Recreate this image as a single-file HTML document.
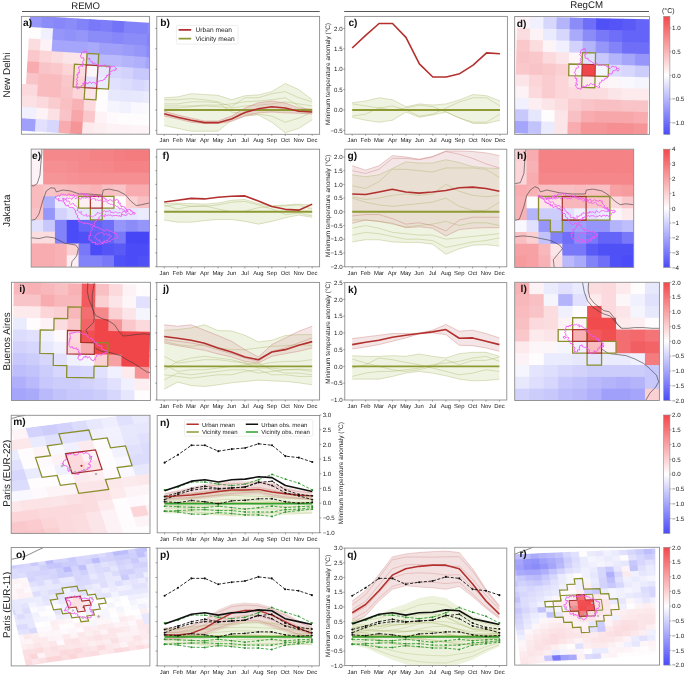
<!DOCTYPE html><html><head><meta charset="utf-8"><style>html,body{margin:0;padding:0;background:#fff;overflow:hidden}svg{display:block;font-family:"Liberation Sans",sans-serif;text-rendering:geometricPrecision;will-change:transform}</style></head><body>
<svg width="685" height="676" viewBox="0 0 685 676">
<rect width="685" height="676" fill="#fff"/>
<text x="85.7" y="9.3" font-size="9.6" text-anchor="middle" fill="#222">REMO</text>
<text x="586.6" y="8.2" font-size="9.7" text-anchor="middle" fill="#222">RegCM</text>
<line x1="22" y1="11.5" x2="319.7" y2="11.5" stroke="#444" stroke-width="0.9"/>
<line x1="344.2" y1="11.5" x2="649" y2="11.5" stroke="#444" stroke-width="0.9"/>
<text transform="translate(9.6,75) rotate(-90)" font-size="9.9" text-anchor="middle" fill="#222">New Delhi</text>
<text transform="translate(9.6,210.7) rotate(-90)" font-size="9.9" text-anchor="middle" fill="#222">Jakarta</text>
<text transform="translate(9.6,341.4) rotate(-90)" font-size="9.9" text-anchor="middle" fill="#222">Buenos Aires</text>
<text transform="translate(9.6,473.2) rotate(-90)" font-size="9.9" text-anchor="middle" fill="#222">Paris (EUR-22)</text>
<text transform="translate(9.6,604.8) rotate(-90)" font-size="9.9" text-anchor="middle" fill="#222">Paris (EUR-11)</text>
<clipPath id="c1"><rect x="21.4" y="16.4" width="128.2" height="117.8"/></clipPath>
<g clip-path="url(#c1)">
<rect x="21.4" y="16.4" width="128.2" height="117.8" fill="#fff"/>
<g transform="translate(18.4,14.8) rotate(3.5)">
<rect x="0" y="0" width="12.7" height="12.35" fill="#ffffff"/>
<rect x="11.8" y="0" width="12.7" height="12.35" fill="#9696fa"/>
<rect x="23.6" y="0" width="12.7" height="12.35" fill="#8c8cf9"/>
<rect x="35.4" y="0" width="12.7" height="12.35" fill="#8787f9"/>
<rect x="47.2" y="0" width="12.7" height="12.35" fill="#8c8cf9"/>
<rect x="59" y="0" width="12.7" height="12.35" fill="#8282f9"/>
<rect x="70.8" y="0" width="12.7" height="12.35" fill="#7878f9"/>
<rect x="82.6" y="0" width="12.7" height="12.35" fill="#7d7df9"/>
<rect x="94.4" y="0" width="12.7" height="12.35" fill="#7373f8"/>
<rect x="106.2" y="0" width="12.7" height="12.35" fill="#8282f9"/>
<rect x="118" y="0" width="12.7" height="12.35" fill="#8282f9"/>
<rect x="129.8" y="0" width="12.7" height="12.35" fill="#8c8cf9"/>
<rect x="0" y="11.45" width="12.7" height="12.35" fill="#ffffff"/>
<rect x="11.8" y="11.45" width="12.7" height="12.35" fill="#fefcfc"/>
<rect x="23.6" y="11.45" width="12.7" height="12.35" fill="#f0f0fe"/>
<rect x="35.4" y="11.45" width="12.7" height="12.35" fill="#9696fa"/>
<rect x="47.2" y="11.45" width="12.7" height="12.35" fill="#9191fa"/>
<rect x="59" y="11.45" width="12.7" height="12.35" fill="#9696fa"/>
<rect x="70.8" y="11.45" width="12.7" height="12.35" fill="#8c8cf9"/>
<rect x="82.6" y="11.45" width="12.7" height="12.35" fill="#8c8cf9"/>
<rect x="94.4" y="11.45" width="12.7" height="12.35" fill="#8787f9"/>
<rect x="106.2" y="11.45" width="12.7" height="12.35" fill="#8c8cf9"/>
<rect x="118" y="11.45" width="12.7" height="12.35" fill="#8c8cf9"/>
<rect x="129.8" y="11.45" width="12.7" height="12.35" fill="#8282f9"/>
<rect x="0" y="22.9" width="12.7" height="12.35" fill="#ffffff"/>
<rect x="11.8" y="22.9" width="12.7" height="12.35" fill="#fbdde0"/>
<rect x="23.6" y="22.9" width="12.7" height="12.35" fill="#fdf2f5"/>
<rect x="35.4" y="22.9" width="12.7" height="12.35" fill="#a5a5fb"/>
<rect x="47.2" y="22.9" width="12.7" height="12.35" fill="#a5a5fb"/>
<rect x="59" y="22.9" width="12.7" height="12.35" fill="#a5a5fb"/>
<rect x="70.8" y="22.9" width="12.7" height="12.35" fill="#aaaafb"/>
<rect x="82.6" y="22.9" width="12.7" height="12.35" fill="#a0a0fa"/>
<rect x="94.4" y="22.9" width="12.7" height="12.35" fill="#a0a0fa"/>
<rect x="106.2" y="22.9" width="12.7" height="12.35" fill="#9b9bfa"/>
<rect x="118" y="22.9" width="12.7" height="12.35" fill="#9696fa"/>
<rect x="129.8" y="22.9" width="12.7" height="12.35" fill="#8c8cf9"/>
<rect x="0" y="34.35" width="12.7" height="12.35" fill="#ffffff"/>
<rect x="11.8" y="34.35" width="12.7" height="12.35" fill="#fac8cb"/>
<rect x="23.6" y="34.35" width="12.7" height="12.35" fill="#fbd5d8"/>
<rect x="35.4" y="34.35" width="12.7" height="12.35" fill="#fbdde0"/>
<rect x="47.2" y="34.35" width="12.7" height="12.35" fill="#fce5e8"/>
<rect x="59" y="34.35" width="12.7" height="12.35" fill="#fce5e8"/>
<rect x="70.8" y="34.35" width="12.7" height="12.35" fill="#c8c8fc"/>
<rect x="82.6" y="34.35" width="12.7" height="12.35" fill="#b9b9fb"/>
<rect x="94.4" y="34.35" width="12.7" height="12.35" fill="#b9b9fb"/>
<rect x="106.2" y="34.35" width="12.7" height="12.35" fill="#b4b4fb"/>
<rect x="118" y="34.35" width="12.7" height="12.35" fill="#afaffb"/>
<rect x="129.8" y="34.35" width="12.7" height="12.35" fill="#a5a5fb"/>
<rect x="0" y="45.8" width="12.7" height="12.35" fill="#ffffff"/>
<rect x="11.8" y="45.8" width="12.7" height="12.35" fill="#f8acaf"/>
<rect x="23.6" y="45.8" width="12.7" height="12.35" fill="#f9c4c7"/>
<rect x="35.4" y="45.8" width="12.7" height="12.35" fill="#fac8cb"/>
<rect x="47.2" y="45.8" width="12.7" height="12.35" fill="#fbd5d8"/>
<rect x="59" y="45.8" width="12.7" height="12.35" fill="#fbdde0"/>
<rect x="70.8" y="45.8" width="12.7" height="12.35" fill="#fdf6f9"/>
<rect x="82.6" y="45.8" width="12.7" height="12.35" fill="#e6e6fd"/>
<rect x="94.4" y="45.8" width="12.7" height="12.35" fill="#d7d7fd"/>
<rect x="106.2" y="45.8" width="12.7" height="12.35" fill="#d2d2fd"/>
<rect x="118" y="45.8" width="12.7" height="12.35" fill="#c8c8fc"/>
<rect x="129.8" y="45.8" width="12.7" height="12.35" fill="#c8c8fc"/>
<rect x="0" y="57.25" width="12.7" height="12.35" fill="#ffffff"/>
<rect x="11.8" y="57.25" width="12.7" height="12.35" fill="#f9c4c7"/>
<rect x="23.6" y="57.25" width="12.7" height="12.35" fill="#f9bbbe"/>
<rect x="35.4" y="57.25" width="12.7" height="12.35" fill="#f9bbbe"/>
<rect x="47.2" y="57.25" width="12.7" height="12.35" fill="#fac8cb"/>
<rect x="59" y="57.25" width="12.7" height="12.35" fill="#fbd5d8"/>
<rect x="70.8" y="57.25" width="12.7" height="12.35" fill="#e1e1fd"/>
<rect x="82.6" y="57.25" width="12.7" height="12.35" fill="#ebebfe"/>
<rect x="94.4" y="57.25" width="12.7" height="12.35" fill="#e1e1fd"/>
<rect x="106.2" y="57.25" width="12.7" height="12.35" fill="#dcdcfd"/>
<rect x="118" y="57.25" width="12.7" height="12.35" fill="#d7d7fd"/>
<rect x="129.8" y="57.25" width="12.7" height="12.35" fill="#dcdcfd"/>
<rect x="0" y="68.7" width="12.7" height="12.35" fill="#fbd9dc"/>
<rect x="11.8" y="68.7" width="12.7" height="12.35" fill="#fbd9dc"/>
<rect x="23.6" y="68.7" width="12.7" height="12.35" fill="#f9bbbe"/>
<rect x="35.4" y="68.7" width="12.7" height="12.35" fill="#f9bbbe"/>
<rect x="47.2" y="68.7" width="12.7" height="12.35" fill="#f9c4c7"/>
<rect x="59" y="68.7" width="12.7" height="12.35" fill="#fbd5d8"/>
<rect x="70.8" y="68.7" width="12.7" height="12.35" fill="#fce5e8"/>
<rect x="82.6" y="68.7" width="12.7" height="12.35" fill="#fefcfc"/>
<rect x="94.4" y="68.7" width="12.7" height="12.35" fill="#e8e8fd"/>
<rect x="106.2" y="68.7" width="12.7" height="12.35" fill="#e6e6fd"/>
<rect x="118" y="68.7" width="12.7" height="12.35" fill="#e8e8fd"/>
<rect x="129.8" y="68.7" width="12.7" height="12.35" fill="#ebebfe"/>
<rect x="0" y="80.15" width="12.7" height="12.35" fill="#fbe1e4"/>
<rect x="11.8" y="80.15" width="12.7" height="12.35" fill="#fbe1e4"/>
<rect x="23.6" y="80.15" width="12.7" height="12.35" fill="#fbd9dc"/>
<rect x="35.4" y="80.15" width="12.7" height="12.35" fill="#facccf"/>
<rect x="47.2" y="80.15" width="12.7" height="12.35" fill="#f9c0c3"/>
<rect x="59" y="80.15" width="12.7" height="12.35" fill="#f8b2b5"/>
<rect x="70.8" y="80.15" width="12.7" height="12.35" fill="#fbd9dc"/>
<rect x="82.6" y="80.15" width="12.7" height="12.35" fill="#fefcfc"/>
<rect x="94.4" y="80.15" width="12.7" height="12.35" fill="#f5f5fe"/>
<rect x="106.2" y="80.15" width="12.7" height="12.35" fill="#f2f2fe"/>
<rect x="118" y="80.15" width="12.7" height="12.35" fill="#f8f8fe"/>
<rect x="129.8" y="80.15" width="12.7" height="12.35" fill="#fafafe"/>
<rect x="0" y="91.6" width="12.7" height="12.35" fill="#f0f0fe"/>
<rect x="11.8" y="91.6" width="12.7" height="12.35" fill="#f0f0fe"/>
<rect x="23.6" y="91.6" width="12.7" height="12.35" fill="#fdf2f5"/>
<rect x="35.4" y="91.6" width="12.7" height="12.35" fill="#fbe1e4"/>
<rect x="47.2" y="91.6" width="12.7" height="12.35" fill="#f9c4c7"/>
<rect x="59" y="91.6" width="12.7" height="12.35" fill="#f7a7aa"/>
<rect x="70.8" y="91.6" width="12.7" height="12.35" fill="#fac8cb"/>
<rect x="82.6" y="91.6" width="12.7" height="12.35" fill="#fdf2f5"/>
<rect x="94.4" y="91.6" width="12.7" height="12.35" fill="#fdf9fc"/>
<rect x="106.2" y="91.6" width="12.7" height="12.35" fill="#fefcfc"/>
<rect x="118" y="91.6" width="12.7" height="12.35" fill="#fefcfc"/>
<rect x="129.8" y="91.6" width="12.7" height="12.35" fill="#fefcfc"/>
<rect x="0" y="103.05" width="12.7" height="12.35" fill="#a0a0fa"/>
<rect x="11.8" y="103.05" width="12.7" height="12.35" fill="#a0a0fa"/>
<rect x="23.6" y="103.05" width="12.7" height="12.35" fill="#e1e1fd"/>
<rect x="35.4" y="103.05" width="12.7" height="12.35" fill="#d7d7fd"/>
<rect x="47.2" y="103.05" width="12.7" height="12.35" fill="#f8acaf"/>
<rect x="59" y="103.05" width="12.7" height="12.35" fill="#f69598"/>
<rect x="70.8" y="103.05" width="12.7" height="12.35" fill="#fceaed"/>
<rect x="82.6" y="103.05" width="12.7" height="12.35" fill="#fceef1"/>
<rect x="94.4" y="103.05" width="12.7" height="12.35" fill="#fdf2f5"/>
<rect x="106.2" y="103.05" width="12.7" height="12.35" fill="#fdf2f5"/>
<rect x="118" y="103.05" width="12.7" height="12.35" fill="#fdf4f7"/>
<rect x="129.8" y="103.05" width="12.7" height="12.35" fill="#fdf4f7"/>
</g>
<path d="M86.97,53.41 L98.75,54.13 L98.05,65.56 L109.83,66.28 L108.43,89.13 L96.65,88.41 L95.95,99.84 L84.17,99.12 L84.87,87.69 L73.1,86.97 L74.49,64.12 L86.27,64.84 Z" fill="none" stroke="#8a8f2c" stroke-width="1.3" stroke-linejoin="miter"/><path d="M86.27,64.84 L98.05,65.56 L96.65,88.41 L84.87,87.69 Z" fill="none" stroke="#a8302e" stroke-width="1.2" stroke-linejoin="miter"/><path d="M82.6,52.1 L83.87,52.6 L84.67,50.73 L86.01,51.62 L87.1,51.2 L86.43,52.49 L87.7,53.62 L87.77,54.84 L87.5,56.1 L87.12,57.65 L87.46,58.77 L90.05,58.56 L89.54,60.18 L90.4,61 L91.25,61.73 L92.47,61.7 L92.79,63.53 L94.3,62.9 L95.26,63.71 L96.43,64.26 L97.2,65.3 L98.64,64.51 L99.03,66.5 L100.67,65.18 L101.2,66.8 L101.87,65.71 L103.2,65.96 L104.01,65.13 L105.1,64.9 L105.43,66.49 L106.48,67.12 L108.73,66.13 L109,67.8 L110.36,68.65 L111.13,66.05 L112.46,66.72 L113.55,66.01 L114.9,66.8 L115.56,67.58 L116.11,68.44 L116.8,69.2 L115.56,68.99 L115.11,70.61 L113.73,70.06 L112.85,70.68 L111.9,71.12 L111,71.7 L109.17,71.84 L110.37,74.32 L108.23,74.23 L108,75.6 L106.45,75.42 L106.48,77.53 L105.1,77.6 L104.89,79.35 L103.44,79.44 L102.82,80.64 L101.2,80.5 L100.15,80.67 L99.21,81.19 L98.2,81.5 L96.78,81.95 L96.62,83.23 L96.3,84.4 L95.7,83.15 L94.65,82.83 L93.59,82.54 L92.4,82.5 L91.58,83.51 L90.2,82.06 L89.12,81.94 L88.4,83.4 L86.81,83.72 L86.21,82.53 L85.5,81.5 L84.28,81.77 L84.73,83.48 L82.73,83.07 L83.67,85.21 L82.4,85.43 L81.23,85.74 L80.88,86.76 L80.2,87.49 L79.6,88.3 L78.66,87.94 L77.37,89.06 L76.81,87.05 L75.7,87.4 L76.81,86.65 L76.39,85.46 L76.07,84.3 L78.05,83.81 L76.51,82.29 L76.76,81.3 L77.7,80.5 L76.2,79.54 L77.28,78.14 L77.9,76.82 L77.32,75.71 L76.7,74.6 L78.11,74.64 L78.09,72.51 L79.6,72.7 L79.33,71.73 L79.17,70.75 L79.57,69.63 L78.7,68.8 L78.57,67.03 L79.94,66.77 L80.41,65.61 L82.86,66.42 L82.02,63.96 L83.6,63.9 L82.61,62.67 L82.75,61.45 L84.31,60.23 L83.6,59 L83.53,57.58 L81.63,58.03 L81.02,57.16 L80.6,56.1 L80.83,54.97 L81.57,54.09 L81.53,52.82 Z" fill="none" stroke="#f055f0" stroke-width="0.9" stroke-linejoin="round"/>
</g>
<rect x="21.4" y="16.4" width="128.2" height="117.8" fill="none" stroke="#8c8c8c" stroke-width="0.9"/>
<text x="23.1" y="26.4" font-size="10.2" font-weight="bold" fill="#111">a)</text>
<clipPath id="c2"><rect x="156.8" y="16.4" width="162.8" height="117.9"/></clipPath>
<g clip-path="url(#c2)">
<polygon points="164.2,97.76 177.65,96.94 191.11,93.68 204.56,94.5 218.02,95.31 231.47,99.8 244.93,95.72 258.38,94.9 271.84,91.64 285.29,83.48 298.75,89.6 312.2,99.8 312.2,119.79 298.75,128.36 285.29,132.85 271.84,122.24 258.38,114.9 244.93,116.12 231.47,120.2 218.02,131.22 204.56,131.22 191.11,131.22 177.65,128.36 164.2,125.5" fill="#eaf1da" fill-opacity="0.8"/>
<polyline points="164.2,97.76 177.65,96.94 191.11,93.68 204.56,94.5 218.02,95.31 231.47,99.8 244.93,95.72 258.38,94.9 271.84,91.64 285.29,83.48 298.75,89.6 312.2,99.8" fill="none" stroke="#a6ad5c" stroke-width="0.5" stroke-opacity="0.7" stroke-linejoin="round"/>
<polyline points="164.2,125.5 177.65,128.36 191.11,131.22 204.56,131.22 218.02,131.22 231.47,120.2 244.93,116.12 258.38,114.9 271.84,122.24 285.29,132.85 298.75,128.36 312.2,119.79" fill="none" stroke="#a6ad5c" stroke-width="0.5" stroke-opacity="0.7" stroke-linejoin="round"/>
<polyline points="164.2,99.8 177.65,99.8 191.11,98.58 204.56,99.8 218.02,101.84 231.47,106.74 244.93,97.76 258.38,97.76 271.84,93.68 285.29,91.64 298.75,97.76 312.2,101.84" fill="none" stroke="#a6ad5c" stroke-width="0.5" stroke-opacity="0.7" stroke-linejoin="round"/>
<polyline points="164.2,103.88 177.65,103.88 191.11,101.84 204.56,101.84 218.02,102.66 231.47,112.04 244.93,114.08 258.38,114.08 271.84,116.12 285.29,122.24 298.75,118.16 312.2,112.04" fill="none" stroke="#a6ad5c" stroke-width="0.5" stroke-opacity="0.7" stroke-linejoin="round"/>
<polyline points="164.2,107.96 177.65,107.96 191.11,106.74 204.56,105.92 218.02,106.74 231.47,107.96 244.93,105.92 258.38,105.1 271.84,103.88 285.29,101.84 298.75,103.88 312.2,105.92" fill="none" stroke="#a6ad5c" stroke-width="0.5" stroke-opacity="0.7" stroke-linejoin="round"/>
<polyline points="164.2,105.92 177.65,105.92 191.11,105.92 204.56,105.1 218.02,105.1 231.47,103.88 244.93,101.84 258.38,101.02 271.84,99.8 285.29,97.76 298.75,105.92 312.2,112.04" fill="none" stroke="#a6ad5c" stroke-width="0.5" stroke-opacity="0.7" stroke-linejoin="round"/>
<polygon points="164.2,111.22 177.65,114.9 191.11,118.16 204.56,121.02 218.02,121.02 231.47,116.12 244.93,107.96 258.38,102.66 271.84,101.02 285.29,103.06 298.75,107.96 312.2,109.18 312.2,114.08 298.75,113.26 285.29,112.86 271.84,112.04 258.38,112.86 244.93,116.12 231.47,121.42 218.02,123.46 204.56,123.46 191.11,122.24 177.65,118.98 164.2,116.12" fill="#d9a0a0" fill-opacity="0.35"/>
<polyline points="164.2,111.22 177.65,114.9 191.11,118.16 204.56,121.02 218.02,121.02 231.47,116.12 244.93,107.96 258.38,102.66 271.84,101.02 285.29,103.06 298.75,107.96 312.2,109.18" fill="none" stroke="#c86a6a" stroke-width="0.5" stroke-opacity="0.7" stroke-linejoin="round"/>
<polyline points="164.2,116.12 177.65,118.98 191.11,122.24 204.56,123.46 218.02,123.46 231.47,121.42 244.93,116.12 258.38,112.86 271.84,112.04 285.29,112.86 298.75,113.26 312.2,114.08" fill="none" stroke="#c86a6a" stroke-width="0.5" stroke-opacity="0.7" stroke-linejoin="round"/>
<polyline points="164.2,110 177.65,110 191.11,110 204.56,110 218.02,110 231.47,110 244.93,110 258.38,110 271.84,110 285.29,110 298.75,110 312.2,110" fill="none" stroke="#8f9a35" stroke-width="1.9" stroke-linejoin="round"/>
<polyline points="164.2,113.67 177.65,117.34 191.11,120.2 204.56,122.65 218.02,122.65 231.47,118.98 244.93,112.45 258.38,108.78 271.84,106.74 285.29,107.96 298.75,111.22 312.2,112.04" fill="none" stroke="#b3302f" stroke-width="1.6" stroke-linejoin="round"/>
<rect x="176.4" y="25.4" width="61.7" height="18.7" rx="1.5" fill="#fff" fill-opacity="0.85" stroke="#e2e2e2" stroke-width="0.6"/>
<line x1="178.6" y1="29.9" x2="191.2" y2="29.9" stroke="#b3302f" stroke-width="1.6"/>
<line x1="178.6" y1="38.6" x2="191.2" y2="38.6" stroke="#8f9a35" stroke-width="1.6"/>
<text x="195.6" y="32.3" font-size="6.6" fill="#222">Urban mean</text>
<text x="195.6" y="41.0" font-size="6.6" fill="#222">Vicinity mean</text>
</g>
<rect x="156.8" y="16.4" width="162.8" height="117.9" fill="none" stroke="#8c8c8c" stroke-width="0.9"/>
<line x1="164.2" y1="134.3" x2="164.2" y2="135.9" stroke="#666" stroke-width="0.6"/>
<text x="164.2" y="142.3" font-size="5.9" text-anchor="middle" fill="#222">Jan</text>
<line x1="177.65" y1="134.3" x2="177.65" y2="135.9" stroke="#666" stroke-width="0.6"/>
<text x="177.65" y="142.3" font-size="5.9" text-anchor="middle" fill="#222">Feb</text>
<line x1="191.11" y1="134.3" x2="191.11" y2="135.9" stroke="#666" stroke-width="0.6"/>
<text x="191.11" y="142.3" font-size="5.9" text-anchor="middle" fill="#222">Mar</text>
<line x1="204.56" y1="134.3" x2="204.56" y2="135.9" stroke="#666" stroke-width="0.6"/>
<text x="204.56" y="142.3" font-size="5.9" text-anchor="middle" fill="#222">Apr</text>
<line x1="218.02" y1="134.3" x2="218.02" y2="135.9" stroke="#666" stroke-width="0.6"/>
<text x="218.02" y="142.3" font-size="5.9" text-anchor="middle" fill="#222">May</text>
<line x1="231.47" y1="134.3" x2="231.47" y2="135.9" stroke="#666" stroke-width="0.6"/>
<text x="231.47" y="142.3" font-size="5.9" text-anchor="middle" fill="#222">Jun</text>
<line x1="244.93" y1="134.3" x2="244.93" y2="135.9" stroke="#666" stroke-width="0.6"/>
<text x="244.93" y="142.3" font-size="5.9" text-anchor="middle" fill="#222">Jul</text>
<line x1="258.38" y1="134.3" x2="258.38" y2="135.9" stroke="#666" stroke-width="0.6"/>
<text x="258.38" y="142.3" font-size="5.9" text-anchor="middle" fill="#222">Aug</text>
<line x1="271.84" y1="134.3" x2="271.84" y2="135.9" stroke="#666" stroke-width="0.6"/>
<text x="271.84" y="142.3" font-size="5.9" text-anchor="middle" fill="#222">Sep</text>
<line x1="285.29" y1="134.3" x2="285.29" y2="135.9" stroke="#666" stroke-width="0.6"/>
<text x="285.29" y="142.3" font-size="5.9" text-anchor="middle" fill="#222">Oct</text>
<line x1="298.75" y1="134.3" x2="298.75" y2="135.9" stroke="#666" stroke-width="0.6"/>
<text x="298.75" y="142.3" font-size="5.9" text-anchor="middle" fill="#222">Nov</text>
<line x1="312.2" y1="134.3" x2="312.2" y2="135.9" stroke="#666" stroke-width="0.6"/>
<text x="312.2" y="142.3" font-size="5.9" text-anchor="middle" fill="#222">Dec</text>
<line x1="155.2" y1="130.4" x2="156.8" y2="130.4" stroke="#666" stroke-width="0.6"/>
<line x1="155.2" y1="110" x2="156.8" y2="110" stroke="#666" stroke-width="0.6"/>
<line x1="155.2" y1="89.6" x2="156.8" y2="89.6" stroke="#666" stroke-width="0.6"/>
<line x1="155.2" y1="69.2" x2="156.8" y2="69.2" stroke="#666" stroke-width="0.6"/>
<line x1="155.2" y1="48.8" x2="156.8" y2="48.8" stroke="#666" stroke-width="0.6"/>
<line x1="155.2" y1="28.4" x2="156.8" y2="28.4" stroke="#666" stroke-width="0.6"/>
<text x="160.3" y="26.4" font-size="10.2" font-weight="bold" fill="#111">b)</text>
<clipPath id="c3"><rect x="344.8" y="16.4" width="162.6" height="117.8"/></clipPath>
<g clip-path="url(#c3)">
<polygon points="352.2,102.66 365.64,101.02 379.07,97.76 392.51,99.8 405.95,106.74 419.38,103.88 432.82,105.1 446.25,103.88 459.69,99.8 473.13,94.5 486.56,95.72 500,101.02 500,120.2 486.56,123.46 473.13,123.46 459.69,118.16 446.25,112.04 432.82,114.9 419.38,117.34 405.95,112.04 392.51,120.2 379.07,122.24 365.64,120.2 352.2,117.34" fill="#eaf1da" fill-opacity="0.8"/>
<polyline points="352.2,102.66 365.64,101.02 379.07,97.76 392.51,99.8 405.95,106.74 419.38,103.88 432.82,105.1 446.25,103.88 459.69,99.8 473.13,94.5 486.56,95.72 500,101.02" fill="none" stroke="#a6ad5c" stroke-width="0.5" stroke-opacity="0.7" stroke-linejoin="round"/>
<polyline points="352.2,117.34 365.64,120.2 379.07,122.24 392.51,120.2 405.95,112.04 419.38,117.34 432.82,114.9 446.25,112.04 459.69,118.16 473.13,123.46 486.56,123.46 500,120.2" fill="none" stroke="#a6ad5c" stroke-width="0.5" stroke-opacity="0.7" stroke-linejoin="round"/>
<polyline points="352.2,103.88 365.64,105.92 379.07,107.96 392.51,105.92 405.95,110 419.38,116.12 432.82,114.08 446.25,107.96 459.69,101.84 473.13,97.76 486.56,97.76 500,105.92" fill="none" stroke="#a6ad5c" stroke-width="0.5" stroke-opacity="0.7" stroke-linejoin="round"/>
<polyline points="352.2,116.12 365.64,114.08 379.07,107.96 392.51,110 405.95,107.96 419.38,105.1 432.82,106.74 446.25,112.04 459.69,118.16 473.13,122.24 486.56,122.24 500,114.08" fill="none" stroke="#a6ad5c" stroke-width="0.5" stroke-opacity="0.7" stroke-linejoin="round"/>
<polyline points="352.2,110 365.64,110 379.07,110 392.51,110 405.95,110 419.38,110 432.82,110 446.25,110 459.69,110 473.13,110 486.56,110 500,110" fill="none" stroke="#8f9a35" stroke-width="1.9" stroke-linejoin="round"/>
<polyline points="352.2,47.98 365.64,35.34 379.07,23.5 392.51,23.5 405.95,37.38 419.38,63.9 432.82,76.95 446.25,76.95 459.69,73.69 473.13,65.12 486.56,52.88 500,53.7" fill="none" stroke="#b3302f" stroke-width="1.6" stroke-linejoin="round"/>
</g>
<rect x="344.8" y="16.4" width="162.6" height="117.8" fill="none" stroke="#8c8c8c" stroke-width="0.9"/>
<line x1="352.2" y1="134.2" x2="352.2" y2="135.8" stroke="#666" stroke-width="0.6"/>
<text x="352.2" y="142.2" font-size="5.9" text-anchor="middle" fill="#222">Jan</text>
<line x1="365.64" y1="134.2" x2="365.64" y2="135.8" stroke="#666" stroke-width="0.6"/>
<text x="365.64" y="142.2" font-size="5.9" text-anchor="middle" fill="#222">Feb</text>
<line x1="379.07" y1="134.2" x2="379.07" y2="135.8" stroke="#666" stroke-width="0.6"/>
<text x="379.07" y="142.2" font-size="5.9" text-anchor="middle" fill="#222">Mar</text>
<line x1="392.51" y1="134.2" x2="392.51" y2="135.8" stroke="#666" stroke-width="0.6"/>
<text x="392.51" y="142.2" font-size="5.9" text-anchor="middle" fill="#222">Apr</text>
<line x1="405.95" y1="134.2" x2="405.95" y2="135.8" stroke="#666" stroke-width="0.6"/>
<text x="405.95" y="142.2" font-size="5.9" text-anchor="middle" fill="#222">May</text>
<line x1="419.38" y1="134.2" x2="419.38" y2="135.8" stroke="#666" stroke-width="0.6"/>
<text x="419.38" y="142.2" font-size="5.9" text-anchor="middle" fill="#222">Jun</text>
<line x1="432.82" y1="134.2" x2="432.82" y2="135.8" stroke="#666" stroke-width="0.6"/>
<text x="432.82" y="142.2" font-size="5.9" text-anchor="middle" fill="#222">Jul</text>
<line x1="446.25" y1="134.2" x2="446.25" y2="135.8" stroke="#666" stroke-width="0.6"/>
<text x="446.25" y="142.2" font-size="5.9" text-anchor="middle" fill="#222">Aug</text>
<line x1="459.69" y1="134.2" x2="459.69" y2="135.8" stroke="#666" stroke-width="0.6"/>
<text x="459.69" y="142.2" font-size="5.9" text-anchor="middle" fill="#222">Sep</text>
<line x1="473.13" y1="134.2" x2="473.13" y2="135.8" stroke="#666" stroke-width="0.6"/>
<text x="473.13" y="142.2" font-size="5.9" text-anchor="middle" fill="#222">Oct</text>
<line x1="486.56" y1="134.2" x2="486.56" y2="135.8" stroke="#666" stroke-width="0.6"/>
<text x="486.56" y="142.2" font-size="5.9" text-anchor="middle" fill="#222">Nov</text>
<line x1="500" y1="134.2" x2="500" y2="135.8" stroke="#666" stroke-width="0.6"/>
<text x="500" y="142.2" font-size="5.9" text-anchor="middle" fill="#222">Dec</text>
<line x1="343.2" y1="130.4" x2="344.8" y2="130.4" stroke="#666" stroke-width="0.6"/>
<line x1="343.2" y1="110" x2="344.8" y2="110" stroke="#666" stroke-width="0.6"/>
<line x1="343.2" y1="89.6" x2="344.8" y2="89.6" stroke="#666" stroke-width="0.6"/>
<line x1="343.2" y1="69.2" x2="344.8" y2="69.2" stroke="#666" stroke-width="0.6"/>
<line x1="343.2" y1="48.8" x2="344.8" y2="48.8" stroke="#666" stroke-width="0.6"/>
<line x1="343.2" y1="28.4" x2="344.8" y2="28.4" stroke="#666" stroke-width="0.6"/>
<text x="342.6" y="132.6" font-size="6.1" text-anchor="end" fill="#222">−0.5</text>
<text x="342.6" y="112.2" font-size="6.1" text-anchor="end" fill="#222">0.0</text>
<text x="342.6" y="91.8" font-size="6.1" text-anchor="end" fill="#222">0.5</text>
<text x="342.6" y="71.4" font-size="6.1" text-anchor="end" fill="#222">1.0</text>
<text x="342.6" y="51" font-size="6.1" text-anchor="end" fill="#222">1.5</text>
<text x="342.6" y="30.6" font-size="6.1" text-anchor="end" fill="#222">2.0</text>
<text x="348.4" y="26.4" font-size="10.2" font-weight="bold" fill="#111">c)</text>
<text transform="translate(330,74) rotate(-90)" font-size="6.45" text-anchor="middle" fill="#222">Minimum temperature anomaly (°C)</text>
<clipPath id="c4"><rect x="514.7" y="16.5" width="134.7" height="117.9"/></clipPath>
<g clip-path="url(#c4)">
<rect x="514.7" y="16.5" width="134.7" height="117.9" fill="#fff"/>
<g transform="translate(517.1,16.5) rotate(1.2)">
<rect x="0" y="0" width="14.1" height="12.5" fill="#fdf2f5"/>
<rect x="13.2" y="0" width="14.1" height="12.5" fill="#f0f0fe"/>
<rect x="26.4" y="0" width="14.1" height="12.5" fill="#d7d7fd"/>
<rect x="39.6" y="0" width="14.1" height="12.5" fill="#b4b4fb"/>
<rect x="52.8" y="0" width="14.1" height="12.5" fill="#8c8cf9"/>
<rect x="66" y="0" width="14.1" height="12.5" fill="#6e6ef8"/>
<rect x="79.2" y="0" width="14.1" height="12.5" fill="#5050f7"/>
<rect x="92.4" y="0" width="14.1" height="12.5" fill="#5555f7"/>
<rect x="105.6" y="0" width="14.1" height="12.5" fill="#5a5af7"/>
<rect x="118.8" y="0" width="14.1" height="12.5" fill="#6464f8"/>
<rect x="0" y="11.6" width="14.1" height="12.5" fill="#fbdde0"/>
<rect x="13.2" y="11.6" width="14.1" height="12.5" fill="#fdf2f5"/>
<rect x="26.4" y="11.6" width="14.1" height="12.5" fill="#ebebfe"/>
<rect x="39.6" y="11.6" width="14.1" height="12.5" fill="#d7d7fd"/>
<rect x="52.8" y="11.6" width="14.1" height="12.5" fill="#aaaafb"/>
<rect x="66" y="11.6" width="14.1" height="12.5" fill="#8c8cf9"/>
<rect x="79.2" y="11.6" width="14.1" height="12.5" fill="#7878f9"/>
<rect x="92.4" y="11.6" width="14.1" height="12.5" fill="#6e6ef8"/>
<rect x="105.6" y="11.6" width="14.1" height="12.5" fill="#6464f8"/>
<rect x="118.8" y="11.6" width="14.1" height="12.5" fill="#6464f8"/>
<rect x="0" y="23.2" width="14.1" height="12.5" fill="#fac8cb"/>
<rect x="13.2" y="23.2" width="14.1" height="12.5" fill="#fbdde0"/>
<rect x="26.4" y="23.2" width="14.1" height="12.5" fill="#fdf4f7"/>
<rect x="39.6" y="23.2" width="14.1" height="12.5" fill="#f0f0fe"/>
<rect x="52.8" y="23.2" width="14.1" height="12.5" fill="#d2d2fd"/>
<rect x="66" y="23.2" width="14.1" height="12.5" fill="#b4b4fb"/>
<rect x="79.2" y="23.2" width="14.1" height="12.5" fill="#9696fa"/>
<rect x="92.4" y="23.2" width="14.1" height="12.5" fill="#8282f9"/>
<rect x="105.6" y="23.2" width="14.1" height="12.5" fill="#6e6ef8"/>
<rect x="118.8" y="23.2" width="14.1" height="12.5" fill="#6e6ef8"/>
<rect x="0" y="34.8" width="14.1" height="12.5" fill="#f9c4c7"/>
<rect x="13.2" y="34.8" width="14.1" height="12.5" fill="#fac8cb"/>
<rect x="26.4" y="34.8" width="14.1" height="12.5" fill="#fbd9dc"/>
<rect x="39.6" y="34.8" width="14.1" height="12.5" fill="#fce5e8"/>
<rect x="52.8" y="34.8" width="14.1" height="12.5" fill="#fdf6f9"/>
<rect x="66" y="34.8" width="14.1" height="12.5" fill="#e1e1fd"/>
<rect x="79.2" y="34.8" width="14.1" height="12.5" fill="#c8c8fc"/>
<rect x="92.4" y="34.8" width="14.1" height="12.5" fill="#b4b4fb"/>
<rect x="105.6" y="34.8" width="14.1" height="12.5" fill="#a5a5fb"/>
<rect x="118.8" y="34.8" width="14.1" height="12.5" fill="#9696fa"/>
<rect x="0" y="46.4" width="14.1" height="12.5" fill="#fac8cb"/>
<rect x="13.2" y="46.4" width="14.1" height="12.5" fill="#f9c4c7"/>
<rect x="26.4" y="46.4" width="14.1" height="12.5" fill="#fac8cb"/>
<rect x="39.6" y="46.4" width="14.1" height="12.5" fill="#fad0d3"/>
<rect x="52.8" y="46.4" width="14.1" height="12.5" fill="#fdf2f5"/>
<rect x="66" y="46.4" width="14.1" height="12.5" fill="#f14649"/>
<rect x="79.2" y="46.4" width="14.1" height="12.5" fill="#f5f5fe"/>
<rect x="92.4" y="46.4" width="14.1" height="12.5" fill="#dcdcfd"/>
<rect x="105.6" y="46.4" width="14.1" height="12.5" fill="#d7d7fd"/>
<rect x="118.8" y="46.4" width="14.1" height="12.5" fill="#cdcdfc"/>
<rect x="0" y="58" width="14.1" height="12.5" fill="#fce5e8"/>
<rect x="13.2" y="58" width="14.1" height="12.5" fill="#fbd5d8"/>
<rect x="26.4" y="58" width="14.1" height="12.5" fill="#facccf"/>
<rect x="39.6" y="58" width="14.1" height="12.5" fill="#fbd5d8"/>
<rect x="52.8" y="58" width="14.1" height="12.5" fill="#fce5e8"/>
<rect x="66" y="58" width="14.1" height="12.5" fill="#fceaed"/>
<rect x="79.2" y="58" width="14.1" height="12.5" fill="#fdf2f5"/>
<rect x="92.4" y="58" width="14.1" height="12.5" fill="#fdf6f9"/>
<rect x="105.6" y="58" width="14.1" height="12.5" fill="#f8f8fe"/>
<rect x="118.8" y="58" width="14.1" height="12.5" fill="#f5f5fe"/>
<rect x="0" y="69.6" width="14.1" height="12.5" fill="#fdf2f5"/>
<rect x="13.2" y="69.6" width="14.1" height="12.5" fill="#fbd9dc"/>
<rect x="26.4" y="69.6" width="14.1" height="12.5" fill="#facccf"/>
<rect x="39.6" y="69.6" width="14.1" height="12.5" fill="#fbd5d8"/>
<rect x="52.8" y="69.6" width="14.1" height="12.5" fill="#fbd9dc"/>
<rect x="66" y="69.6" width="14.1" height="12.5" fill="#fbdde0"/>
<rect x="79.2" y="69.6" width="14.1" height="12.5" fill="#fbdde0"/>
<rect x="92.4" y="69.6" width="14.1" height="12.5" fill="#fce5e8"/>
<rect x="105.6" y="69.6" width="14.1" height="12.5" fill="#fceaed"/>
<rect x="118.8" y="69.6" width="14.1" height="12.5" fill="#fceaed"/>
<rect x="0" y="81.2" width="14.1" height="12.5" fill="#f0f0fe"/>
<rect x="13.2" y="81.2" width="14.1" height="12.5" fill="#fceef1"/>
<rect x="26.4" y="81.2" width="14.1" height="12.5" fill="#fce5e8"/>
<rect x="39.6" y="81.2" width="14.1" height="12.5" fill="#fbdde0"/>
<rect x="52.8" y="81.2" width="14.1" height="12.5" fill="#facccf"/>
<rect x="66" y="81.2" width="14.1" height="12.5" fill="#f9c4c7"/>
<rect x="79.2" y="81.2" width="14.1" height="12.5" fill="#f9c0c3"/>
<rect x="92.4" y="81.2" width="14.1" height="12.5" fill="#f9c0c3"/>
<rect x="105.6" y="81.2" width="14.1" height="12.5" fill="#f9c4c7"/>
<rect x="118.8" y="81.2" width="14.1" height="12.5" fill="#f9c4c7"/>
<rect x="0" y="92.8" width="14.1" height="12.5" fill="#c8c8fc"/>
<rect x="13.2" y="92.8" width="14.1" height="12.5" fill="#e6e6fd"/>
<rect x="26.4" y="92.8" width="14.1" height="12.5" fill="#fefcfc"/>
<rect x="39.6" y="92.8" width="14.1" height="12.5" fill="#fce5e8"/>
<rect x="52.8" y="92.8" width="14.1" height="12.5" fill="#f9c0c3"/>
<rect x="66" y="92.8" width="14.1" height="12.5" fill="#f8acaf"/>
<rect x="79.2" y="92.8" width="14.1" height="12.5" fill="#f7a7aa"/>
<rect x="92.4" y="92.8" width="14.1" height="12.5" fill="#f7a7aa"/>
<rect x="105.6" y="92.8" width="14.1" height="12.5" fill="#f7a7aa"/>
<rect x="118.8" y="92.8" width="14.1" height="12.5" fill="#f8acaf"/>
<rect x="0" y="104.4" width="14.1" height="12.5" fill="#a5a5fb"/>
<rect x="13.2" y="104.4" width="14.1" height="12.5" fill="#c3c3fc"/>
<rect x="26.4" y="104.4" width="14.1" height="12.5" fill="#ebebfe"/>
<rect x="39.6" y="104.4" width="14.1" height="12.5" fill="#fce5e8"/>
<rect x="52.8" y="104.4" width="14.1" height="12.5" fill="#f8acaf"/>
<rect x="66" y="104.4" width="14.1" height="12.5" fill="#f69598"/>
<rect x="79.2" y="104.4" width="14.1" height="12.5" fill="#f69598"/>
<rect x="92.4" y="104.4" width="14.1" height="12.5" fill="#f68f92"/>
<rect x="105.6" y="104.4" width="14.1" height="12.5" fill="#f68f92"/>
<rect x="118.8" y="104.4" width="14.1" height="12.5" fill="#f69598"/>
</g>
<path d="M582.36,52.67 L595.55,52.95 L595.31,64.55 L608.51,64.82 L608.27,76.42 L595.07,76.15 L594.83,87.74 L581.63,87.47 L581.87,75.87 L568.67,75.59 L568.92,64 L582.11,64.27 Z" fill="none" stroke="#8a8f2c" stroke-width="1.3" stroke-linejoin="miter"/><path d="M582.11,64.27 L595.31,64.55 L595.07,76.15 L581.87,75.87 Z" fill="none" stroke="#a8302e" stroke-width="1" stroke-linejoin="miter"/><path d="M583.8,48.4 L585.4,48.74 L584.96,50.48 L585.29,51.69 L586.5,52.3 L586.29,53.33 L585.96,54.31 L584.52,54.89 L585.1,56.2 L585.03,57.87 L586.07,58.43 L587.91,58.19 L588.02,59.68 L589.1,60.2 L589.87,61.15 L591.21,61.26 L592.05,62.12 L593,62.8 L594.01,63.42 L594.64,64.82 L596.73,63.25 L597.67,64.01 L598.3,65.4 L599.4,65.4 L600.41,64.99 L601.6,65.35 L602.65,65.11 L603.5,64.1 L604.09,65.15 L605.38,65.28 L606.27,65.94 L606.91,66.93 L608.66,66.44 L608.8,68.1 L610.05,68.59 L610.96,67.46 L611.94,66.64 L612.96,66.05 L614.32,67.02 L615.4,66.7 L616.57,67.09 L616.63,69.09 L618.65,68.25 L619.3,69.4 L618.59,70.37 L617.85,71.25 L616,69.33 L615.25,70.18 L614.49,71.03 L613.2,70.51 L612.7,72 L612.22,73.08 L611.69,74.11 L609.7,73.68 L608.61,74.15 L608.8,75.9 L607.7,76.42 L607.38,78.11 L605.87,78.02 L604.8,78.6 L604.52,79.88 L603.44,80.36 L601.67,80.15 L601.72,81.76 L600.9,82.5 L599.16,82.96 L599.53,84.46 L598.82,85.42 L599.89,87.27 L598.3,87.8 L597.3,86.42 L595.6,86.5 L595.01,85.27 L594.41,84.05 L592.54,84.67 L591.7,83.8 L590.54,83.6 L589.63,84.34 L588.9,85.86 L587.49,84.62 L586.5,85.1 L586.29,86.66 L585.05,86.85 L583.02,86 L582.67,87.37 L581.41,87.54 L581.2,89.1 L579.93,89 L578.93,88.36 L577.52,88.56 L576.81,87.32 L575.9,86.5 L575.02,85.13 L577.79,84.73 L575.55,83.01 L576.75,82.19 L577.3,81.2 L576.08,80.49 L577.02,78.67 L575.1,78.32 L575.23,76.92 L574.6,75.9 L575.95,75.04 L575.4,73.81 L574.13,72.43 L575.22,71.52 L575.52,70.45 L575.9,69.4 L575.98,68.16 L577.65,67.88 L578.69,67.23 L577.71,65.34 L577.64,64.01 L579.66,63.94 L579.9,62.8 L581.43,61.96 L580.34,60.6 L580.91,59.57 L580.65,58.38 L581.67,57.44 L581.2,56.2 L580.54,55.34 L579.6,54.57 L581.07,52.99 L579.9,52.3 L580.82,51.66 L580.94,50.22 L581.91,49.63 L583.5,49.66 Z" fill="none" stroke="#f055f0" stroke-width="0.9" stroke-linejoin="round"/>
</g>
<rect x="514.7" y="16.5" width="134.7" height="117.9" fill="none" stroke="#8c8c8c" stroke-width="0.9"/>
<text x="516.8" y="26.5" font-size="10.2" font-weight="bold" fill="#111">d)</text>
<linearGradient id="g5" x1="0" y1="0" x2="0" y2="1">
<stop offset="0" stop-color="#f2484b"/>
<stop offset="0.05" stop-color="#f35a5d"/>
<stop offset="0.1" stop-color="#f46c6f"/>
<stop offset="0.15" stop-color="#f57e81"/>
<stop offset="0.2" stop-color="#f79193"/>
<stop offset="0.25" stop-color="#f8a3a5"/>
<stop offset="0.3" stop-color="#f9b5b7"/>
<stop offset="0.35" stop-color="#fbc8c9"/>
<stop offset="0.4" stop-color="#fcdadb"/>
<stop offset="0.45" stop-color="#fdeced"/>
<stop offset="0.5" stop-color="#ffffff"/>
<stop offset="0.55" stop-color="#ededfe"/>
<stop offset="0.6" stop-color="#dbdbfd"/>
<stop offset="0.65" stop-color="#c9c9fc"/>
<stop offset="0.7" stop-color="#b7b7fb"/>
<stop offset="0.75" stop-color="#a5a5fb"/>
<stop offset="0.8" stop-color="#9393fa"/>
<stop offset="0.85" stop-color="#8181f9"/>
<stop offset="0.9" stop-color="#6f6ff8"/>
<stop offset="0.95" stop-color="#5d5df7"/>
<stop offset="1" stop-color="#4b4bf7"/>
</linearGradient>
<rect x="663.7" y="16.3" width="6.2" height="118.1" fill="url(#g5)" stroke="#8c8c8c" stroke-width="0.6"/>
<line x1="669.9" y1="122.59" x2="671.4" y2="122.59" stroke="#666" stroke-width="0.5"/>
<text x="672.1" y="124.79" font-size="6.2" fill="#222">−1.0</text>
<line x1="669.9" y1="98.97" x2="671.4" y2="98.97" stroke="#666" stroke-width="0.5"/>
<text x="672.1" y="101.17" font-size="6.2" fill="#222">−0.5</text>
<line x1="669.9" y1="75.35" x2="671.4" y2="75.35" stroke="#666" stroke-width="0.5"/>
<text x="672.1" y="77.55" font-size="6.2" fill="#222">0.0</text>
<line x1="669.9" y1="51.73" x2="671.4" y2="51.73" stroke="#666" stroke-width="0.5"/>
<text x="672.1" y="53.93" font-size="6.2" fill="#222">0.5</text>
<line x1="669.9" y1="28.11" x2="671.4" y2="28.11" stroke="#666" stroke-width="0.5"/>
<text x="672.1" y="30.31" font-size="6.2" fill="#222">1.0</text>
<text x="668.3" y="13.1" font-size="7" text-anchor="middle" fill="#222">(°C)</text>
<clipPath id="c6"><rect x="31.2" y="149.1" width="118.2" height="118"/></clipPath>
<g clip-path="url(#c6)">
<rect x="31.2" y="149.1" width="118.2" height="118" fill="#fff"/>
<g transform="translate(31.3,149.1) rotate(0)">
<rect x="0" y="0" width="12.71" height="12.7" fill="#fdf6f9"/>
<rect x="11.81" y="0" width="12.71" height="12.7" fill="#f5888b"/>
<rect x="23.62" y="0" width="12.71" height="12.7" fill="#f5888b"/>
<rect x="35.43" y="0" width="12.71" height="12.7" fill="#f5888b"/>
<rect x="47.24" y="0" width="12.71" height="12.7" fill="#f58689"/>
<rect x="59.05" y="0" width="12.71" height="12.7" fill="#f58285"/>
<rect x="70.86" y="0" width="12.71" height="12.7" fill="#f58285"/>
<rect x="82.67" y="0" width="12.71" height="12.7" fill="#f47e81"/>
<rect x="94.48" y="0" width="12.71" height="12.7" fill="#f47b7e"/>
<rect x="106.29" y="0" width="12.71" height="12.7" fill="#f47b7e"/>
<rect x="0" y="11.8" width="12.71" height="12.7" fill="#fdf2f5"/>
<rect x="11.81" y="11.8" width="12.71" height="12.7" fill="#f68f92"/>
<rect x="23.62" y="11.8" width="12.71" height="12.7" fill="#f68f92"/>
<rect x="35.43" y="11.8" width="12.71" height="12.7" fill="#f58c8f"/>
<rect x="47.24" y="11.8" width="12.71" height="12.7" fill="#f5888b"/>
<rect x="59.05" y="11.8" width="12.71" height="12.7" fill="#f5888b"/>
<rect x="70.86" y="11.8" width="12.71" height="12.7" fill="#f58689"/>
<rect x="82.67" y="11.8" width="12.71" height="12.7" fill="#f58285"/>
<rect x="94.48" y="11.8" width="12.71" height="12.7" fill="#f58285"/>
<rect x="106.29" y="11.8" width="12.71" height="12.7" fill="#f58285"/>
<rect x="0" y="23.6" width="12.71" height="12.7" fill="#fdf2f5"/>
<rect x="11.81" y="23.6" width="12.71" height="12.7" fill="#f69598"/>
<rect x="23.62" y="23.6" width="12.71" height="12.7" fill="#f69598"/>
<rect x="35.43" y="23.6" width="12.71" height="12.7" fill="#f69295"/>
<rect x="47.24" y="23.6" width="12.71" height="12.7" fill="#f68f92"/>
<rect x="59.05" y="23.6" width="12.71" height="12.7" fill="#f68f92"/>
<rect x="70.86" y="23.6" width="12.71" height="12.7" fill="#f68f92"/>
<rect x="82.67" y="23.6" width="12.71" height="12.7" fill="#f68f92"/>
<rect x="94.48" y="23.6" width="12.71" height="12.7" fill="#f68f92"/>
<rect x="106.29" y="23.6" width="12.71" height="12.7" fill="#f68f92"/>
<rect x="0" y="35.4" width="12.71" height="12.7" fill="#f9bbbe"/>
<rect x="11.81" y="35.4" width="12.71" height="12.7" fill="#f9c4c7"/>
<rect x="23.62" y="35.4" width="12.71" height="12.7" fill="#f9c0c3"/>
<rect x="35.43" y="35.4" width="12.71" height="12.7" fill="#f9bbbe"/>
<rect x="47.24" y="35.4" width="12.71" height="12.7" fill="#f8b7ba"/>
<rect x="59.05" y="35.4" width="12.71" height="12.7" fill="#f8b2b5"/>
<rect x="70.86" y="35.4" width="12.71" height="12.7" fill="#f9c0c3"/>
<rect x="82.67" y="35.4" width="12.71" height="12.7" fill="#f9c4c7"/>
<rect x="94.48" y="35.4" width="12.71" height="12.7" fill="#f8acaf"/>
<rect x="106.29" y="35.4" width="12.71" height="12.7" fill="#f8acaf"/>
<rect x="0" y="47.2" width="12.71" height="12.7" fill="#f9bbbe"/>
<rect x="11.81" y="47.2" width="12.71" height="12.7" fill="#afaffb"/>
<rect x="23.62" y="47.2" width="12.71" height="12.7" fill="#ebebfe"/>
<rect x="35.43" y="47.2" width="12.71" height="12.7" fill="#fdf2f5"/>
<rect x="47.24" y="47.2" width="12.71" height="12.7" fill="#fceef1"/>
<rect x="59.05" y="47.2" width="12.71" height="12.7" fill="#fceef1"/>
<rect x="70.86" y="47.2" width="12.71" height="12.7" fill="#fdf2f5"/>
<rect x="82.67" y="47.2" width="12.71" height="12.7" fill="#fefcfc"/>
<rect x="94.48" y="47.2" width="12.71" height="12.7" fill="#fad0d3"/>
<rect x="106.29" y="47.2" width="12.71" height="12.7" fill="#f9c0c3"/>
<rect x="0" y="59" width="12.71" height="12.7" fill="#f9c4c7"/>
<rect x="11.81" y="59" width="12.71" height="12.7" fill="#9696fa"/>
<rect x="23.62" y="59" width="12.71" height="12.7" fill="#d2d2fd"/>
<rect x="35.43" y="59" width="12.71" height="12.7" fill="#e1e1fd"/>
<rect x="47.24" y="59" width="12.71" height="12.7" fill="#e6e6fd"/>
<rect x="59.05" y="59" width="12.71" height="12.7" fill="#e6e6fd"/>
<rect x="70.86" y="59" width="12.71" height="12.7" fill="#e1e1fd"/>
<rect x="82.67" y="59" width="12.71" height="12.7" fill="#e6e6fd"/>
<rect x="94.48" y="59" width="12.71" height="12.7" fill="#e6e6fd"/>
<rect x="106.29" y="59" width="12.71" height="12.7" fill="#ebebfe"/>
<rect x="0" y="70.8" width="12.71" height="12.7" fill="#e1e1fd"/>
<rect x="11.81" y="70.8" width="12.71" height="12.7" fill="#c8c8fc"/>
<rect x="23.62" y="70.8" width="12.71" height="12.7" fill="#8282f9"/>
<rect x="35.43" y="70.8" width="12.71" height="12.7" fill="#4b4bf7"/>
<rect x="47.24" y="70.8" width="12.71" height="12.7" fill="#6464f8"/>
<rect x="59.05" y="70.8" width="12.71" height="12.7" fill="#6464f8"/>
<rect x="70.86" y="70.8" width="12.71" height="12.7" fill="#6e6ef8"/>
<rect x="82.67" y="70.8" width="12.71" height="12.7" fill="#9696fa"/>
<rect x="94.48" y="70.8" width="12.71" height="12.7" fill="#8c8cf9"/>
<rect x="106.29" y="70.8" width="12.71" height="12.7" fill="#9696fa"/>
<rect x="0" y="82.6" width="12.71" height="12.7" fill="#fbdde0"/>
<rect x="11.81" y="82.6" width="12.71" height="12.7" fill="#fbdde0"/>
<rect x="23.62" y="82.6" width="12.71" height="12.7" fill="#8282f9"/>
<rect x="35.43" y="82.6" width="12.71" height="12.7" fill="#4b4bf7"/>
<rect x="47.24" y="82.6" width="12.71" height="12.7" fill="#5050f7"/>
<rect x="59.05" y="82.6" width="12.71" height="12.7" fill="#5f5ff7"/>
<rect x="70.86" y="82.6" width="12.71" height="12.7" fill="#6464f8"/>
<rect x="82.67" y="82.6" width="12.71" height="12.7" fill="#7878f9"/>
<rect x="94.48" y="82.6" width="12.71" height="12.7" fill="#4646f6"/>
<rect x="106.29" y="82.6" width="12.71" height="12.7" fill="#4646f6"/>
<rect x="0" y="94.4" width="12.71" height="12.7" fill="#f8acaf"/>
<rect x="11.81" y="94.4" width="12.71" height="12.7" fill="#f8acaf"/>
<rect x="23.62" y="94.4" width="12.71" height="12.7" fill="#f8b2b5"/>
<rect x="35.43" y="94.4" width="12.71" height="12.7" fill="#fad0d3"/>
<rect x="47.24" y="94.4" width="12.71" height="12.7" fill="#7878f9"/>
<rect x="59.05" y="94.4" width="12.71" height="12.7" fill="#4b4bf7"/>
<rect x="70.86" y="94.4" width="12.71" height="12.7" fill="#5555f7"/>
<rect x="82.67" y="94.4" width="12.71" height="12.7" fill="#5a5af7"/>
<rect x="94.48" y="94.4" width="12.71" height="12.7" fill="#4b4bf7"/>
<rect x="106.29" y="94.4" width="12.71" height="12.7" fill="#4b4bf7"/>
<rect x="0" y="106.2" width="12.71" height="12.7" fill="#f8acaf"/>
<rect x="11.81" y="106.2" width="12.71" height="12.7" fill="#f8acaf"/>
<rect x="23.62" y="106.2" width="12.71" height="12.7" fill="#f8b2b5"/>
<rect x="35.43" y="106.2" width="12.71" height="12.7" fill="#fceef1"/>
<rect x="47.24" y="106.2" width="12.71" height="12.7" fill="#8282f9"/>
<rect x="59.05" y="106.2" width="12.71" height="12.7" fill="#8282f9"/>
<rect x="70.86" y="106.2" width="12.71" height="12.7" fill="#7878f9"/>
<rect x="82.67" y="106.2" width="12.71" height="12.7" fill="#5050f7"/>
<rect x="94.48" y="106.2" width="12.71" height="12.7" fill="#4b4bf7"/>
<rect x="106.29" y="106.2" width="12.71" height="12.7" fill="#5050f7"/>
</g>
<path d="M41.8,149.1 L41.8,153.3 L40.8,164.3 L39.9,175.3 L37.2,183.6 L33.5,186 L31.3,185.4" fill="none" stroke="#3a3a3a" stroke-width="0.6" stroke-linejoin="round"/><path d="M31.3,220.3 L35.3,219.4 L39,213.9 L42.7,201 L46.3,190.9 L50.9,187.8 L54.6,188.2 L56.4,191.9 L62.8,190 L70.2,190.9 L79.4,194 L88.5,194 L95.9,194.6 L102.3,195.2 L103.2,190 L108.7,189.1 L117.9,190.9 L125.2,194.6 L130.7,201 L136.2,205.6 L141.7,204.7 L149.4,202.9" fill="none" stroke="#3a3a3a" stroke-width="0.6" stroke-linejoin="round"/><path d="M31.3,237.7 L39,238.6 L46.3,236.8 L53.7,237.7 L64.7,243.2 L75.7,245 L78.4,248.7 L76.6,256 L72,261.6 L71.1,267.1" fill="none" stroke="#3a3a3a" stroke-width="0.6" stroke-linejoin="round"/><path d="M78.54,196.3 L113.97,196.3 L113.97,208.1 L102.16,208.1 L102.16,219.9 L90.35,219.9 L90.35,208.1 L78.54,208.1 Z" fill="none" stroke="#8a8f2c" stroke-width="1.3" stroke-linejoin="miter"/><path d="M90.35,196.3 L102.16,196.3 L102.16,208.1 L90.35,208.1 Z" fill="none" stroke="#a8302e" stroke-width="1.2" stroke-linejoin="miter"/><path d="M55.5,196.4 L56.69,197.03 L57.47,195.64 L58.49,195.42 L59.76,196.47 L60.44,194.52 L61.41,194.05 L62.51,194.28 L63.61,194.44 L64.7,194.6 L65.72,194.47 L66.64,195.49 L67.67,195.22 L68.8,193.73 L69.77,194.16 L70.63,195.93 L71.74,194.63 L72.65,195.89 L73.79,194.19 L74.6,196.68 L75.7,195.5 L76.93,196.18 L77.71,194.72 L78.76,194.55 L79.78,194.2 L80.77,193.74 L81.75,193.2 L83,194 L84.28,193.65 L84.95,195.51 L86.58,193.88 L87.05,196.47 L88.5,195.5 L89.59,194.95 L90.43,196.85 L91.58,195.71 L92.5,196.85 L93.74,194.69 L94.71,195.28 L95.64,196.36 L96.65,196.61 L97.7,196.4 L98.48,197.5 L100.28,195.92 L101.22,196.58 L102.06,197.51 L103.11,197.89 L104.38,197.7 L105,199.2 L106.15,199.07 L106.9,200.61 L107.85,201.31 L109.29,199.97 L110.48,199.68 L111.4,200.5 L112.4,201 L113.57,201.26 L114.38,199.28 L115.7,200.44 L116.62,199.2 L117.9,200.1 L118.77,201.08 L117.76,202.81 L120.46,203.08 L119.7,204.7 L120.74,205.13 L121.02,206.7 L122.77,206.07 L123.48,207 L124.85,206.95 L125.2,208.4 L126.21,208.66 L126.52,210.35 L128.13,209.38 L129.23,209.46 L130.3,209.6 L130.7,211.1 L132.12,210.91 L132.72,212.74 L134.13,212.58 L135.3,213 L134.5,214.33 L133.36,214.05 L132.16,213.55 L131.32,214.7 L130.21,214.57 L128.79,213.01 L127.81,213.52 L127,214.8 L126.03,215.34 L125.01,215.35 L123.93,214.68 L122.95,215.1 L121.81,213.91 L121.07,216.79 L119.92,215.43 L118.98,216.29 L117.9,215.7 L116.87,215.64 L115.87,215.33 L114.81,215.66 L113.8,215.43 L112.72,215.91 L111.71,215.71 L110.73,215.1 L109.68,215.3 L108.7,214.8 L107.66,215.32 L106.58,215.68 L105.21,214.21 L104.52,216.86 L103.2,215.7 L101.65,215.38 L100.61,215.8 L99.78,216.55 L98.89,217.21 L98.94,219.26 L97.7,219.4 L96.69,219.84 L96.4,221.03 L95.05,221.11 L95.02,222.57 L94,223 L94.82,224.49 L94.43,225.58 L92.87,226.28 L91.81,227.15 L92.2,228.5 L92.22,229.72 L91.25,230.62 L90.49,231.59 L90.1,232.68 L90.4,234 L90.75,235.35 L88.76,235.49 L90,237.3 L88.5,237.7 L89.02,238.66 L89,240.16 L90.71,239.93 L91.34,240.78 L92.2,241.4 L92.65,242.72 L94,242.65 L95.66,242.11 L95.24,244.76 L97.29,243.62 L97.7,245 L98.6,243.61 L99.79,243.94 L101.02,244.6 L101.88,242.95 L103.2,244.1 L103.58,242.55 L104.65,242.41 L105.93,242.72 L106.95,242.47 L107.33,240.93 L108.7,241.4 L109.96,241.6 L110.56,240.52 L111.33,239.77 L112.23,239.26 L113.29,239.09 L114.2,238.6 L115.85,238.92 L116.68,238.11 L117.8,237.7 L117.9,235.9 L116.59,235.73 L115.97,234.87 L116.2,233.16 L114.25,233.63 L114.2,232.2 L112.87,232.55 L112.04,231.37 L110.93,231.02 L109.51,231.64 L108.7,230.4 L107.6,229.53 L106.5,229.63 L105.4,230.15 L104.3,231.06 L103.2,230.4 L102.37,229.65 L101.37,229.16 L100.22,228.89 L99.48,228.01 L98.22,227.9 L97.7,226.7 L96.3,227.33 L95.08,227.05 L94,226 L93.12,225.18 L92.24,224.37 L90.29,225.26 L90,223.5 L89.01,223.25 L87.93,224.28 L87.04,222.67 L85.96,223.8 L85.06,222.26 L83.92,224.24 L83,223 L81.93,222.19 L80.68,222.06 L79.4,222 L78.18,221.36 L79.4,219.74 L79.14,218.71 L77.88,218.09 L77.18,217.25 L77.9,215.82 L77.03,215.05 L76.22,214.24 L76.15,213.14 L75.22,212.39 L75.61,211.1 L75.11,210.17 L74.18,209.42 L73.9,208.4 L72.95,207.6 L71.79,207.38 L70.52,207.49 L69.34,207.33 L68.4,206.5 L68.28,204.95 L66.31,205.88 L65.84,204.8 L64.83,204.43 L64.61,203.01 L64.1,201.98 L63.12,201.58 L62.38,200.86 L61,201 L60.19,200.34 L58.67,201.12 L58.86,198.4 L57.28,199.3 L56.35,198.88 L55.5,198.3 Z" fill="none" stroke="#f055f0" stroke-width="0.9" stroke-linejoin="round"/><path d="M62,199 L62.99,198.58 L64,198.98 L64.99,198.58 L66.03,199.73 L66.95,197.47 L68,198.65 L68.99,198.54 L69.96,197.72 L71.01,198.8 L72.03,199.42 L72.95,197.27 L73.95,197.35 L75,198.5 L76.02,199 L76.96,197.29 L78,198.42 L79,198.29 L80.02,198.83 L81.03,199.13 L81.95,196.96 L83,198.32 L83.97,197.46 L84.95,196.82 L86.02,198.52 L86.96,196.87 L88,198 L89.1,197.58 L90.13,197.57 L90.82,199.56 L91.89,199.32 L93.09,198.29 L94.04,198.78 L95.1,198.58 L95.78,200.65 L97.01,199.42 L97.92,200.16 L98.85,200.7 L100,200 L101.02,200.27 L102.05,200.53 L102.79,201.62 L104.04,201.22 L105.22,201.02 L106.19,201.42 L106.97,202.43 L107.85,203.12 L108.83,203.51 L109.79,203.95 L110.73,204.47 L112,204 L112.78,204.71 L113.95,204.64 L114.44,205.94 L115.77,205.55 L116.43,206.5 L117.84,205.96 L118.13,207.65 L119.17,207.83 L119.64,209.18 L121.46,207.82 L122,209 L122.78,209.94 L124.04,209.91 L124.73,211.04 L125.96,211.08 L127.55,210.39 L128,212 L127,210.63 L126,213.27 L125,211.13 L124,211.37 L123,211.2 L122,213.13 L121,213.35 L120,212.26 L119,213.02 L118,212.96 L117,212.82 L116,212 L115,211.91 L113.94,212.58 L112.89,213.06 L111.98,211.96 L110.9,212.83 L110.08,210.51 L109.05,210.79 L108,211.31 L107.01,211.07 L105.92,212.1 L105.02,210.85 L104,211 L102.91,211.13 L102.43,212.9 L101.29,212.91 L100.34,213.4 L99.16,213.31 L97.58,212.14 L97.1,213.89 L96,214 L95.51,215.51 L94.34,215.68 L93.45,216.41 L92.55,217.1 L90.51,215.52 L90,217 L89.34,215.73 L88.16,215.82 L86.74,216.57 L86.48,214.21 L84.83,215.57 L83.64,215.72 L82.76,215.01 L82,214 L80.7,213.82 L81.69,211.59 L79.14,212.52 L78.74,211.53 L78.12,210.74 L76.99,210.4 L77.99,208.17 L77.26,207.47 L76.56,206.75 L76.11,205.81 L74.85,205.59 L74,205 L73.63,203.42 L72.52,203.35 L70.73,204.61 L69.93,203.92 L69.45,202.55 L69.07,201.02 L67.79,201.26 L66.66,201.22 L66.22,199.8 L65.32,199.29 L63.24,201.13 L63.52,198.27 Z" fill="none" stroke="#f055f0" stroke-width="0.72" stroke-linejoin="round"/><path d="M95,236 L96.03,235.45 L96.61,234.14 L97.92,234.07 L98.61,232.94 L100,233 L101.1,232.47 L102.17,232.13 L103.03,233.24 L103.81,234.88 L104.89,234.48 L106.1,233.18 L107,234 L107.58,235.45 L109.42,233.75 L109.63,236.13 L110.88,235.89 L112,236 L111,236.6 L109.83,237.03 L109.64,238.44 L108.35,238.75 L108,240 L107.15,240.82 L105.92,240.31 L104.87,240.41 L104.28,242.13 L103.04,241.57 L102.36,242.97 L101,242 L99.38,242.12 L100.12,239.88 L98.22,240.28 L97.08,239.92 L96.51,238.99 L96.08,237.92 L94.96,237.54 Z" fill="none" stroke="#f055f0" stroke-width="0.72" stroke-linejoin="round"/>
</g>
<rect x="31.2" y="149.1" width="118.2" height="118" fill="none" stroke="#8c8c8c" stroke-width="0.9"/>
<text x="32.1" y="159.1" font-size="10.2" font-weight="bold" fill="#111">e)</text>
<clipPath id="c7"><rect x="156.8" y="149.2" width="162.8" height="117.6"/></clipPath>
<g clip-path="url(#c7)">
<polygon points="164.2,203.58 177.65,203.03 191.11,203.58 204.56,204.13 218.02,203.03 231.47,200.29 244.93,199.47 258.38,203.58 271.84,205.77 285.29,204.95 298.75,204.13 312.2,204.95 312.2,217.28 298.75,215.09 285.29,217.83 271.84,221.39 258.38,224.13 244.93,221.39 231.47,219.47 218.02,219.47 204.56,220.57 191.11,222.21 177.65,222.21 164.2,220.02" fill="#eaf1da" fill-opacity="0.8"/>
<polyline points="164.2,203.58 177.65,203.03 191.11,203.58 204.56,204.13 218.02,203.03 231.47,200.29 244.93,199.47 258.38,203.58 271.84,205.77 285.29,204.95 298.75,204.13 312.2,204.95" fill="none" stroke="#a6ad5c" stroke-width="0.5" stroke-opacity="0.7" stroke-linejoin="round"/>
<polyline points="164.2,220.02 177.65,222.21 191.11,222.21 204.56,220.57 218.02,219.47 231.47,219.47 244.93,221.39 258.38,224.13 271.84,221.39 285.29,217.83 298.75,215.09 312.2,217.28" fill="none" stroke="#a6ad5c" stroke-width="0.5" stroke-opacity="0.7" stroke-linejoin="round"/>
<polyline points="164.2,206.32 177.65,204.13 191.11,206.32 204.56,205.77 218.02,209.06 231.47,211.8 244.93,211.25 258.38,207.69 271.84,206.32 285.29,205.77 298.75,204.95 312.2,209.06" fill="none" stroke="#a6ad5c" stroke-width="0.5" stroke-opacity="0.7" stroke-linejoin="round"/>
<polyline points="164.2,204.95 177.65,209.06 191.11,206.32 204.56,206.32 218.02,204.95 231.47,202.21 244.93,201.39 258.38,204.95 271.84,209.06 285.29,214.54 298.75,213.17 312.2,215.91" fill="none" stroke="#a6ad5c" stroke-width="0.5" stroke-opacity="0.7" stroke-linejoin="round"/>
<polyline points="164.2,211.8 177.65,211.8 191.11,211.8 204.56,211.8 218.02,211.8 231.47,211.8 244.93,211.8 258.38,211.8 271.84,211.8 285.29,211.8 298.75,211.8 312.2,211.8" fill="none" stroke="#8f9a35" stroke-width="1.9" stroke-linejoin="round"/>
<polyline points="164.2,201.94 177.65,200.29 191.11,198.37 204.56,198.92 218.02,197.28 231.47,196.18 244.93,195.91 258.38,201.11 271.84,206.59 285.29,209.33 298.75,210.16 312.2,204.13" fill="none" stroke="#b3302f" stroke-width="1.6" stroke-linejoin="round"/>
</g>
<rect x="156.8" y="149.2" width="162.8" height="117.6" fill="none" stroke="#8c8c8c" stroke-width="0.9"/>
<line x1="164.2" y1="266.8" x2="164.2" y2="268.4" stroke="#666" stroke-width="0.6"/>
<text x="164.2" y="274.8" font-size="5.9" text-anchor="middle" fill="#222">Jan</text>
<line x1="177.65" y1="266.8" x2="177.65" y2="268.4" stroke="#666" stroke-width="0.6"/>
<text x="177.65" y="274.8" font-size="5.9" text-anchor="middle" fill="#222">Feb</text>
<line x1="191.11" y1="266.8" x2="191.11" y2="268.4" stroke="#666" stroke-width="0.6"/>
<text x="191.11" y="274.8" font-size="5.9" text-anchor="middle" fill="#222">Mar</text>
<line x1="204.56" y1="266.8" x2="204.56" y2="268.4" stroke="#666" stroke-width="0.6"/>
<text x="204.56" y="274.8" font-size="5.9" text-anchor="middle" fill="#222">Apr</text>
<line x1="218.02" y1="266.8" x2="218.02" y2="268.4" stroke="#666" stroke-width="0.6"/>
<text x="218.02" y="274.8" font-size="5.9" text-anchor="middle" fill="#222">May</text>
<line x1="231.47" y1="266.8" x2="231.47" y2="268.4" stroke="#666" stroke-width="0.6"/>
<text x="231.47" y="274.8" font-size="5.9" text-anchor="middle" fill="#222">Jun</text>
<line x1="244.93" y1="266.8" x2="244.93" y2="268.4" stroke="#666" stroke-width="0.6"/>
<text x="244.93" y="274.8" font-size="5.9" text-anchor="middle" fill="#222">Jul</text>
<line x1="258.38" y1="266.8" x2="258.38" y2="268.4" stroke="#666" stroke-width="0.6"/>
<text x="258.38" y="274.8" font-size="5.9" text-anchor="middle" fill="#222">Aug</text>
<line x1="271.84" y1="266.8" x2="271.84" y2="268.4" stroke="#666" stroke-width="0.6"/>
<text x="271.84" y="274.8" font-size="5.9" text-anchor="middle" fill="#222">Sep</text>
<line x1="285.29" y1="266.8" x2="285.29" y2="268.4" stroke="#666" stroke-width="0.6"/>
<text x="285.29" y="274.8" font-size="5.9" text-anchor="middle" fill="#222">Oct</text>
<line x1="298.75" y1="266.8" x2="298.75" y2="268.4" stroke="#666" stroke-width="0.6"/>
<text x="298.75" y="274.8" font-size="5.9" text-anchor="middle" fill="#222">Nov</text>
<line x1="312.2" y1="266.8" x2="312.2" y2="268.4" stroke="#666" stroke-width="0.6"/>
<text x="312.2" y="274.8" font-size="5.9" text-anchor="middle" fill="#222">Dec</text>
<line x1="155.2" y1="266.6" x2="156.8" y2="266.6" stroke="#666" stroke-width="0.6"/>
<line x1="155.2" y1="252.9" x2="156.8" y2="252.9" stroke="#666" stroke-width="0.6"/>
<line x1="155.2" y1="239.2" x2="156.8" y2="239.2" stroke="#666" stroke-width="0.6"/>
<line x1="155.2" y1="225.5" x2="156.8" y2="225.5" stroke="#666" stroke-width="0.6"/>
<line x1="155.2" y1="211.8" x2="156.8" y2="211.8" stroke="#666" stroke-width="0.6"/>
<line x1="155.2" y1="198.1" x2="156.8" y2="198.1" stroke="#666" stroke-width="0.6"/>
<line x1="155.2" y1="184.4" x2="156.8" y2="184.4" stroke="#666" stroke-width="0.6"/>
<line x1="155.2" y1="170.7" x2="156.8" y2="170.7" stroke="#666" stroke-width="0.6"/>
<line x1="155.2" y1="157" x2="156.8" y2="157" stroke="#666" stroke-width="0.6"/>
<text x="162.6" y="159.2" font-size="10.2" font-weight="bold" fill="#111">f)</text>
<clipPath id="c8"><rect x="344.8" y="149.2" width="162" height="117.6"/></clipPath>
<g clip-path="url(#c8)">
<polygon points="352.2,174.81 365.58,176.73 378.96,174.81 392.35,168.51 405.73,161.93 419.11,163.03 432.49,163.03 445.87,159.74 459.25,162.48 472.64,166.59 486.02,167.96 499.4,168.51 499.4,246.05 486.02,244.68 472.64,245.23 459.25,248.79 445.87,254.27 432.49,244.13 419.11,242.49 405.73,242.49 392.35,241.94 378.96,239.75 365.58,239.75 352.2,241.94" fill="#eaf1da" fill-opacity="0.8"/>
<polygon points="352.2,165.77 365.58,170.15 378.96,165.77 392.35,155.63 405.73,157 419.11,159.19 432.49,156.45 445.87,150.97 459.25,150.97 472.64,151.52 486.02,152.89 499.4,155.63 499.4,227.69 486.02,227.69 472.64,228.24 459.25,229.61 445.87,235.91 432.49,228.24 419.11,226.87 405.73,227.69 392.35,223.31 378.96,221.39 365.58,220.02 352.2,223.31" fill="#e0b8b8" fill-opacity="0.35"/>
<polyline points="352.2,174.81 365.58,176.73 378.96,174.81 392.35,168.51 405.73,161.93 419.11,163.03 432.49,163.03 445.87,159.74 459.25,162.48 472.64,166.59 486.02,167.96 499.4,168.51" fill="none" stroke="#a6ad5c" stroke-width="0.5" stroke-opacity="0.7" stroke-linejoin="round"/>
<polyline points="352.2,241.94 365.58,239.75 378.96,239.75 392.35,241.94 405.73,242.49 419.11,242.49 432.49,244.13 445.87,254.27 459.25,248.79 472.64,245.23 486.02,244.68 499.4,246.05" fill="none" stroke="#a6ad5c" stroke-width="0.5" stroke-opacity="0.7" stroke-linejoin="round"/>
<polyline points="352.2,185.77 365.58,188.51 378.96,181.66 392.35,169.33 405.73,169.33 419.11,170.7 432.49,172.07 445.87,167.96 459.25,167.96 472.64,167.96 486.02,169.33 499.4,177.55" fill="none" stroke="#a6ad5c" stroke-width="0.5" stroke-opacity="0.7" stroke-linejoin="round"/>
<polyline points="352.2,196.73 365.58,199.47 378.96,198.1 392.35,195.36 405.73,193.99 419.11,195.36 432.49,193.99 445.87,184.4 459.25,191.25 472.64,195.36 486.02,196.73 499.4,195.36" fill="none" stroke="#a6ad5c" stroke-width="0.5" stroke-opacity="0.7" stroke-linejoin="round"/>
<polyline points="352.2,198.1 365.58,202.21 378.96,204.95 392.35,206.32 405.73,204.95 419.11,203.58 432.49,202.21 445.87,198.1 459.25,206.32 472.64,210.43 486.02,210.43 499.4,202.21" fill="none" stroke="#a6ad5c" stroke-width="0.5" stroke-opacity="0.7" stroke-linejoin="round"/>
<polyline points="352.2,220.02 365.58,220.02 378.96,221.39 392.35,224.13 405.73,226.87 419.11,225.5 432.49,224.13 445.87,221.39 459.25,225.5 472.64,222.76 486.02,222.76 499.4,225.5" fill="none" stroke="#a6ad5c" stroke-width="0.5" stroke-opacity="0.7" stroke-linejoin="round"/>
<polyline points="352.2,228.24 365.58,225.5 378.96,228.24 392.35,232.35 405.73,233.72 419.11,235.09 432.49,235.09 445.87,239.2 459.25,237.83 472.64,236.46 486.02,235.09 499.4,233.72" fill="none" stroke="#a6ad5c" stroke-width="0.5" stroke-opacity="0.7" stroke-linejoin="round"/>
<polyline points="352.2,235.09 365.58,232.35 378.96,233.72 392.35,236.46 405.73,239.2 419.11,239.2 432.49,240.57 445.87,247.42 459.25,244.68 472.64,241.94 486.02,240.57 499.4,237.83" fill="none" stroke="#a6ad5c" stroke-width="0.5" stroke-opacity="0.7" stroke-linejoin="round"/>
<polyline points="352.2,165.77 365.58,170.15 378.96,165.77 392.35,155.63 405.73,157 419.11,159.19 432.49,156.45 445.87,150.97 459.25,150.97 472.64,151.52 486.02,152.89 499.4,155.63" fill="none" stroke="#c86a6a" stroke-width="0.5" stroke-opacity="0.7" stroke-linejoin="round"/>
<polyline points="352.2,223.31 365.58,220.02 378.96,221.39 392.35,223.31 405.73,227.69 419.11,226.87 432.49,228.24 445.87,235.91 459.25,229.61 472.64,228.24 486.02,227.69 499.4,227.69" fill="none" stroke="#c86a6a" stroke-width="0.5" stroke-opacity="0.7" stroke-linejoin="round"/>
<polyline points="352.2,170.7 365.58,173.44 378.96,169.33 392.35,158.37 405.73,158.37 419.11,159.74 432.49,157 445.87,151.52 459.25,154.26 472.64,158.37 486.02,163.85 499.4,167.96" fill="none" stroke="#c86a6a" stroke-width="0.5" stroke-opacity="0.7" stroke-linejoin="round"/>
<polyline points="352.2,215.91 365.58,214.54 378.96,214.54 392.35,218.65 405.73,224.13 419.11,222.76 432.49,225.5 445.87,230.98 459.25,220.02 472.64,217.28 486.02,217.28 499.4,217.28" fill="none" stroke="#c86a6a" stroke-width="0.5" stroke-opacity="0.7" stroke-linejoin="round"/>
<polyline points="352.2,211.8 365.58,211.8 378.96,211.8 392.35,211.8 405.73,211.8 419.11,211.8 432.49,211.8 445.87,211.8 459.25,211.8 472.64,211.8 486.02,211.8 499.4,211.8" fill="none" stroke="#8f9a35" stroke-width="1.9" stroke-linejoin="round"/>
<polyline points="352.2,193.99 365.58,194.54 378.96,192.07 392.35,189.33 405.73,192.07 419.11,193.17 432.49,192.07 445.87,190.43 459.25,187.69 472.64,187.14 486.02,188.51 499.4,191.25" fill="none" stroke="#b3302f" stroke-width="1.6" stroke-linejoin="round"/>
</g>
<rect x="344.8" y="149.2" width="162" height="117.6" fill="none" stroke="#8c8c8c" stroke-width="0.9"/>
<line x1="352.2" y1="266.8" x2="352.2" y2="268.4" stroke="#666" stroke-width="0.6"/>
<text x="352.2" y="274.8" font-size="5.9" text-anchor="middle" fill="#222">Jan</text>
<line x1="365.58" y1="266.8" x2="365.58" y2="268.4" stroke="#666" stroke-width="0.6"/>
<text x="365.58" y="274.8" font-size="5.9" text-anchor="middle" fill="#222">Feb</text>
<line x1="378.96" y1="266.8" x2="378.96" y2="268.4" stroke="#666" stroke-width="0.6"/>
<text x="378.96" y="274.8" font-size="5.9" text-anchor="middle" fill="#222">Mar</text>
<line x1="392.35" y1="266.8" x2="392.35" y2="268.4" stroke="#666" stroke-width="0.6"/>
<text x="392.35" y="274.8" font-size="5.9" text-anchor="middle" fill="#222">Apr</text>
<line x1="405.73" y1="266.8" x2="405.73" y2="268.4" stroke="#666" stroke-width="0.6"/>
<text x="405.73" y="274.8" font-size="5.9" text-anchor="middle" fill="#222">May</text>
<line x1="419.11" y1="266.8" x2="419.11" y2="268.4" stroke="#666" stroke-width="0.6"/>
<text x="419.11" y="274.8" font-size="5.9" text-anchor="middle" fill="#222">Jun</text>
<line x1="432.49" y1="266.8" x2="432.49" y2="268.4" stroke="#666" stroke-width="0.6"/>
<text x="432.49" y="274.8" font-size="5.9" text-anchor="middle" fill="#222">Jul</text>
<line x1="445.87" y1="266.8" x2="445.87" y2="268.4" stroke="#666" stroke-width="0.6"/>
<text x="445.87" y="274.8" font-size="5.9" text-anchor="middle" fill="#222">Aug</text>
<line x1="459.25" y1="266.8" x2="459.25" y2="268.4" stroke="#666" stroke-width="0.6"/>
<text x="459.25" y="274.8" font-size="5.9" text-anchor="middle" fill="#222">Sep</text>
<line x1="472.64" y1="266.8" x2="472.64" y2="268.4" stroke="#666" stroke-width="0.6"/>
<text x="472.64" y="274.8" font-size="5.9" text-anchor="middle" fill="#222">Oct</text>
<line x1="486.02" y1="266.8" x2="486.02" y2="268.4" stroke="#666" stroke-width="0.6"/>
<text x="486.02" y="274.8" font-size="5.9" text-anchor="middle" fill="#222">Nov</text>
<line x1="499.4" y1="266.8" x2="499.4" y2="268.4" stroke="#666" stroke-width="0.6"/>
<text x="499.4" y="274.8" font-size="5.9" text-anchor="middle" fill="#222">Dec</text>
<line x1="343.2" y1="266.6" x2="344.8" y2="266.6" stroke="#666" stroke-width="0.6"/>
<line x1="343.2" y1="252.9" x2="344.8" y2="252.9" stroke="#666" stroke-width="0.6"/>
<line x1="343.2" y1="239.2" x2="344.8" y2="239.2" stroke="#666" stroke-width="0.6"/>
<line x1="343.2" y1="225.5" x2="344.8" y2="225.5" stroke="#666" stroke-width="0.6"/>
<line x1="343.2" y1="211.8" x2="344.8" y2="211.8" stroke="#666" stroke-width="0.6"/>
<line x1="343.2" y1="198.1" x2="344.8" y2="198.1" stroke="#666" stroke-width="0.6"/>
<line x1="343.2" y1="184.4" x2="344.8" y2="184.4" stroke="#666" stroke-width="0.6"/>
<line x1="343.2" y1="170.7" x2="344.8" y2="170.7" stroke="#666" stroke-width="0.6"/>
<line x1="343.2" y1="157" x2="344.8" y2="157" stroke="#666" stroke-width="0.6"/>
<text x="342.6" y="268.8" font-size="6.1" text-anchor="end" fill="#222">−2.0</text>
<text x="342.6" y="255.1" font-size="6.1" text-anchor="end" fill="#222">−1.5</text>
<text x="342.6" y="241.4" font-size="6.1" text-anchor="end" fill="#222">−1.0</text>
<text x="342.6" y="227.7" font-size="6.1" text-anchor="end" fill="#222">−0.5</text>
<text x="342.6" y="214" font-size="6.1" text-anchor="end" fill="#222">0.0</text>
<text x="342.6" y="200.3" font-size="6.1" text-anchor="end" fill="#222">0.5</text>
<text x="342.6" y="186.6" font-size="6.1" text-anchor="end" fill="#222">1.0</text>
<text x="342.6" y="172.9" font-size="6.1" text-anchor="end" fill="#222">1.5</text>
<text x="342.6" y="159.2" font-size="6.1" text-anchor="end" fill="#222">2.0</text>
<text x="347.5" y="159.2" font-size="10.2" font-weight="bold" fill="#111">g)</text>
<text transform="translate(330,205.9) rotate(-90)" font-size="6.45" text-anchor="middle" fill="#222">Minimum temperature anomaly (°C)</text>
<clipPath id="c9"><rect x="514.7" y="149.2" width="119" height="118.2"/></clipPath>
<g clip-path="url(#c9)">
<rect x="514.7" y="149.2" width="119" height="118.2" fill="#fff"/>
<g transform="translate(514.7,149.2) rotate(0)">
<rect x="0" y="0" width="12.8" height="12.72" fill="#fad0d3"/>
<rect x="11.9" y="0" width="12.8" height="12.72" fill="#f8acaf"/>
<rect x="23.8" y="0" width="12.8" height="12.72" fill="#f58285"/>
<rect x="35.7" y="0" width="12.8" height="12.72" fill="#f58285"/>
<rect x="47.6" y="0" width="12.8" height="12.72" fill="#f58285"/>
<rect x="59.5" y="0" width="12.8" height="12.72" fill="#f58285"/>
<rect x="71.4" y="0" width="12.8" height="12.72" fill="#f58285"/>
<rect x="83.3" y="0" width="12.8" height="12.72" fill="#f58285"/>
<rect x="95.2" y="0" width="12.8" height="12.72" fill="#f58285"/>
<rect x="107.1" y="0" width="12.8" height="12.72" fill="#f58285"/>
<rect x="0" y="11.82" width="12.8" height="12.72" fill="#fbd5d8"/>
<rect x="11.9" y="11.82" width="12.8" height="12.72" fill="#f8b2b5"/>
<rect x="23.8" y="11.82" width="12.8" height="12.72" fill="#f58285"/>
<rect x="35.7" y="11.82" width="12.8" height="12.72" fill="#f58285"/>
<rect x="47.6" y="11.82" width="12.8" height="12.72" fill="#f58285"/>
<rect x="59.5" y="11.82" width="12.8" height="12.72" fill="#f58285"/>
<rect x="71.4" y="11.82" width="12.8" height="12.72" fill="#f58285"/>
<rect x="83.3" y="11.82" width="12.8" height="12.72" fill="#f58285"/>
<rect x="95.2" y="11.82" width="12.8" height="12.72" fill="#f58285"/>
<rect x="107.1" y="11.82" width="12.8" height="12.72" fill="#f58285"/>
<rect x="0" y="23.64" width="12.8" height="12.72" fill="#fbd5d8"/>
<rect x="11.9" y="23.64" width="12.8" height="12.72" fill="#f8acaf"/>
<rect x="23.8" y="23.64" width="12.8" height="12.72" fill="#f58689"/>
<rect x="35.7" y="23.64" width="12.8" height="12.72" fill="#f58689"/>
<rect x="47.6" y="23.64" width="12.8" height="12.72" fill="#f58689"/>
<rect x="59.5" y="23.64" width="12.8" height="12.72" fill="#f58689"/>
<rect x="71.4" y="23.64" width="12.8" height="12.72" fill="#f58689"/>
<rect x="83.3" y="23.64" width="12.8" height="12.72" fill="#f58689"/>
<rect x="95.2" y="23.64" width="12.8" height="12.72" fill="#f58689"/>
<rect x="107.1" y="23.64" width="12.8" height="12.72" fill="#f58689"/>
<rect x="0" y="35.46" width="12.8" height="12.72" fill="#f8acaf"/>
<rect x="11.9" y="35.46" width="12.8" height="12.72" fill="#f8b2b5"/>
<rect x="23.8" y="35.46" width="12.8" height="12.72" fill="#f9c0c3"/>
<rect x="35.7" y="35.46" width="12.8" height="12.72" fill="#f9c0c3"/>
<rect x="47.6" y="35.46" width="12.8" height="12.72" fill="#f9c0c3"/>
<rect x="59.5" y="35.46" width="12.8" height="12.72" fill="#f9bbbe"/>
<rect x="71.4" y="35.46" width="12.8" height="12.72" fill="#f9c0c3"/>
<rect x="83.3" y="35.46" width="12.8" height="12.72" fill="#f9c0c3"/>
<rect x="95.2" y="35.46" width="12.8" height="12.72" fill="#f7a1a4"/>
<rect x="107.1" y="35.46" width="12.8" height="12.72" fill="#f69b9e"/>
<rect x="0" y="47.28" width="12.8" height="12.72" fill="#f8b2b5"/>
<rect x="11.9" y="47.28" width="12.8" height="12.72" fill="#fefcfc"/>
<rect x="23.8" y="47.28" width="12.8" height="12.72" fill="#fce5e8"/>
<rect x="35.7" y="47.28" width="12.8" height="12.72" fill="#fbe1e4"/>
<rect x="47.6" y="47.28" width="12.8" height="12.72" fill="#f8b7ba"/>
<rect x="59.5" y="47.28" width="12.8" height="12.72" fill="#f8b7ba"/>
<rect x="71.4" y="47.28" width="12.8" height="12.72" fill="#f9c4c7"/>
<rect x="83.3" y="47.28" width="12.8" height="12.72" fill="#f9c4c7"/>
<rect x="95.2" y="47.28" width="12.8" height="12.72" fill="#fbd9dc"/>
<rect x="107.1" y="47.28" width="12.8" height="12.72" fill="#fac8cb"/>
<rect x="0" y="59.1" width="12.8" height="12.72" fill="#f8b2b5"/>
<rect x="11.9" y="59.1" width="12.8" height="12.72" fill="#b4b4fb"/>
<rect x="23.8" y="59.1" width="12.8" height="12.72" fill="#cdcdfc"/>
<rect x="35.7" y="59.1" width="12.8" height="12.72" fill="#cdcdfc"/>
<rect x="47.6" y="59.1" width="12.8" height="12.72" fill="#e1e1fd"/>
<rect x="59.5" y="59.1" width="12.8" height="12.72" fill="#f0f0fe"/>
<rect x="71.4" y="59.1" width="12.8" height="12.72" fill="#e1e1fd"/>
<rect x="83.3" y="59.1" width="12.8" height="12.72" fill="#ebebfe"/>
<rect x="95.2" y="59.1" width="12.8" height="12.72" fill="#fdf6f9"/>
<rect x="107.1" y="59.1" width="12.8" height="12.72" fill="#fceaed"/>
<rect x="0" y="70.92" width="12.8" height="12.72" fill="#f8f8fe"/>
<rect x="11.9" y="70.92" width="12.8" height="12.72" fill="#e1e1fd"/>
<rect x="23.8" y="70.92" width="12.8" height="12.72" fill="#9696fa"/>
<rect x="35.7" y="70.92" width="12.8" height="12.72" fill="#c3c3fc"/>
<rect x="47.6" y="70.92" width="12.8" height="12.72" fill="#a0a0fa"/>
<rect x="59.5" y="70.92" width="12.8" height="12.72" fill="#a0a0fa"/>
<rect x="71.4" y="70.92" width="12.8" height="12.72" fill="#9696fa"/>
<rect x="83.3" y="70.92" width="12.8" height="12.72" fill="#9696fa"/>
<rect x="95.2" y="70.92" width="12.8" height="12.72" fill="#b4b4fb"/>
<rect x="107.1" y="70.92" width="12.8" height="12.72" fill="#bebefc"/>
<rect x="0" y="82.74" width="12.8" height="12.72" fill="#f9c0c3"/>
<rect x="11.9" y="82.74" width="12.8" height="12.72" fill="#fad0d3"/>
<rect x="23.8" y="82.74" width="12.8" height="12.72" fill="#c3c3fc"/>
<rect x="35.7" y="82.74" width="12.8" height="12.72" fill="#8282f9"/>
<rect x="47.6" y="82.74" width="12.8" height="12.72" fill="#6e6ef8"/>
<rect x="59.5" y="82.74" width="12.8" height="12.72" fill="#8c8cf9"/>
<rect x="71.4" y="82.74" width="12.8" height="12.72" fill="#7878f9"/>
<rect x="83.3" y="82.74" width="12.8" height="12.72" fill="#6464f8"/>
<rect x="95.2" y="82.74" width="12.8" height="12.72" fill="#6464f8"/>
<rect x="107.1" y="82.74" width="12.8" height="12.72" fill="#7878f9"/>
<rect x="0" y="94.56" width="12.8" height="12.72" fill="#f7a1a4"/>
<rect x="11.9" y="94.56" width="12.8" height="12.72" fill="#f7a1a4"/>
<rect x="23.8" y="94.56" width="12.8" height="12.72" fill="#f8b7ba"/>
<rect x="35.7" y="94.56" width="12.8" height="12.72" fill="#fce5e8"/>
<rect x="47.6" y="94.56" width="12.8" height="12.72" fill="#7878f9"/>
<rect x="59.5" y="94.56" width="12.8" height="12.72" fill="#7878f9"/>
<rect x="71.4" y="94.56" width="12.8" height="12.72" fill="#5a5af7"/>
<rect x="83.3" y="94.56" width="12.8" height="12.72" fill="#5050f7"/>
<rect x="95.2" y="94.56" width="12.8" height="12.72" fill="#5050f7"/>
<rect x="107.1" y="94.56" width="12.8" height="12.72" fill="#5050f7"/>
<rect x="0" y="106.38" width="12.8" height="12.72" fill="#f69b9e"/>
<rect x="11.9" y="106.38" width="12.8" height="12.72" fill="#f7a1a4"/>
<rect x="23.8" y="106.38" width="12.8" height="12.72" fill="#f8b2b5"/>
<rect x="35.7" y="106.38" width="12.8" height="12.72" fill="#fbdde0"/>
<rect x="47.6" y="106.38" width="12.8" height="12.72" fill="#b9b9fb"/>
<rect x="59.5" y="106.38" width="12.8" height="12.72" fill="#aaaafb"/>
<rect x="71.4" y="106.38" width="12.8" height="12.72" fill="#8282f9"/>
<rect x="83.3" y="106.38" width="12.8" height="12.72" fill="#6e6ef8"/>
<rect x="95.2" y="106.38" width="12.8" height="12.72" fill="#5050f7"/>
<rect x="107.1" y="106.38" width="12.8" height="12.72" fill="#4b4bf7"/>
</g>
<path d="M525.8,149.2 L525.8,149.7 L524.8,160.7 L523.9,173.5 L520.3,182.7 L514.8,183.6" fill="none" stroke="#3a3a3a" stroke-width="0.6" stroke-linejoin="round"/><path d="M514.8,220.3 L519.3,219.4 L523.9,206.5 L526.7,195.5 L530.3,190 L534.9,186.7 L538.6,188.2 L540.4,191.9 L546.8,190 L559.7,192.8 L572.5,194 L585.4,194 L586.3,190 L592.7,189.1 L601.9,190.9 L609.2,195.5 L614.7,201 L620.2,204.7 L625.7,203.8 L633.7,204.7" fill="none" stroke="#3a3a3a" stroke-width="0.6" stroke-linejoin="round"/><path d="M514.8,236.8 L523,235.9 L532.2,236.8 L541.3,238.6 L550.5,240.5 L559.7,245 L562.4,248.7 L557.9,254.2 L553.3,259.7 L554.2,267.4" fill="none" stroke="#3a3a3a" stroke-width="0.6" stroke-linejoin="round"/><path d="M538.5,196.48 L609.9,196.48 L609.9,220.12 L562.3,220.12 L562.3,231.94 L550.4,231.94 L550.4,220.12 L538.5,220.12 Z" fill="none" stroke="#8a8f2c" stroke-width="1.3" stroke-linejoin="miter"/><path d="M562.3,196.48 L586.1,196.48 L586.1,220.12 L562.3,220.12 Z" fill="none" stroke="#a8302e" stroke-width="1.2" stroke-linejoin="miter"/><path d="M538.6,195.5 L539.9,195.07 L540.42,196.8 L541.88,195.94 L542.17,198.26 L543.3,198.31 L544.18,199.03 L545.98,197.25 L546.23,199.69 L547.87,198.34 L548.7,199.2 L549.11,197.75 L550.42,198.07 L551.65,198.23 L551.74,196.15 L553.12,196.6 L554.62,197.29 L554.6,195 L556,195.5 L557.44,196.45 L557.93,193.9 L559.16,194.09 L560.58,194.95 L561.5,194 L562.6,193.52 L563.57,194.74 L564.77,193.02 L565.65,195.37 L566.74,194.98 L567.74,195.79 L568.9,194.6 L569.75,195.45 L570.66,196.08 L572.09,195.04 L572.68,196.7 L573.58,197.37 L575.31,195.36 L576.03,196.59 L576.88,197.44 L578,197.4 L579.04,197.49 L579.85,198.77 L581.21,197.29 L582.03,198.49 L583.2,197.93 L584.08,198.87 L584.9,200.08 L586.28,198.46 L587.2,199.2 L587.88,200.84 L589.62,199.25 L590.78,199.41 L591.32,201.49 L592.7,201 L593.69,200.47 L594.63,199.46 L595.85,200.75 L596.88,200.56 L598.04,201.35 L599.03,200.86 L600,200.1 L600.8,200.97 L602.32,201.27 L601.82,203.18 L602.87,203.85 L603.7,204.7 L604.43,205.43 L604.41,207.04 L605.19,207.71 L606.21,208.08 L607.92,207.64 L607.59,209.63 L609.2,209.3 L609.93,210.81 L611.29,210.05 L612.18,211 L613.63,209.91 L614.45,211.09 L615.6,211.1 L614.54,211.67 L614.05,212.94 L612.18,212.5 L611.46,213.49 L611,214.8 L610.12,215.68 L609.09,215.75 L608.16,216.38 L606.83,214.96 L606.04,216.29 L604.84,215.53 L603.75,215.33 L602.68,215.23 L601.9,216.6 L600.9,216.26 L599.96,215.38 L598.91,215.52 L597.75,216.79 L596.79,216.04 L595.65,217.14 L594.7,216.32 L593.71,215.92 L592.7,215.7 L591.66,215.7 L590.61,215.86 L589.57,216.72 L588.53,215.39 L587.49,216.16 L586.44,216.36 L585.4,215.7 L585.03,216.9 L584.15,217.59 L582.41,217.42 L582.88,219.47 L580.9,219.06 L580.01,219.74 L579.9,221.2 L579.81,222.47 L578.28,222.77 L577.79,223.77 L577.1,224.64 L577.23,226.06 L576.2,226.7 L576.03,227.91 L575.48,228.88 L574.72,229.7 L572.63,229.62 L573.48,231.52 L572.5,232.2 L572.67,233.43 L570.46,233.49 L572.36,235.57 L570.7,235.9 L571.38,236.68 L571.66,237.87 L572.83,238.16 L573.08,239.37 L574.4,239.5 L575.42,239.75 L576.28,240.32 L576.8,241.56 L578.54,240.38 L579.17,241.4 L579.58,242.86 L581.23,241.86 L581.7,243.2 L582.43,241.69 L583.83,242.85 L584.54,241.28 L586.09,243.07 L586.97,242.12 L587.84,241.17 L589,241.4 L589.76,240.54 L591.46,241.09 L591.12,238.61 L592.21,238.26 L593.91,238.8 L594.5,237.7 L594.6,236.32 L596.51,236.75 L596.75,235.51 L596.91,234.19 L598.2,234 L596.76,234.61 L595.99,233.87 L594.88,233.82 L594.48,232.31 L593.2,232.6 L592.7,231.3 L591.5,232.42 L590.55,231.6 L589.44,232.02 L588.53,230.74 L587.56,230.02 L586.5,230.06 L585.4,230.4 L583.86,230.37 L584.21,228.44 L582.55,228.53 L581.64,227.88 L581.22,226.72 L581.3,225.07 L579.9,224.9 L578.82,224.97 L577.68,225.33 L576.96,223.67 L576.05,222.88 L574.92,223.22 L573.63,224.29 L572.55,224.38 L571.5,224.29 L570.7,223 L569.89,222.34 L569.57,221.31 L568.82,220.6 L568.34,219.69 L567.62,218.96 L567.46,217.81 L566.38,217.35 L565.5,216.74 L565.2,215.7 L565.52,214.19 L564.77,213.48 L562.87,213.64 L561.64,213.29 L562.44,211.42 L561.39,210.94 L561.2,209.81 L559.84,209.57 L559.7,208.4 L558.52,208.65 L557.47,208.41 L556.81,206.67 L555.76,206.41 L554.54,206.85 L553.22,207.65 L552.4,206.5 L552.37,204.83 L550.27,205.94 L550.47,203.94 L548.95,204.27 L548.66,202.95 L546.93,203.56 L546.67,202.19 L545.11,202.57 L545,201 L544.49,199.76 L543.36,199.64 L542.88,198.36 L541.5,198.67 L540.87,197.65 L539.62,197.73 L538.6,197.4 Z" fill="none" stroke="#f055f0" stroke-width="0.9" stroke-linejoin="round"/><path d="M546,199 L546.91,197.87 L547.91,197.8 L548.91,197.69 L550.05,199.29 L550.93,197.78 L552.05,199.09 L553.05,198.97 L553.94,197.57 L555.08,199.24 L555.89,196.8 L557.07,198.92 L558,198 L559,197.14 L560,198.51 L561,198.83 L562,198.22 L563,197.52 L564,198.55 L565,197.26 L566,198.03 L567,198.8 L568,198.66 L569,198.33 L570,198 L570.81,199.29 L572.2,197.15 L573.16,197.52 L574.21,197.38 L575.13,198.05 L576.13,198.24 L577.21,197.9 L578.02,199.19 L579.04,199.29 L580.14,198.83 L581.17,198.81 L582,200 L582.91,200.62 L583.71,201.64 L585.24,199.81 L586.31,199.76 L586.92,201.57 L588.07,201.21 L588.79,202.6 L589.76,202.94 L591.06,202 L591.73,203.57 L592.83,203.44 L594,203 L595.5,202.14 L596.37,202.89 L596.99,204.21 L597.62,205.56 L599.08,204.8 L599.95,205.51 L601.15,205.43 L601.86,206.55 L602.67,207.43 L604,207 L604.58,207.99 L605.04,209.15 L607.17,207.82 L606.85,210.16 L608.49,209.55 L608.54,211.33 L610,211 L608.93,210.2 L608.05,211.72 L607.01,211.33 L606.02,211.57 L604.98,211.23 L603.95,210.91 L602.9,210.34 L601.94,210.9 L600.91,210.69 L600.03,212.14 L599.05,212.49 L598,212 L597,211.19 L596,210.61 L595,213.39 L594,212.23 L593,212.17 L592,211.57 L591,212.89 L590,211.1 L589,213.33 L588,212 L587.46,213.6 L586.32,213.6 L585.23,213.74 L583.53,212.25 L583.05,214.01 L581.73,213.53 L581.32,215.48 L580,215 L579.22,215.69 L578.9,217.07 L576.77,215.72 L577.23,218.27 L576.48,219.01 L574.25,217.52 L574,219 L573.84,217.45 L572.48,217.34 L570.67,217.77 L570.22,216.56 L570.29,214.74 L569.53,213.9 L568,214 L568.11,212.44 L566.64,212.45 L566.39,211.25 L565.17,211.01 L565.04,209.69 L564.57,208.7 L563.72,208.1 L562.21,208.16 L561.55,207.36 L560.37,207.08 L560,206 L559.16,205.34 L557.61,206.12 L556.98,205.04 L555.92,204.84 L554.71,204.91 L553.88,204.24 L553.65,202.36 L552.77,201.79 L551.4,202.2 L550.24,202.19 L549.68,200.98 L548.59,200.82 L548.03,199.61 L547.52,198.3 Z" fill="none" stroke="#f055f0" stroke-width="0.72" stroke-linejoin="round"/><path d="M577,236 L577.57,234.68 L578.87,234.58 L579.69,233.68 L580.49,232.74 L582,233 L583.11,232.35 L583.89,234.02 L585.16,232.29 L586.04,233.32 L586.91,234.37 L588.01,233.78 L589,234 L589.76,235.01 L591.4,233.8 L591.87,235.53 L592.64,236.5 L594,236 L593.18,236.78 L593.22,238.42 L591.05,237.85 L590.11,238.51 L590,240 L588.91,239.48 L588.05,240.64 L586.85,239.35 L585.9,239.84 L585.03,240.94 L583.94,240.44 L583,241 L582.84,239.44 L580.94,239.99 L580,239.37 L579.73,237.95 L578.03,238.25 L578.16,236.35 Z" fill="none" stroke="#f055f0" stroke-width="0.72" stroke-linejoin="round"/>
</g>
<rect x="514.7" y="149.2" width="119" height="118.2" fill="none" stroke="#8c8c8c" stroke-width="0.9"/>
<text x="517" y="159.2" font-size="10.2" font-weight="bold" fill="#111">h)</text>
<linearGradient id="g10" x1="0" y1="0" x2="0" y2="1">
<stop offset="0" stop-color="#f2484b"/>
<stop offset="0.05" stop-color="#f35a5d"/>
<stop offset="0.1" stop-color="#f46c6f"/>
<stop offset="0.15" stop-color="#f57e81"/>
<stop offset="0.2" stop-color="#f79193"/>
<stop offset="0.25" stop-color="#f8a3a5"/>
<stop offset="0.3" stop-color="#f9b5b7"/>
<stop offset="0.35" stop-color="#fbc8c9"/>
<stop offset="0.4" stop-color="#fcdadb"/>
<stop offset="0.45" stop-color="#fdeced"/>
<stop offset="0.5" stop-color="#ffffff"/>
<stop offset="0.55" stop-color="#ededfe"/>
<stop offset="0.6" stop-color="#dbdbfd"/>
<stop offset="0.65" stop-color="#c9c9fc"/>
<stop offset="0.7" stop-color="#b7b7fb"/>
<stop offset="0.75" stop-color="#a5a5fb"/>
<stop offset="0.8" stop-color="#9393fa"/>
<stop offset="0.85" stop-color="#8181f9"/>
<stop offset="0.9" stop-color="#6f6ff8"/>
<stop offset="0.95" stop-color="#5d5df7"/>
<stop offset="1" stop-color="#4b4bf7"/>
</linearGradient>
<rect x="663.6" y="149.2" width="6.2" height="118.2" fill="url(#g10)" stroke="#8c8c8c" stroke-width="0.6"/>
<line x1="669.8" y1="267.4" x2="671.3" y2="267.4" stroke="#666" stroke-width="0.5"/>
<text x="672" y="269.6" font-size="6.2" fill="#222">−4</text>
<line x1="669.8" y1="252.62" x2="671.3" y2="252.62" stroke="#666" stroke-width="0.5"/>
<text x="672" y="254.82" font-size="6.2" fill="#222">−3</text>
<line x1="669.8" y1="237.85" x2="671.3" y2="237.85" stroke="#666" stroke-width="0.5"/>
<text x="672" y="240.05" font-size="6.2" fill="#222">−2</text>
<line x1="669.8" y1="223.07" x2="671.3" y2="223.07" stroke="#666" stroke-width="0.5"/>
<text x="672" y="225.27" font-size="6.2" fill="#222">−1</text>
<line x1="669.8" y1="208.3" x2="671.3" y2="208.3" stroke="#666" stroke-width="0.5"/>
<text x="672" y="210.5" font-size="6.2" fill="#222">0</text>
<line x1="669.8" y1="193.52" x2="671.3" y2="193.52" stroke="#666" stroke-width="0.5"/>
<text x="672" y="195.72" font-size="6.2" fill="#222">1</text>
<line x1="669.8" y1="178.75" x2="671.3" y2="178.75" stroke="#666" stroke-width="0.5"/>
<text x="672" y="180.95" font-size="6.2" fill="#222">2</text>
<line x1="669.8" y1="163.97" x2="671.3" y2="163.97" stroke="#666" stroke-width="0.5"/>
<text x="672" y="166.17" font-size="6.2" fill="#222">3</text>
<line x1="669.8" y1="149.2" x2="671.3" y2="149.2" stroke="#666" stroke-width="0.5"/>
<text x="672" y="151.4" font-size="6.2" fill="#222">4</text>
<clipPath id="c11"><rect x="11.5" y="282.3" width="138.9" height="118.2"/></clipPath>
<g clip-path="url(#c11)">
<rect x="11.5" y="282.3" width="138.9" height="118.2" fill="#fff"/>
<g transform="translate(13.8,282.4) rotate(1)">
<rect x="0" y="0" width="14.52" height="12.65" fill="#f8b7ba"/>
<rect x="13.62" y="0" width="14.52" height="12.65" fill="#f8b2b5"/>
<rect x="27.24" y="0" width="14.52" height="12.65" fill="#f8b7ba"/>
<rect x="40.86" y="0" width="14.52" height="12.65" fill="#f9c0c3"/>
<rect x="54.48" y="0" width="14.52" height="12.65" fill="#f8b2b5"/>
<rect x="68.1" y="0" width="14.52" height="12.65" fill="#f25a5d"/>
<rect x="81.72" y="0" width="14.52" height="12.65" fill="#f9c0c3"/>
<rect x="95.34" y="0" width="14.52" height="12.65" fill="#fbd9dc"/>
<rect x="108.96" y="0" width="14.52" height="12.65" fill="#fdf2f5"/>
<rect x="122.58" y="0" width="14.52" height="12.65" fill="#fefcfc"/>
<rect x="0" y="11.75" width="14.52" height="12.65" fill="#f9c4c7"/>
<rect x="13.62" y="11.75" width="14.52" height="12.65" fill="#f9c4c7"/>
<rect x="27.24" y="11.75" width="14.52" height="12.65" fill="#f8acaf"/>
<rect x="40.86" y="11.75" width="14.52" height="12.65" fill="#f8b7ba"/>
<rect x="54.48" y="11.75" width="14.52" height="12.65" fill="#f8b7ba"/>
<rect x="68.1" y="11.75" width="14.52" height="12.65" fill="#f25a5d"/>
<rect x="81.72" y="11.75" width="14.52" height="12.65" fill="#fad0d3"/>
<rect x="95.34" y="11.75" width="14.52" height="12.65" fill="#fce5e8"/>
<rect x="108.96" y="11.75" width="14.52" height="12.65" fill="#fdf6f9"/>
<rect x="122.58" y="11.75" width="14.52" height="12.65" fill="#e1e1fd"/>
<rect x="0" y="23.5" width="14.52" height="12.65" fill="#fceaed"/>
<rect x="13.62" y="23.5" width="14.52" height="12.65" fill="#fceaed"/>
<rect x="27.24" y="23.5" width="14.52" height="12.65" fill="#fbd5d8"/>
<rect x="40.86" y="23.5" width="14.52" height="12.65" fill="#fad0d3"/>
<rect x="54.48" y="23.5" width="14.52" height="12.65" fill="#f8b7ba"/>
<rect x="68.1" y="23.5" width="14.52" height="12.65" fill="#f36e71"/>
<rect x="81.72" y="23.5" width="14.52" height="12.65" fill="#f5888b"/>
<rect x="95.34" y="23.5" width="14.52" height="12.65" fill="#fad0d3"/>
<rect x="108.96" y="23.5" width="14.52" height="12.65" fill="#fce5e8"/>
<rect x="122.58" y="23.5" width="14.52" height="12.65" fill="#f5f5fe"/>
<rect x="0" y="35.25" width="14.52" height="12.65" fill="#ebebfe"/>
<rect x="13.62" y="35.25" width="14.52" height="12.65" fill="#fefcfc"/>
<rect x="27.24" y="35.25" width="14.52" height="12.65" fill="#fdf2f5"/>
<rect x="40.86" y="35.25" width="14.52" height="12.65" fill="#fbdde0"/>
<rect x="54.48" y="35.25" width="14.52" height="12.65" fill="#fac8cb"/>
<rect x="68.1" y="35.25" width="14.52" height="12.65" fill="#f36467"/>
<rect x="81.72" y="35.25" width="14.52" height="12.65" fill="#f14649"/>
<rect x="95.34" y="35.25" width="14.52" height="12.65" fill="#f69598"/>
<rect x="108.96" y="35.25" width="14.52" height="12.65" fill="#fac8cb"/>
<rect x="122.58" y="35.25" width="14.52" height="12.65" fill="#fbd9dc"/>
<rect x="0" y="47" width="14.52" height="12.65" fill="#dcdcfd"/>
<rect x="13.62" y="47" width="14.52" height="12.65" fill="#e1e1fd"/>
<rect x="27.24" y="47" width="14.52" height="12.65" fill="#f0f0fe"/>
<rect x="40.86" y="47" width="14.52" height="12.65" fill="#fdf9fc"/>
<rect x="54.48" y="47" width="14.52" height="12.65" fill="#fbd9dc"/>
<rect x="68.1" y="47" width="14.52" height="12.65" fill="#f15053"/>
<rect x="81.72" y="47" width="14.52" height="12.65" fill="#f14649"/>
<rect x="95.34" y="47" width="14.52" height="12.65" fill="#f14649"/>
<rect x="108.96" y="47" width="14.52" height="12.65" fill="#f14649"/>
<rect x="122.58" y="47" width="14.52" height="12.65" fill="#f14649"/>
<rect x="0" y="58.75" width="14.52" height="12.65" fill="#d2d2fd"/>
<rect x="13.62" y="58.75" width="14.52" height="12.65" fill="#d7d7fd"/>
<rect x="27.24" y="58.75" width="14.52" height="12.65" fill="#e8e8fd"/>
<rect x="40.86" y="58.75" width="14.52" height="12.65" fill="#f0f0fe"/>
<rect x="54.48" y="58.75" width="14.52" height="12.65" fill="#fbd5d8"/>
<rect x="68.1" y="58.75" width="14.52" height="12.65" fill="#f8acaf"/>
<rect x="81.72" y="58.75" width="14.52" height="12.65" fill="#f14649"/>
<rect x="95.34" y="58.75" width="14.52" height="12.65" fill="#f14649"/>
<rect x="108.96" y="58.75" width="14.52" height="12.65" fill="#f14649"/>
<rect x="122.58" y="58.75" width="14.52" height="12.65" fill="#f14649"/>
<rect x="0" y="70.5" width="14.52" height="12.65" fill="#c8c8fc"/>
<rect x="13.62" y="70.5" width="14.52" height="12.65" fill="#cdcdfc"/>
<rect x="27.24" y="70.5" width="14.52" height="12.65" fill="#d7d7fd"/>
<rect x="40.86" y="70.5" width="14.52" height="12.65" fill="#e1e1fd"/>
<rect x="54.48" y="70.5" width="14.52" height="12.65" fill="#f0f0fe"/>
<rect x="68.1" y="70.5" width="14.52" height="12.65" fill="#f5f5fe"/>
<rect x="81.72" y="70.5" width="14.52" height="12.65" fill="#fad0d3"/>
<rect x="95.34" y="70.5" width="14.52" height="12.65" fill="#f7a1a4"/>
<rect x="108.96" y="70.5" width="14.52" height="12.65" fill="#f14649"/>
<rect x="122.58" y="70.5" width="14.52" height="12.65" fill="#f14649"/>
<rect x="0" y="82.25" width="14.52" height="12.65" fill="#bebefc"/>
<rect x="13.62" y="82.25" width="14.52" height="12.65" fill="#c3c3fc"/>
<rect x="27.24" y="82.25" width="14.52" height="12.65" fill="#cdcdfc"/>
<rect x="40.86" y="82.25" width="14.52" height="12.65" fill="#d7d7fd"/>
<rect x="54.48" y="82.25" width="14.52" height="12.65" fill="#d2d2fd"/>
<rect x="68.1" y="82.25" width="14.52" height="12.65" fill="#d7d7fd"/>
<rect x="81.72" y="82.25" width="14.52" height="12.65" fill="#e1e1fd"/>
<rect x="95.34" y="82.25" width="14.52" height="12.65" fill="#f0f0fe"/>
<rect x="108.96" y="82.25" width="14.52" height="12.65" fill="#fceaed"/>
<rect x="122.58" y="82.25" width="14.52" height="12.65" fill="#f69598"/>
<rect x="0" y="94" width="14.52" height="12.65" fill="#afaffb"/>
<rect x="13.62" y="94" width="14.52" height="12.65" fill="#b9b9fb"/>
<rect x="27.24" y="94" width="14.52" height="12.65" fill="#c8c8fc"/>
<rect x="40.86" y="94" width="14.52" height="12.65" fill="#cdcdfc"/>
<rect x="54.48" y="94" width="14.52" height="12.65" fill="#cdcdfc"/>
<rect x="68.1" y="94" width="14.52" height="12.65" fill="#d2d2fd"/>
<rect x="81.72" y="94" width="14.52" height="12.65" fill="#d7d7fd"/>
<rect x="95.34" y="94" width="14.52" height="12.65" fill="#e1e1fd"/>
<rect x="108.96" y="94" width="14.52" height="12.65" fill="#f0f0fe"/>
<rect x="122.58" y="94" width="14.52" height="12.65" fill="#fceef1"/>
<rect x="0" y="105.75" width="14.52" height="12.65" fill="#a5a5fb"/>
<rect x="13.62" y="105.75" width="14.52" height="12.65" fill="#aaaafb"/>
<rect x="27.24" y="105.75" width="14.52" height="12.65" fill="#b9b9fb"/>
<rect x="40.86" y="105.75" width="14.52" height="12.65" fill="#c3c3fc"/>
<rect x="54.48" y="105.75" width="14.52" height="12.65" fill="#c8c8fc"/>
<rect x="68.1" y="105.75" width="14.52" height="12.65" fill="#c8c8fc"/>
<rect x="81.72" y="105.75" width="14.52" height="12.65" fill="#cdcdfc"/>
<rect x="95.34" y="105.75" width="14.52" height="12.65" fill="#d7d7fd"/>
<rect x="108.96" y="105.75" width="14.52" height="12.65" fill="#e6e6fd"/>
<rect x="122.58" y="105.75" width="14.52" height="12.65" fill="#fefcfc"/>
</g>
<path d="M87.9,282.3 L87.3,290.8 L88.6,298.2 L92.2,307.8 L95.4,315.3 L101.8,318.5 L108.2,320.6 L114.6,324.9 L118.8,331.3 L123.1,336 L129.5,335.5 L135.9,334.5 L144.4,333.8 L150.4,334.5" fill="none" stroke="#3a3a3a" stroke-width="0.6" stroke-linejoin="round"/><path d="M94.3,282.3 L93.3,288.7 L92.2,295 L92.2,303.6 L94.3,318.5 L93.3,322.8 L89,327 L85.8,330.2 L87.9,333.8" fill="none" stroke="#3a3a3a" stroke-width="0.6" stroke-linejoin="round"/><path d="M95.4,348.3 L101.8,351.5 L110.3,352.6 L121,355.8 L127.4,360.1 L133.8,363.3 L140.1,367.5 L146.5,371.8 L150.4,372.8" fill="none" stroke="#3a3a3a" stroke-width="0.6" stroke-linejoin="round"/><path d="M67.86,306.85 L81.48,307.08 L80.86,342.33 L108.1,342.8 L107.69,366.3 L94.07,366.06 L93.87,377.81 L66.63,377.34 L66.84,365.59 L53.22,365.35 L53.42,353.6 L39.81,353.36 L40.22,329.87 L53.83,330.11 L54.04,318.36 L67.66,318.6 Z" fill="none" stroke="#8a8f2c" stroke-width="1.3" stroke-linejoin="miter"/><path d="M67.45,330.34 L81.07,330.58 L80.86,342.33 L94.48,342.57 L94.28,354.32 L67.04,353.84 Z" fill="none" stroke="#a8302e" stroke-width="1.2" stroke-linejoin="miter"/><path d="M69.8,334.5 L69.71,333.02 L71.66,333.47 L71.9,332.3 L72.98,333.36 L74.05,332.37 L75.12,332.4 L76.2,332.3 L77.34,331.84 L78.37,332.23 L79.43,332.33 L80.45,332.81 L81.5,333 L82.29,334.19 L83.5,334.18 L84.76,334.03 L85.8,334.5 L86.99,334.91 L86.99,336.51 L88.18,336.92 L89,337.7 L89.88,338.62 L91.6,337.82 L92.01,339.72 L93.3,339.8 L94.32,340.66 L94.06,342.36 L95.4,343 L96.87,342.81 L97.09,344.27 L97.35,345.67 L99.16,345.04 L99.6,346.2 L101.14,345.92 L102.04,346.51 L101.44,349.11 L102.62,349.32 L103.9,349.4 L104.63,350.61 L106.22,350.51 L107.1,351.5 L107.01,352.82 L105.06,352.35 L105,353.7 L103.93,353.95 L102.72,353.45 L101.88,354.94 L100.81,355.2 L99.6,354.7 L97.93,354.56 L96.71,355.07 L96.4,356.9 L95.25,357.71 L94.96,358.79 L95.4,360.1 L94.33,359.45 L93.27,361.02 L92.2,360.1 L91.08,359.77 L90.71,358.72 L90.1,357.9 L89.39,356.63 L87.34,358.1 L86.79,356.5 L85.8,355.8 L85.62,357.22 L83.6,356.8 L83.11,357.91 L82.6,359 L81.72,359.9 L80.5,359.84 L79.4,360.1 L78.6,359.18 L77.79,358.27 L78.3,356.9 L78.54,355.49 L80.44,355.23 L80.5,353.7 L79.77,352.71 L78.16,352.18 L79.07,350.36 L78.3,349.4 L77.07,349.82 L76.47,347.82 L75.17,348.49 L74.1,348.3 L72.8,348.24 L72.27,346.59 L70.48,347.54 L69.8,346.2 L68.83,345.3 L68.86,344.15 L69.16,342.93 L68.7,341.9 L69.97,341.2 L69.06,339.01 L70.9,338.7 L70.04,337.8 L70.37,336.59 L70.01,335.57 Z" fill="none" stroke="#f055f0" stroke-width="0.9" stroke-linejoin="round"/>
</g>
<rect x="11.5" y="282.3" width="138.9" height="118.2" fill="none" stroke="#8c8c8c" stroke-width="0.9"/>
<text x="19.2" y="292.3" font-size="10.2" font-weight="bold" fill="#111">i)</text>
<clipPath id="c12"><rect x="156.8" y="282.4" width="162.8" height="117.6"/></clipPath>
<g clip-path="url(#c12)">
<polygon points="164.2,330.22 177.65,329.55 191.11,327.88 204.56,324.86 218.02,330.55 231.47,330.89 244.93,335.25 258.38,341.94 271.84,340.27 285.29,335.58 298.75,334.57 312.2,334.57 312.2,384.82 298.75,382.81 285.29,381.47 271.84,380.8 258.38,380.13 244.93,381.47 231.47,382.81 218.02,384.82 204.56,386.5 191.11,385.5 177.65,382.14 164.2,389.18" fill="#eaf1da" fill-opacity="0.8"/>
<polygon points="164.2,324.86 177.65,326.2 191.11,324.86 204.56,330.22 218.02,335.58 231.47,341.27 244.93,349.65 258.38,357.02 271.84,344.62 285.29,337.92 298.75,331.22 312.2,326.2 312.2,347.97 298.75,351.32 285.29,353.67 271.84,356.35 258.38,363.05 244.93,361.38 231.47,357.02 218.02,354 204.56,350.32 191.11,347.97 177.65,345.63 164.2,342.95" fill="#e0b8b8" fill-opacity="0.35"/>
<polyline points="164.2,330.22 177.65,329.55 191.11,327.88 204.56,324.86 218.02,330.55 231.47,330.89 244.93,335.25 258.38,341.94 271.84,340.27 285.29,335.58 298.75,334.57 312.2,334.57" fill="none" stroke="#a6ad5c" stroke-width="0.5" stroke-opacity="0.7" stroke-linejoin="round"/>
<polyline points="164.2,389.18 177.65,382.14 191.11,385.5 204.56,386.5 218.02,384.82 231.47,382.81 244.93,381.47 258.38,380.13 271.84,380.8 285.29,381.47 298.75,382.81 312.2,384.82" fill="none" stroke="#a6ad5c" stroke-width="0.5" stroke-opacity="0.7" stroke-linejoin="round"/>
<polyline points="164.2,341.27 177.65,344.62 191.11,346.3 204.56,344.62 218.02,347.97 231.47,349.65 244.93,349.65 258.38,347.97 271.84,346.3 285.29,345.63 298.75,344.62 312.2,345.63" fill="none" stroke="#a6ad5c" stroke-width="0.5" stroke-opacity="0.7" stroke-linejoin="round"/>
<polyline points="164.2,356.35 177.65,363.05 191.11,361.38 204.56,359.7 218.02,359.7 231.47,361.38 244.93,363.05 258.38,364.72 271.84,362.38 285.29,361.38 298.75,361.38 312.2,359.7" fill="none" stroke="#a6ad5c" stroke-width="0.5" stroke-opacity="0.7" stroke-linejoin="round"/>
<polyline points="164.2,369.75 177.65,361.38 191.11,358.02 204.56,356.35 218.02,358.02 231.47,359.7 244.93,363.05 258.38,368.07 271.84,368.07 285.29,369.75 298.75,369.08 312.2,369.75" fill="none" stroke="#a6ad5c" stroke-width="0.5" stroke-opacity="0.7" stroke-linejoin="round"/>
<polyline points="164.2,374.77 177.65,376.45 191.11,378.12 204.56,376.45 218.02,374.77 231.47,374.77 244.93,371.42 258.38,369.75 271.84,374.77 285.29,374.77 298.75,376.45 312.2,376.45" fill="none" stroke="#a6ad5c" stroke-width="0.5" stroke-opacity="0.7" stroke-linejoin="round"/>
<polyline points="164.2,379.8 177.65,373.1 191.11,374.77 204.56,373.1 218.02,371.42 231.47,369.75 244.93,369.75 258.38,373.1 271.84,371.42 285.29,369.75 298.75,369.75 312.2,371.42" fill="none" stroke="#a6ad5c" stroke-width="0.5" stroke-opacity="0.7" stroke-linejoin="round"/>
<polyline points="164.2,364.72 177.65,371.42 191.11,369.75 204.56,369.75 218.02,368.07 231.47,366.4 244.93,364.72 258.38,363.05 271.84,369.75 285.29,373.1 298.75,373.1 312.2,374.77" fill="none" stroke="#a6ad5c" stroke-width="0.5" stroke-opacity="0.7" stroke-linejoin="round"/>
<polyline points="164.2,324.86 177.65,326.2 191.11,324.86 204.56,330.22 218.02,335.58 231.47,341.27 244.93,349.65 258.38,357.02 271.84,344.62 285.29,337.92 298.75,331.22 312.2,326.2" fill="none" stroke="#c86a6a" stroke-width="0.5" stroke-opacity="0.7" stroke-linejoin="round"/>
<polyline points="164.2,342.95 177.65,345.63 191.11,347.97 204.56,350.32 218.02,354 231.47,357.02 244.93,361.38 258.38,363.05 271.84,356.35 285.29,353.67 298.75,351.32 312.2,347.97" fill="none" stroke="#c86a6a" stroke-width="0.5" stroke-opacity="0.7" stroke-linejoin="round"/>
<polyline points="164.2,339.6 177.65,341.27 191.11,342.95 204.56,345.63 218.02,349.65 231.47,353.67 244.93,358.02 258.38,361.38 271.84,351.32 285.29,347.97 298.75,342.95 312.2,337.92" fill="none" stroke="#c86a6a" stroke-width="0.5" stroke-opacity="0.7" stroke-linejoin="round"/>
<polyline points="164.2,366.4 177.65,366.4 191.11,366.4 204.56,366.4 218.02,366.4 231.47,366.4 244.93,366.4 258.38,366.4 271.84,366.4 285.29,366.4 298.75,366.4 312.2,366.4" fill="none" stroke="#8f9a35" stroke-width="1.9" stroke-linejoin="round"/>
<polyline points="164.2,336.58 177.65,338.26 191.11,340.27 204.56,343.28 218.02,347.97 231.47,352 244.93,357.02 258.38,359.7 271.84,352 285.29,349.65 298.75,345.29 312.2,341.61" fill="none" stroke="#b3302f" stroke-width="1.6" stroke-linejoin="round"/>
</g>
<rect x="156.8" y="282.4" width="162.8" height="117.6" fill="none" stroke="#8c8c8c" stroke-width="0.9"/>
<line x1="164.2" y1="400" x2="164.2" y2="401.6" stroke="#666" stroke-width="0.6"/>
<text x="164.2" y="408" font-size="5.9" text-anchor="middle" fill="#222">Jan</text>
<line x1="177.65" y1="400" x2="177.65" y2="401.6" stroke="#666" stroke-width="0.6"/>
<text x="177.65" y="408" font-size="5.9" text-anchor="middle" fill="#222">Feb</text>
<line x1="191.11" y1="400" x2="191.11" y2="401.6" stroke="#666" stroke-width="0.6"/>
<text x="191.11" y="408" font-size="5.9" text-anchor="middle" fill="#222">Mar</text>
<line x1="204.56" y1="400" x2="204.56" y2="401.6" stroke="#666" stroke-width="0.6"/>
<text x="204.56" y="408" font-size="5.9" text-anchor="middle" fill="#222">Apr</text>
<line x1="218.02" y1="400" x2="218.02" y2="401.6" stroke="#666" stroke-width="0.6"/>
<text x="218.02" y="408" font-size="5.9" text-anchor="middle" fill="#222">May</text>
<line x1="231.47" y1="400" x2="231.47" y2="401.6" stroke="#666" stroke-width="0.6"/>
<text x="231.47" y="408" font-size="5.9" text-anchor="middle" fill="#222">Jun</text>
<line x1="244.93" y1="400" x2="244.93" y2="401.6" stroke="#666" stroke-width="0.6"/>
<text x="244.93" y="408" font-size="5.9" text-anchor="middle" fill="#222">Jul</text>
<line x1="258.38" y1="400" x2="258.38" y2="401.6" stroke="#666" stroke-width="0.6"/>
<text x="258.38" y="408" font-size="5.9" text-anchor="middle" fill="#222">Aug</text>
<line x1="271.84" y1="400" x2="271.84" y2="401.6" stroke="#666" stroke-width="0.6"/>
<text x="271.84" y="408" font-size="5.9" text-anchor="middle" fill="#222">Sep</text>
<line x1="285.29" y1="400" x2="285.29" y2="401.6" stroke="#666" stroke-width="0.6"/>
<text x="285.29" y="408" font-size="5.9" text-anchor="middle" fill="#222">Oct</text>
<line x1="298.75" y1="400" x2="298.75" y2="401.6" stroke="#666" stroke-width="0.6"/>
<text x="298.75" y="408" font-size="5.9" text-anchor="middle" fill="#222">Nov</text>
<line x1="312.2" y1="400" x2="312.2" y2="401.6" stroke="#666" stroke-width="0.6"/>
<text x="312.2" y="408" font-size="5.9" text-anchor="middle" fill="#222">Dec</text>
<line x1="155.2" y1="399.9" x2="156.8" y2="399.9" stroke="#666" stroke-width="0.6"/>
<line x1="155.2" y1="383.15" x2="156.8" y2="383.15" stroke="#666" stroke-width="0.6"/>
<line x1="155.2" y1="366.4" x2="156.8" y2="366.4" stroke="#666" stroke-width="0.6"/>
<line x1="155.2" y1="349.65" x2="156.8" y2="349.65" stroke="#666" stroke-width="0.6"/>
<line x1="155.2" y1="332.9" x2="156.8" y2="332.9" stroke="#666" stroke-width="0.6"/>
<line x1="155.2" y1="316.15" x2="156.8" y2="316.15" stroke="#666" stroke-width="0.6"/>
<line x1="155.2" y1="299.4" x2="156.8" y2="299.4" stroke="#666" stroke-width="0.6"/>
<line x1="155.2" y1="282.65" x2="156.8" y2="282.65" stroke="#666" stroke-width="0.6"/>
<text x="162.9" y="292.4" font-size="10.2" font-weight="bold" fill="#111">j)</text>
<clipPath id="c13"><rect x="344.8" y="282.6" width="162" height="117.4"/></clipPath>
<g clip-path="url(#c13)">
<polygon points="352.2,355.68 365.58,356.35 378.96,356.35 392.35,355.68 405.73,356.35 419.11,354 432.49,356.35 445.87,358.02 459.25,353.67 472.64,352.33 486.02,352.33 499.4,356.35 499.4,379.13 486.02,380.47 472.64,380.8 459.25,379.13 445.87,375.78 432.49,373.1 419.11,371.42 405.73,373.1 392.35,376.45 378.96,379.13 365.58,379.13 352.2,379.13" fill="#eaf1da" fill-opacity="0.8"/>
<polygon points="352.2,338.59 365.58,336.92 378.96,335.25 392.35,333.57 405.73,333.57 419.11,333.23 432.49,330.22 445.87,324.52 459.25,331.22 472.64,330.22 486.02,333.57 499.4,337.92 499.4,351.32 486.02,347.97 472.64,345.63 459.25,345.29 445.87,334.57 432.49,332.9 419.11,333.9 405.73,337.92 392.35,341.27 378.96,344.62 365.58,346.97 352.2,348.98" fill="#e0b8b8" fill-opacity="0.35"/>
<polyline points="352.2,355.68 365.58,356.35 378.96,356.35 392.35,355.68 405.73,356.35 419.11,354 432.49,356.35 445.87,358.02 459.25,353.67 472.64,352.33 486.02,352.33 499.4,356.35" fill="none" stroke="#a6ad5c" stroke-width="0.5" stroke-opacity="0.7" stroke-linejoin="round"/>
<polyline points="352.2,379.13 365.58,379.13 378.96,379.13 392.35,376.45 405.73,373.1 419.11,371.42 432.49,373.1 445.87,375.78 459.25,379.13 472.64,380.8 486.02,380.47 499.4,379.13" fill="none" stroke="#a6ad5c" stroke-width="0.5" stroke-opacity="0.7" stroke-linejoin="round"/>
<polyline points="352.2,359.03 365.58,363.05 378.96,366.4 392.35,369.75 405.73,371.42 419.11,369.75 432.49,366.4 445.87,359.7 459.25,364.72 472.64,360.37 486.02,360.37 499.4,357.02" fill="none" stroke="#a6ad5c" stroke-width="0.5" stroke-opacity="0.7" stroke-linejoin="round"/>
<polyline points="352.2,368.07 365.58,364.72 378.96,358.02 392.35,359.7 405.73,362.38 419.11,364.72 432.49,368.07 445.87,371.42 459.25,374.77 472.64,373.1 486.02,369.75 499.4,371.42" fill="none" stroke="#a6ad5c" stroke-width="0.5" stroke-opacity="0.7" stroke-linejoin="round"/>
<polyline points="352.2,376.45 365.58,373.1 378.96,371.42 392.35,371.42 405.73,369.75 419.11,368.07 432.49,364.72 445.87,363.05 459.25,361.38 472.64,358.02 486.02,356.35 499.4,361.38" fill="none" stroke="#a6ad5c" stroke-width="0.5" stroke-opacity="0.7" stroke-linejoin="round"/>
<polyline points="352.2,338.59 365.58,336.92 378.96,335.25 392.35,333.57 405.73,333.57 419.11,333.23 432.49,330.22 445.87,324.52 459.25,331.22 472.64,330.22 486.02,333.57 499.4,337.92" fill="none" stroke="#c86a6a" stroke-width="0.5" stroke-opacity="0.7" stroke-linejoin="round"/>
<polyline points="352.2,348.98 365.58,346.97 378.96,344.62 392.35,341.27 405.73,337.92 419.11,333.9 432.49,332.9 445.87,334.57 459.25,345.29 472.64,345.63 486.02,347.97 499.4,351.32" fill="none" stroke="#c86a6a" stroke-width="0.5" stroke-opacity="0.7" stroke-linejoin="round"/>
<polyline points="352.2,366.4 365.58,366.4 378.96,366.4 392.35,366.4 405.73,366.4 419.11,366.4 432.49,366.4 445.87,366.4 459.25,366.4 472.64,366.4 486.02,366.4 499.4,366.4" fill="none" stroke="#8f9a35" stroke-width="1.9" stroke-linejoin="round"/>
<polyline points="352.2,344.62 365.58,342.28 378.96,340.27 392.35,337.25 405.73,335.25 419.11,333.57 432.49,331.89 445.87,329.55 459.25,338.26 472.64,337.92 486.02,341.27 499.4,344.62" fill="none" stroke="#b3302f" stroke-width="1.6" stroke-linejoin="round"/>
</g>
<rect x="344.8" y="282.6" width="162" height="117.4" fill="none" stroke="#8c8c8c" stroke-width="0.9"/>
<line x1="352.2" y1="400" x2="352.2" y2="401.6" stroke="#666" stroke-width="0.6"/>
<text x="352.2" y="408" font-size="5.9" text-anchor="middle" fill="#222">Jan</text>
<line x1="365.58" y1="400" x2="365.58" y2="401.6" stroke="#666" stroke-width="0.6"/>
<text x="365.58" y="408" font-size="5.9" text-anchor="middle" fill="#222">Feb</text>
<line x1="378.96" y1="400" x2="378.96" y2="401.6" stroke="#666" stroke-width="0.6"/>
<text x="378.96" y="408" font-size="5.9" text-anchor="middle" fill="#222">Mar</text>
<line x1="392.35" y1="400" x2="392.35" y2="401.6" stroke="#666" stroke-width="0.6"/>
<text x="392.35" y="408" font-size="5.9" text-anchor="middle" fill="#222">Apr</text>
<line x1="405.73" y1="400" x2="405.73" y2="401.6" stroke="#666" stroke-width="0.6"/>
<text x="405.73" y="408" font-size="5.9" text-anchor="middle" fill="#222">May</text>
<line x1="419.11" y1="400" x2="419.11" y2="401.6" stroke="#666" stroke-width="0.6"/>
<text x="419.11" y="408" font-size="5.9" text-anchor="middle" fill="#222">Jun</text>
<line x1="432.49" y1="400" x2="432.49" y2="401.6" stroke="#666" stroke-width="0.6"/>
<text x="432.49" y="408" font-size="5.9" text-anchor="middle" fill="#222">Jul</text>
<line x1="445.87" y1="400" x2="445.87" y2="401.6" stroke="#666" stroke-width="0.6"/>
<text x="445.87" y="408" font-size="5.9" text-anchor="middle" fill="#222">Aug</text>
<line x1="459.25" y1="400" x2="459.25" y2="401.6" stroke="#666" stroke-width="0.6"/>
<text x="459.25" y="408" font-size="5.9" text-anchor="middle" fill="#222">Sep</text>
<line x1="472.64" y1="400" x2="472.64" y2="401.6" stroke="#666" stroke-width="0.6"/>
<text x="472.64" y="408" font-size="5.9" text-anchor="middle" fill="#222">Oct</text>
<line x1="486.02" y1="400" x2="486.02" y2="401.6" stroke="#666" stroke-width="0.6"/>
<text x="486.02" y="408" font-size="5.9" text-anchor="middle" fill="#222">Nov</text>
<line x1="499.4" y1="400" x2="499.4" y2="401.6" stroke="#666" stroke-width="0.6"/>
<text x="499.4" y="408" font-size="5.9" text-anchor="middle" fill="#222">Dec</text>
<line x1="343.2" y1="399.9" x2="344.8" y2="399.9" stroke="#666" stroke-width="0.6"/>
<line x1="343.2" y1="383.15" x2="344.8" y2="383.15" stroke="#666" stroke-width="0.6"/>
<line x1="343.2" y1="366.4" x2="344.8" y2="366.4" stroke="#666" stroke-width="0.6"/>
<line x1="343.2" y1="349.65" x2="344.8" y2="349.65" stroke="#666" stroke-width="0.6"/>
<line x1="343.2" y1="332.9" x2="344.8" y2="332.9" stroke="#666" stroke-width="0.6"/>
<line x1="343.2" y1="316.15" x2="344.8" y2="316.15" stroke="#666" stroke-width="0.6"/>
<line x1="343.2" y1="299.4" x2="344.8" y2="299.4" stroke="#666" stroke-width="0.6"/>
<line x1="343.2" y1="282.65" x2="344.8" y2="282.65" stroke="#666" stroke-width="0.6"/>
<text x="342.6" y="402.1" font-size="6.1" text-anchor="end" fill="#222">−1.0</text>
<text x="342.6" y="385.35" font-size="6.1" text-anchor="end" fill="#222">−0.5</text>
<text x="342.6" y="368.6" font-size="6.1" text-anchor="end" fill="#222">0.0</text>
<text x="342.6" y="351.85" font-size="6.1" text-anchor="end" fill="#222">0.5</text>
<text x="342.6" y="335.1" font-size="6.1" text-anchor="end" fill="#222">1.0</text>
<text x="342.6" y="318.35" font-size="6.1" text-anchor="end" fill="#222">1.5</text>
<text x="342.6" y="301.6" font-size="6.1" text-anchor="end" fill="#222">2.0</text>
<text x="342.6" y="284.85" font-size="6.1" text-anchor="end" fill="#222">2.5</text>
<text x="348.1" y="292.6" font-size="10.2" font-weight="bold" fill="#111">k)</text>
<text transform="translate(330,332.7) rotate(-90)" font-size="6.45" text-anchor="middle" fill="#222">Minimum temperature anomaly (°C)</text>
<clipPath id="c14"><rect x="514.7" y="282.3" width="144.7" height="118.2"/></clipPath>
<g clip-path="url(#c14)">
<rect x="514.7" y="282.3" width="144.7" height="118.2" fill="#fff"/>
<g transform="translate(514.8,282.3) rotate(0)">
<rect x="0" y="0" width="15.36" height="12.72" fill="#f8b2b5"/>
<rect x="14.46" y="0" width="15.36" height="12.72" fill="#fdf2f5"/>
<rect x="28.92" y="0" width="15.36" height="12.72" fill="#ebebfe"/>
<rect x="43.38" y="0" width="15.36" height="12.72" fill="#e1e1fd"/>
<rect x="57.84" y="0" width="15.36" height="12.72" fill="#ebebfe"/>
<rect x="72.3" y="0" width="15.36" height="12.72" fill="#fbdde0"/>
<rect x="86.76" y="0" width="15.36" height="12.72" fill="#fbd9dc"/>
<rect x="101.22" y="0" width="15.36" height="12.72" fill="#fceaed"/>
<rect x="115.68" y="0" width="15.36" height="12.72" fill="#fefcfc"/>
<rect x="130.14" y="0" width="15.36" height="12.72" fill="#e8e8fd"/>
<rect x="0" y="11.82" width="15.36" height="12.72" fill="#f8b7ba"/>
<rect x="14.46" y="11.82" width="15.36" height="12.72" fill="#f9c0c3"/>
<rect x="28.92" y="11.82" width="15.36" height="12.72" fill="#f5f5fe"/>
<rect x="43.38" y="11.82" width="15.36" height="12.72" fill="#b4b4fb"/>
<rect x="57.84" y="11.82" width="15.36" height="12.72" fill="#e1e1fd"/>
<rect x="72.3" y="11.82" width="15.36" height="12.72" fill="#fceaed"/>
<rect x="86.76" y="11.82" width="15.36" height="12.72" fill="#fbd9dc"/>
<rect x="101.22" y="11.82" width="15.36" height="12.72" fill="#fdf6f9"/>
<rect x="115.68" y="11.82" width="15.36" height="12.72" fill="#f0f0fe"/>
<rect x="130.14" y="11.82" width="15.36" height="12.72" fill="#e1e1fd"/>
<rect x="0" y="23.64" width="15.36" height="12.72" fill="#f9bbbe"/>
<rect x="14.46" y="23.64" width="15.36" height="12.72" fill="#f9c4c7"/>
<rect x="28.92" y="23.64" width="15.36" height="12.72" fill="#fbdde0"/>
<rect x="43.38" y="23.64" width="15.36" height="12.72" fill="#f0f0fe"/>
<rect x="57.84" y="23.64" width="15.36" height="12.72" fill="#fefcfc"/>
<rect x="72.3" y="23.64" width="15.36" height="12.72" fill="#f15053"/>
<rect x="86.76" y="23.64" width="15.36" height="12.72" fill="#fbd9dc"/>
<rect x="101.22" y="23.64" width="15.36" height="12.72" fill="#fce5e8"/>
<rect x="115.68" y="23.64" width="15.36" height="12.72" fill="#f5f5fe"/>
<rect x="130.14" y="23.64" width="15.36" height="12.72" fill="#e8e8fd"/>
<rect x="0" y="35.46" width="15.36" height="12.72" fill="#f9c0c3"/>
<rect x="14.46" y="35.46" width="15.36" height="12.72" fill="#fbd9dc"/>
<rect x="28.92" y="35.46" width="15.36" height="12.72" fill="#fbdde0"/>
<rect x="43.38" y="35.46" width="15.36" height="12.72" fill="#fdf2f5"/>
<rect x="57.84" y="35.46" width="15.36" height="12.72" fill="#fdf6f9"/>
<rect x="72.3" y="35.46" width="15.36" height="12.72" fill="#f14b4e"/>
<rect x="86.76" y="35.46" width="15.36" height="12.72" fill="#f14b4e"/>
<rect x="101.22" y="35.46" width="15.36" height="12.72" fill="#fceaed"/>
<rect x="115.68" y="35.46" width="15.36" height="12.72" fill="#fceef1"/>
<rect x="130.14" y="35.46" width="15.36" height="12.72" fill="#fefcfc"/>
<rect x="0" y="47.28" width="15.36" height="12.72" fill="#fac8cb"/>
<rect x="14.46" y="47.28" width="15.36" height="12.72" fill="#fceaed"/>
<rect x="28.92" y="47.28" width="15.36" height="12.72" fill="#fce5e8"/>
<rect x="43.38" y="47.28" width="15.36" height="12.72" fill="#fefcfc"/>
<rect x="57.84" y="47.28" width="15.36" height="12.72" fill="#f8b2b5"/>
<rect x="72.3" y="47.28" width="15.36" height="12.72" fill="#f25a5d"/>
<rect x="86.76" y="47.28" width="15.36" height="12.72" fill="#f15053"/>
<rect x="101.22" y="47.28" width="15.36" height="12.72" fill="#f36e71"/>
<rect x="115.68" y="47.28" width="15.36" height="12.72" fill="#f3696c"/>
<rect x="130.14" y="47.28" width="15.36" height="12.72" fill="#f47477"/>
<rect x="0" y="59.1" width="15.36" height="12.72" fill="#fceaed"/>
<rect x="14.46" y="59.1" width="15.36" height="12.72" fill="#fdf6f9"/>
<rect x="28.92" y="59.1" width="15.36" height="12.72" fill="#fdf6f9"/>
<rect x="43.38" y="59.1" width="15.36" height="12.72" fill="#f5f5fe"/>
<rect x="57.84" y="59.1" width="15.36" height="12.72" fill="#f0f0fe"/>
<rect x="72.3" y="59.1" width="15.36" height="12.72" fill="#f9bbbe"/>
<rect x="86.76" y="59.1" width="15.36" height="12.72" fill="#fceef1"/>
<rect x="101.22" y="59.1" width="15.36" height="12.72" fill="#f36e71"/>
<rect x="115.68" y="59.1" width="15.36" height="12.72" fill="#f25f62"/>
<rect x="130.14" y="59.1" width="15.36" height="12.72" fill="#f36467"/>
<rect x="0" y="70.92" width="15.36" height="12.72" fill="#fdf2f5"/>
<rect x="14.46" y="70.92" width="15.36" height="12.72" fill="#fefcfc"/>
<rect x="28.92" y="70.92" width="15.36" height="12.72" fill="#ebebfe"/>
<rect x="43.38" y="70.92" width="15.36" height="12.72" fill="#ebebfe"/>
<rect x="57.84" y="70.92" width="15.36" height="12.72" fill="#e8e8fd"/>
<rect x="72.3" y="70.92" width="15.36" height="12.72" fill="#e4e4fd"/>
<rect x="86.76" y="70.92" width="15.36" height="12.72" fill="#ebebfe"/>
<rect x="101.22" y="70.92" width="15.36" height="12.72" fill="#ebebfe"/>
<rect x="115.68" y="70.92" width="15.36" height="12.72" fill="#f0f0fe"/>
<rect x="130.14" y="70.92" width="15.36" height="12.72" fill="#f47b7e"/>
<rect x="0" y="82.74" width="15.36" height="12.72" fill="#f5f5fe"/>
<rect x="14.46" y="82.74" width="15.36" height="12.72" fill="#e4e4fd"/>
<rect x="28.92" y="82.74" width="15.36" height="12.72" fill="#dedefd"/>
<rect x="43.38" y="82.74" width="15.36" height="12.72" fill="#d7d7fd"/>
<rect x="57.84" y="82.74" width="15.36" height="12.72" fill="#d2d2fd"/>
<rect x="72.3" y="82.74" width="15.36" height="12.72" fill="#cdcdfc"/>
<rect x="86.76" y="82.74" width="15.36" height="12.72" fill="#cdcdfc"/>
<rect x="101.22" y="82.74" width="15.36" height="12.72" fill="#cdcdfc"/>
<rect x="115.68" y="82.74" width="15.36" height="12.72" fill="#cdcdfc"/>
<rect x="130.14" y="82.74" width="15.36" height="12.72" fill="#c8c8fc"/>
<rect x="0" y="94.56" width="15.36" height="12.72" fill="#e8e8fd"/>
<rect x="14.46" y="94.56" width="15.36" height="12.72" fill="#dedefd"/>
<rect x="28.92" y="94.56" width="15.36" height="12.72" fill="#d7d7fd"/>
<rect x="43.38" y="94.56" width="15.36" height="12.72" fill="#c8c8fc"/>
<rect x="57.84" y="94.56" width="15.36" height="12.72" fill="#c3c3fc"/>
<rect x="72.3" y="94.56" width="15.36" height="12.72" fill="#b9b9fb"/>
<rect x="86.76" y="94.56" width="15.36" height="12.72" fill="#b4b4fb"/>
<rect x="101.22" y="94.56" width="15.36" height="12.72" fill="#afaffb"/>
<rect x="115.68" y="94.56" width="15.36" height="12.72" fill="#b4b4fb"/>
<rect x="130.14" y="94.56" width="15.36" height="12.72" fill="#c8c8fc"/>
<rect x="0" y="106.38" width="15.36" height="12.72" fill="#d2d2fd"/>
<rect x="14.46" y="106.38" width="15.36" height="12.72" fill="#cdcdfc"/>
<rect x="28.92" y="106.38" width="15.36" height="12.72" fill="#c8c8fc"/>
<rect x="43.38" y="106.38" width="15.36" height="12.72" fill="#bebefc"/>
<rect x="57.84" y="106.38" width="15.36" height="12.72" fill="#b9b9fb"/>
<rect x="72.3" y="106.38" width="15.36" height="12.72" fill="#afaffb"/>
<rect x="86.76" y="106.38" width="15.36" height="12.72" fill="#a0a0fa"/>
<rect x="101.22" y="106.38" width="15.36" height="12.72" fill="#a0a0fa"/>
<rect x="115.68" y="106.38" width="15.36" height="12.72" fill="#a5a5fb"/>
<rect x="130.14" y="106.38" width="15.36" height="12.72" fill="#fad0d3"/>
</g>
<path d="M582.5,282.3 L584.3,292.1 L587.5,300.9 L593,307.5 L599.6,311.8 L604,314 L610.5,316.2 L616,322.8 L621.5,328.3 L628,328.3 L634.6,327.6 L643.4,327.6 L652.1,328.3 L659.4,328.3" fill="none" stroke="#3a3a3a" stroke-width="0.6" stroke-linejoin="round"/><path d="M588.6,282.3 L588.2,289.9 L589.7,297.6 L594.1,303.1 L599.6,307.5 L604,310.7 L609.4,311.8 L613.8,317.3 L617.1,323.9 L621.5,328.3" fill="none" stroke="#3a3a3a" stroke-width="0.6" stroke-linejoin="round"/><path d="M601.8,349.1 L608.3,353.4 L617.1,354.5 L625.9,355.6 L634.6,358.9 L643.4,363.3 L650,368.8 L656.5,375.3 L658.7,381.9 L655.4,387.4 L650,393 L645.6,400.5" fill="none" stroke="#3a3a3a" stroke-width="0.6" stroke-linejoin="round"/><path d="M572.64,317.76 L587.1,317.76 L587.1,341.4 L616.02,341.4 L616.02,353.22 L601.56,353.22 L601.56,365.04 L587.1,365.04 L587.1,353.22 L572.64,353.22 L572.64,341.4 L558.18,341.4 L558.18,329.58 L572.64,329.58 Z" fill="none" stroke="#8a8f2c" stroke-width="1.3" stroke-linejoin="miter"/><path d="M572.64,329.58 L587.1,329.58 L587.1,341.4 L601.56,341.4 L601.56,353.22 L587.1,353.22 L587.1,341.4 L572.64,341.4 Z" fill="none" stroke="#a8302e" stroke-width="1.2" stroke-linejoin="miter"/><path d="M566.7,326.1 L568.25,326.95 L568.98,325.52 L570.45,326.13 L571.1,324.5 L572.12,325.26 L573.18,325.71 L574.44,324.69 L575.54,324.78 L576.71,324.43 L577.7,325.4 L579.18,324.58 L579.19,327.13 L580.89,325.82 L581.85,326.18 L582.52,327.24 L583.44,327.69 L584.3,328.3 L585.77,328.26 L585.58,329.88 L585.47,331.43 L587.82,330.51 L587.53,332.24 L588.6,332.6 L589.59,333.16 L589.81,334.87 L591.24,334.77 L592.28,335.25 L592.72,336.63 L594.14,336.55 L595.2,337 L596.25,337.3 L596.11,339.08 L597.3,339.21 L598.9,338.82 L598.3,341.18 L600.03,340.63 L600.7,341.4 L601.81,341.94 L601.73,343.38 L603.45,343.47 L602.33,345.67 L604,345.8 L603.2,347 L601.85,346.81 L600.2,345.87 L599.88,348.26 L598.5,348 L597.68,348.65 L597.86,350.29 L597.23,351.13 L596.22,351.59 L593.87,350.71 L594.1,352.4 L593.15,353.23 L592.16,353.92 L590.8,353.4 L589.12,353.33 L588.54,352.4 L589.81,350.06 L588.85,349.43 L587.5,349.1 L587.26,347.56 L585.95,347.33 L584.43,347.36 L583.31,346.89 L582.16,346.46 L582.1,344.7 L581.11,345.4 L579.72,345.84 L579.48,347.04 L579.3,348.28 L579.79,349.97 L577.45,349.77 L577.7,351.3 L576.71,352 L575.27,351.34 L574.4,352.4 L574.62,351.25 L573.95,350.22 L574.69,348.99 L575.12,347.81 L573.86,346.87 L572.28,345.97 L573.3,344.7 L572.58,343.39 L570.69,343.84 L570,342.5 L570.19,341.28 L568.59,340.52 L567.84,339.53 L568.9,338.1 L567.82,336.93 L566.74,337.47 L565.66,337.12 L564.58,338.8 L563.5,338.1 L563.31,336.66 L565.39,336.3 L566.13,335.3 L565.6,333.7 L564.65,332.79 L565.74,331.4 L564.93,330.46 L564.6,329.4 L565.83,328.64 L566.01,327.21 Z" fill="none" stroke="#f055f0" stroke-width="0.9" stroke-linejoin="round"/>
</g>
<rect x="514.7" y="282.3" width="144.7" height="118.2" fill="none" stroke="#8c8c8c" stroke-width="0.9"/>
<text x="520.6" y="292.3" font-size="10.2" font-weight="bold" fill="#111">l)</text>
<linearGradient id="g15" x1="0" y1="0" x2="0" y2="1">
<stop offset="0" stop-color="#f2484b"/>
<stop offset="0.05" stop-color="#f35a5d"/>
<stop offset="0.1" stop-color="#f46c6f"/>
<stop offset="0.15" stop-color="#f57e81"/>
<stop offset="0.2" stop-color="#f79193"/>
<stop offset="0.25" stop-color="#f8a3a5"/>
<stop offset="0.3" stop-color="#f9b5b7"/>
<stop offset="0.35" stop-color="#fbc8c9"/>
<stop offset="0.4" stop-color="#fcdadb"/>
<stop offset="0.45" stop-color="#fdeced"/>
<stop offset="0.5" stop-color="#ffffff"/>
<stop offset="0.55" stop-color="#ededfe"/>
<stop offset="0.6" stop-color="#dbdbfd"/>
<stop offset="0.65" stop-color="#c9c9fc"/>
<stop offset="0.7" stop-color="#b7b7fb"/>
<stop offset="0.75" stop-color="#a5a5fb"/>
<stop offset="0.8" stop-color="#9393fa"/>
<stop offset="0.85" stop-color="#8181f9"/>
<stop offset="0.9" stop-color="#6f6ff8"/>
<stop offset="0.95" stop-color="#5d5df7"/>
<stop offset="1" stop-color="#4b4bf7"/>
</linearGradient>
<rect x="663.7" y="282.3" width="6.1" height="118.2" fill="url(#g15)" stroke="#8c8c8c" stroke-width="0.6"/>
<line x1="669.8" y1="400.5" x2="671.3" y2="400.5" stroke="#666" stroke-width="0.5"/>
<text x="672" y="402.7" font-size="6.2" fill="#222">−2.0</text>
<line x1="669.8" y1="385.73" x2="671.3" y2="385.73" stroke="#666" stroke-width="0.5"/>
<text x="672" y="387.93" font-size="6.2" fill="#222">−1.5</text>
<line x1="669.8" y1="370.95" x2="671.3" y2="370.95" stroke="#666" stroke-width="0.5"/>
<text x="672" y="373.15" font-size="6.2" fill="#222">−1.0</text>
<line x1="669.8" y1="356.18" x2="671.3" y2="356.18" stroke="#666" stroke-width="0.5"/>
<text x="672" y="358.38" font-size="6.2" fill="#222">−0.5</text>
<line x1="669.8" y1="341.4" x2="671.3" y2="341.4" stroke="#666" stroke-width="0.5"/>
<text x="672" y="343.6" font-size="6.2" fill="#222">0.0</text>
<line x1="669.8" y1="326.62" x2="671.3" y2="326.62" stroke="#666" stroke-width="0.5"/>
<text x="672" y="328.82" font-size="6.2" fill="#222">0.5</text>
<line x1="669.8" y1="311.85" x2="671.3" y2="311.85" stroke="#666" stroke-width="0.5"/>
<text x="672" y="314.05" font-size="6.2" fill="#222">1.0</text>
<line x1="669.8" y1="297.08" x2="671.3" y2="297.08" stroke="#666" stroke-width="0.5"/>
<text x="672" y="299.28" font-size="6.2" fill="#222">1.5</text>
<line x1="669.8" y1="282.3" x2="671.3" y2="282.3" stroke="#666" stroke-width="0.5"/>
<text x="672" y="284.5" font-size="6.2" fill="#222">2.0</text>
<clipPath id="c16"><rect x="11.2" y="415.3" width="138.8" height="118.1"/></clipPath>
<g clip-path="url(#c16)">
<rect x="11.2" y="415.3" width="138.8" height="118.1" fill="#fff"/>
<g transform="matrix(15,-1.95,3.3,9.9,-4.4,431.8)">
<rect x="-2" y="0" width="1.06" height="1.09" fill="#ffffff"/>
<rect x="-1" y="0" width="1.06" height="1.09" fill="#ffffff"/>
<rect x="0" y="0" width="1.06" height="1.09" fill="#ffffff"/>
<rect x="1" y="0" width="1.06" height="1.09" fill="#fdf4f7"/>
<rect x="2" y="0" width="1.06" height="1.09" fill="#d2d2fd"/>
<rect x="3" y="0" width="1.06" height="1.09" fill="#cdcdfc"/>
<rect x="4" y="0" width="1.06" height="1.09" fill="#d2d2fd"/>
<rect x="5" y="0" width="1.06" height="1.09" fill="#dcdcfd"/>
<rect x="6" y="0" width="1.06" height="1.09" fill="#e8e8fd"/>
<rect x="7" y="0" width="1.06" height="1.09" fill="#eeeefe"/>
<rect x="8" y="0" width="1.06" height="1.09" fill="#e1e1fd"/>
<rect x="9" y="0" width="1.06" height="1.09" fill="#ebebfe"/>
<rect x="10" y="0" width="1.06" height="1.09" fill="#e6e6fd"/>
<rect x="-2" y="1" width="1.06" height="1.09" fill="#fce8eb"/>
<rect x="-1" y="1" width="1.06" height="1.09" fill="#fce8eb"/>
<rect x="0" y="1" width="1.06" height="1.09" fill="#fce8eb"/>
<rect x="1" y="1" width="1.06" height="1.09" fill="#fce8eb"/>
<rect x="2" y="1" width="1.06" height="1.09" fill="#ebebfe"/>
<rect x="3" y="1" width="1.06" height="1.09" fill="#e1e1fd"/>
<rect x="4" y="1" width="1.06" height="1.09" fill="#e1e1fd"/>
<rect x="5" y="1" width="1.06" height="1.09" fill="#dedefd"/>
<rect x="6" y="1" width="1.06" height="1.09" fill="#f0f0fe"/>
<rect x="7" y="1" width="1.06" height="1.09" fill="#f2f2fe"/>
<rect x="8" y="1" width="1.06" height="1.09" fill="#e8e8fd"/>
<rect x="9" y="1" width="1.06" height="1.09" fill="#e6e6fd"/>
<rect x="10" y="1" width="1.06" height="1.09" fill="#e6e6fd"/>
<rect x="-2" y="2" width="1.06" height="1.09" fill="#ebebfe"/>
<rect x="-1" y="2" width="1.06" height="1.09" fill="#ebebfe"/>
<rect x="0" y="2" width="1.06" height="1.09" fill="#ebebfe"/>
<rect x="1" y="2" width="1.06" height="1.09" fill="#fefcfc"/>
<rect x="2" y="2" width="1.06" height="1.09" fill="#fdf4f7"/>
<rect x="3" y="2" width="1.06" height="1.09" fill="#f8f8fe"/>
<rect x="4" y="2" width="1.06" height="1.09" fill="#f0f0fe"/>
<rect x="5" y="2" width="1.06" height="1.09" fill="#fcebee"/>
<rect x="6" y="2" width="1.06" height="1.09" fill="#fefcfc"/>
<rect x="7" y="2" width="1.06" height="1.09" fill="#f0f0fe"/>
<rect x="8" y="2" width="1.06" height="1.09" fill="#e6e6fd"/>
<rect x="9" y="2" width="1.06" height="1.09" fill="#e1e1fd"/>
<rect x="10" y="2" width="1.06" height="1.09" fill="#e1e1fd"/>
<rect x="-2" y="3" width="1.06" height="1.09" fill="#e1e1fd"/>
<rect x="-1" y="3" width="1.06" height="1.09" fill="#e1e1fd"/>
<rect x="0" y="3" width="1.06" height="1.09" fill="#e1e1fd"/>
<rect x="1" y="3" width="1.06" height="1.09" fill="#fefcfc"/>
<rect x="2" y="3" width="1.06" height="1.09" fill="#fdf9fc"/>
<rect x="3" y="3" width="1.06" height="1.09" fill="#fdf2f5"/>
<rect x="4" y="3" width="1.06" height="1.09" fill="#fbd9dc"/>
<rect x="5" y="3" width="1.06" height="1.09" fill="#fdf2f5"/>
<rect x="6" y="3" width="1.06" height="1.09" fill="#fefcfc"/>
<rect x="7" y="3" width="1.06" height="1.09" fill="#f2f2fe"/>
<rect x="8" y="3" width="1.06" height="1.09" fill="#e1e1fd"/>
<rect x="9" y="3" width="1.06" height="1.09" fill="#dcdcfd"/>
<rect x="10" y="3" width="1.06" height="1.09" fill="#dcdcfd"/>
<rect x="-2" y="4" width="1.06" height="1.09" fill="#d7d7fd"/>
<rect x="-1" y="4" width="1.06" height="1.09" fill="#d7d7fd"/>
<rect x="0" y="4" width="1.06" height="1.09" fill="#d7d7fd"/>
<rect x="1" y="4" width="1.06" height="1.09" fill="#ebebfe"/>
<rect x="2" y="4" width="1.06" height="1.09" fill="#fefcfc"/>
<rect x="3" y="4" width="1.06" height="1.09" fill="#f0f0fe"/>
<rect x="4" y="4" width="1.06" height="1.09" fill="#fbd9dc"/>
<rect x="5" y="4" width="1.06" height="1.09" fill="#fce3e6"/>
<rect x="6" y="4" width="1.06" height="1.09" fill="#fefcfc"/>
<rect x="7" y="4" width="1.06" height="1.09" fill="#f8f8fe"/>
<rect x="8" y="4" width="1.06" height="1.09" fill="#dcdcfd"/>
<rect x="9" y="4" width="1.06" height="1.09" fill="#dcdcfd"/>
<rect x="10" y="4" width="1.06" height="1.09" fill="#e1e1fd"/>
<rect x="-2" y="5" width="1.06" height="1.09" fill="#dcdcfd"/>
<rect x="-1" y="5" width="1.06" height="1.09" fill="#dcdcfd"/>
<rect x="0" y="5" width="1.06" height="1.09" fill="#dcdcfd"/>
<rect x="1" y="5" width="1.06" height="1.09" fill="#fefcfc"/>
<rect x="2" y="5" width="1.06" height="1.09" fill="#fefcfc"/>
<rect x="3" y="5" width="1.06" height="1.09" fill="#fefcfc"/>
<rect x="4" y="5" width="1.06" height="1.09" fill="#fcebee"/>
<rect x="5" y="5" width="1.06" height="1.09" fill="#fceef1"/>
<rect x="6" y="5" width="1.06" height="1.09" fill="#fdf9fc"/>
<rect x="7" y="5" width="1.06" height="1.09" fill="#f8f8fe"/>
<rect x="8" y="5" width="1.06" height="1.09" fill="#e8e8fd"/>
<rect x="9" y="5" width="1.06" height="1.09" fill="#e8e8fd"/>
<rect x="10" y="5" width="1.06" height="1.09" fill="#ebebfe"/>
<rect x="-2" y="6" width="1.06" height="1.09" fill="#f8f8fe"/>
<rect x="-1" y="6" width="1.06" height="1.09" fill="#f8f8fe"/>
<rect x="0" y="6" width="1.06" height="1.09" fill="#f8f8fe"/>
<rect x="1" y="6" width="1.06" height="1.09" fill="#fdf9fc"/>
<rect x="2" y="6" width="1.06" height="1.09" fill="#fdf4f7"/>
<rect x="3" y="6" width="1.06" height="1.09" fill="#fdf4f7"/>
<rect x="4" y="6" width="1.06" height="1.09" fill="#fce5e8"/>
<rect x="5" y="6" width="1.06" height="1.09" fill="#fce5e8"/>
<rect x="6" y="6" width="1.06" height="1.09" fill="#fce8eb"/>
<rect x="7" y="6" width="1.06" height="1.09" fill="#fcebee"/>
<rect x="8" y="6" width="1.06" height="1.09" fill="#fce8eb"/>
<rect x="9" y="6" width="1.06" height="1.09" fill="#fceef1"/>
<rect x="10" y="6" width="1.06" height="1.09" fill="#fdf2f5"/>
<rect x="-2" y="7" width="1.06" height="1.09" fill="#fce8eb"/>
<rect x="-1" y="7" width="1.06" height="1.09" fill="#fce8eb"/>
<rect x="0" y="7" width="1.06" height="1.09" fill="#fce3e6"/>
<rect x="1" y="7" width="1.06" height="1.09" fill="#fce3e6"/>
<rect x="2" y="7" width="1.06" height="1.09" fill="#fce5e8"/>
<rect x="3" y="7" width="1.06" height="1.09" fill="#fbe1e4"/>
<rect x="4" y="7" width="1.06" height="1.09" fill="#fbdde0"/>
<rect x="5" y="7" width="1.06" height="1.09" fill="#fbe1e4"/>
<rect x="6" y="7" width="1.06" height="1.09" fill="#fceaed"/>
<rect x="7" y="7" width="1.06" height="1.09" fill="#fdf4f7"/>
<rect x="8" y="7" width="1.06" height="1.09" fill="#fdf4f7"/>
<rect x="9" y="7" width="1.06" height="1.09" fill="#fdf4f7"/>
<rect x="10" y="7" width="1.06" height="1.09" fill="#fdf6f9"/>
<rect x="-2" y="8" width="1.06" height="1.09" fill="#fbd5d8"/>
<rect x="-1" y="8" width="1.06" height="1.09" fill="#fbd5d8"/>
<rect x="0" y="8" width="1.06" height="1.09" fill="#fbd5d8"/>
<rect x="1" y="8" width="1.06" height="1.09" fill="#fbd9dc"/>
<rect x="2" y="8" width="1.06" height="1.09" fill="#fbd9dc"/>
<rect x="3" y="8" width="1.06" height="1.09" fill="#fbdadd"/>
<rect x="4" y="8" width="1.06" height="1.09" fill="#fbdde0"/>
<rect x="5" y="8" width="1.06" height="1.09" fill="#fceaed"/>
<rect x="6" y="8" width="1.06" height="1.09" fill="#fefcfc"/>
<rect x="7" y="8" width="1.06" height="1.09" fill="#fdf9fc"/>
<rect x="8" y="8" width="1.06" height="1.09" fill="#fefcfc"/>
<rect x="9" y="8" width="1.06" height="1.09" fill="#fefcfc"/>
<rect x="10" y="8" width="1.06" height="1.09" fill="#fefcfc"/>
<rect x="-2" y="9" width="1.06" height="1.09" fill="#fac8cb"/>
<rect x="-1" y="9" width="1.06" height="1.09" fill="#fac8cb"/>
<rect x="0" y="9" width="1.06" height="1.09" fill="#facccf"/>
<rect x="1" y="9" width="1.06" height="1.09" fill="#fbd5d8"/>
<rect x="2" y="9" width="1.06" height="1.09" fill="#fbd9dc"/>
<rect x="3" y="9" width="1.06" height="1.09" fill="#fbdde0"/>
<rect x="4" y="9" width="1.06" height="1.09" fill="#fce5e8"/>
<rect x="5" y="9" width="1.06" height="1.09" fill="#fdf2f5"/>
<rect x="6" y="9" width="1.06" height="1.09" fill="#fefcfc"/>
<rect x="7" y="9" width="1.06" height="1.09" fill="#fbd5d8"/>
<rect x="8" y="9" width="1.06" height="1.09" fill="#fdf4f7"/>
<rect x="9" y="9" width="1.06" height="1.09" fill="#fefcfc"/>
<rect x="10" y="9" width="1.06" height="1.09" fill="#fefcfc"/>
<rect x="-2" y="10" width="1.06" height="1.09" fill="#f9c4c7"/>
<rect x="-1" y="10" width="1.06" height="1.09" fill="#f9c4c7"/>
<rect x="0" y="10" width="1.06" height="1.09" fill="#fac6c9"/>
<rect x="1" y="10" width="1.06" height="1.09" fill="#fad0d3"/>
<rect x="2" y="10" width="1.06" height="1.09" fill="#fbd9dc"/>
<rect x="3" y="10" width="1.06" height="1.09" fill="#fbdde0"/>
<rect x="4" y="10" width="1.06" height="1.09" fill="#fce5e8"/>
<rect x="5" y="10" width="1.06" height="1.09" fill="#fdf2f5"/>
<rect x="6" y="10" width="1.06" height="1.09" fill="#fefcfc"/>
<rect x="7" y="10" width="1.06" height="1.09" fill="#fdf4f7"/>
<rect x="8" y="10" width="1.06" height="1.09" fill="#fefcfc"/>
<rect x="9" y="10" width="1.06" height="1.09" fill="#fefcfc"/>
<rect x="10" y="10" width="1.06" height="1.09" fill="#fefcfc"/>
<rect x="-2" y="11" width="1.06" height="1.09" fill="#f9c4c7"/>
<rect x="-1" y="11" width="1.06" height="1.09" fill="#f9c4c7"/>
<rect x="0" y="11" width="1.06" height="1.09" fill="#fac6c9"/>
<rect x="1" y="11" width="1.06" height="1.09" fill="#fad0d3"/>
<rect x="2" y="11" width="1.06" height="1.09" fill="#fbd9dc"/>
<rect x="3" y="11" width="1.06" height="1.09" fill="#fbdde0"/>
<rect x="4" y="11" width="1.06" height="1.09" fill="#fce5e8"/>
<rect x="5" y="11" width="1.06" height="1.09" fill="#fdf2f5"/>
<rect x="6" y="11" width="1.06" height="1.09" fill="#fefcfc"/>
<rect x="7" y="11" width="1.06" height="1.09" fill="#fefcfc"/>
<rect x="8" y="11" width="1.06" height="1.09" fill="#fefcfc"/>
<rect x="9" y="11" width="1.06" height="1.09" fill="#fefcfc"/>
<rect x="10" y="11" width="1.06" height="1.09" fill="#fefcfc"/>
<rect x="-2" y="12" width="1.06" height="1.09" fill="#f9c4c7"/>
<rect x="-1" y="12" width="1.06" height="1.09" fill="#f9c4c7"/>
<rect x="0" y="12" width="1.06" height="1.09" fill="#fac6c9"/>
<rect x="1" y="12" width="1.06" height="1.09" fill="#fad0d3"/>
<rect x="2" y="12" width="1.06" height="1.09" fill="#fbd9dc"/>
<rect x="3" y="12" width="1.06" height="1.09" fill="#fbdde0"/>
<rect x="4" y="12" width="1.06" height="1.09" fill="#fce5e8"/>
<rect x="5" y="12" width="1.06" height="1.09" fill="#fdf2f5"/>
<rect x="6" y="12" width="1.06" height="1.09" fill="#fefcfc"/>
<rect x="7" y="12" width="1.06" height="1.09" fill="#fefcfc"/>
<rect x="8" y="12" width="1.06" height="1.09" fill="#fefcfc"/>
<rect x="9" y="12" width="1.06" height="1.09" fill="#fefcfc"/>
<rect x="10" y="12" width="1.06" height="1.09" fill="#fefcfc"/>
</g>
<path d="M-79.4,441.55 L175.6,408.4 L160,400 L0,400 Z" fill="#fff"/><path d="M11.2,418.7 L18,416.6 L25,415.4" fill="none" stroke="#3a3a3a" stroke-width="0.6" stroke-linejoin="round"/><path d="M58.9,433.9 L88.9,430 L92.2,439.9 L107.2,437.95 L110.5,447.85 L125.5,445.9 L132.1,465.7 L117.1,467.65 L120.4,477.55 L105.4,479.5 L108.7,489.4 L78.7,493.3 L75.4,483.4 L60.4,485.35 L57.1,475.45 L42.1,477.4 L35.5,457.6 L50.5,455.65 L47.2,445.75 L62.2,443.8 Z" fill="none" stroke="#8a8f2c" stroke-width="1.3" stroke-linejoin="miter"/><path d="M66,456 L66.96,455.61 L66.88,453.85 L68.93,454.9 L69.01,453.35 L70,453 L70.53,454.57 L72.49,452.57 L73.52,452.91 L73.9,454.84 L75,455 L76.33,454.96 L77.49,454.62 L78.31,453.71 L78.54,451.84 L80,452 L80.89,452.85 L82.13,451.54 L82.87,453.27 L83.79,453.91 L85.06,452.46 L86,453 L87.36,452.77 L88.11,453.79 L88.98,454.55 L90,455 L89.59,456.45 L92.05,456.48 L90.67,458.41 L92,459 L91.28,459.71 L90.19,460.14 L90.73,461.8 L89.91,462.43 L89,463 L88.34,464.23 L90.37,464.78 L90.28,465.87 L90,467 L89.76,468.34 L87.79,467.39 L88,469.33 L86.62,469.16 L86,470 L85.22,471.3 L84.02,470.51 L83.14,471.32 L81.93,470.46 L81,471 L80.6,472.13 L78.84,471.46 L78.92,473.23 L78.58,474.44 L77,474 L75.83,474.02 L74.62,474.15 L74,472.81 L72.65,473.26 L72,472 L71.23,471.04 L70.43,470.15 L68.48,471.54 L68,470 L67.79,468.85 L68.03,467.49 L67.4,466.55 L66,466 L65.09,465.32 L63.64,465.72 L63.43,463.65 L62,464 L62.81,463.21 L63.31,462.11 L63.67,460.87 L64.65,460.25 L66,460 L66.56,459 L66.06,458 L66.17,457 Z" fill="none" stroke="#f055f0" stroke-width="0.9" stroke-linejoin="round"/><path d="M65.5,453.7 L95.5,449.8 L102.1,469.6 L72.1,473.5 Z" fill="none" stroke="#a8302e" stroke-width="1.2" stroke-linejoin="miter"/><circle cx="81.5" cy="465.8" r="1.1" fill="#d02020"/><circle cx="90" cy="458" r="1.0" fill="#bbb" stroke="#888" stroke-width="0.3"/><circle cx="75" cy="472" r="1.0" fill="#bbb" stroke="#888" stroke-width="0.3"/><circle cx="70" cy="469" r="1.0" fill="#bbb" stroke="#888" stroke-width="0.3"/><circle cx="84" cy="470" r="1.0" fill="#bbb" stroke="#888" stroke-width="0.3"/><circle cx="96" cy="474" r="1.0" fill="#bbb" stroke="#888" stroke-width="0.3"/><circle cx="62" cy="466" r="1.0" fill="#bbb" stroke="#888" stroke-width="0.3"/>
</g>
<rect x="11.2" y="415.3" width="138.8" height="118.1" fill="none" stroke="#8c8c8c" stroke-width="0.9"/>
<text x="13.2" y="425.3" font-size="10.2" font-weight="bold" fill="#111">m)</text>
<clipPath id="c17"><rect x="157.2" y="415.5" width="162.5" height="117.3"/></clipPath>
<g clip-path="url(#c17)">
<polygon points="164.6,495.85 178.03,494.38 191.45,492.91 204.88,491.44 218.31,489.97 231.74,488.5 245.16,488.5 258.59,488.5 272.02,489.97 285.45,492.91 298.87,494.38 312.3,495.85 312.3,513.49 298.87,514.37 285.45,514.96 272.02,515.55 258.59,516.43 245.16,516.43 231.74,516.43 218.31,515.55 204.88,514.96 191.45,514.37 178.03,513.49 164.6,513.49" fill="#e6edd0" fill-opacity="0.75"/>
<polygon points="164.6,492.91 178.03,489.97 191.45,487.03 204.88,484.09 218.31,482.62 231.74,481.15 245.16,481.15 258.59,480.27 272.02,482.62 285.45,487.03 298.87,489.97 312.3,491.44 312.3,500.26 298.87,499.67 285.45,498.79 272.02,497.32 258.59,494.38 245.16,494.97 231.74,495.85 218.31,497.32 204.88,498.79 191.45,499.67 178.03,499.67 164.6,500.26" fill="#d9aaa5" fill-opacity="0.4"/>
<polyline points="164.6,512.02 178.03,511.16 191.45,511.78 204.88,512.88 218.31,514.08 231.74,514.95 245.16,514.35 258.59,513.52 272.02,512.54 285.45,512.76 298.87,513.19 312.3,512.9" fill="none" stroke="#a6ad5c" stroke-width="0.5" stroke-opacity="0.6" stroke-linejoin="round"/>
<polyline points="164.6,508.34 178.03,507.91 191.45,508.88 204.88,509.75 218.31,510 231.74,509.69 245.16,508.87 258.59,508.57 272.02,508.79 285.45,509.93 298.87,510.26 312.3,509.55" fill="none" stroke="#a6ad5c" stroke-width="0.5" stroke-opacity="0.6" stroke-linejoin="round"/>
<polyline points="164.6,505.34 178.03,505.4 191.45,506.1 204.88,506.01 218.31,505.14 231.74,504.21 245.16,503.92 258.59,504.43 272.02,505.37 285.45,506.65 298.87,506.52 312.3,505.77" fill="none" stroke="#a6ad5c" stroke-width="0.5" stroke-opacity="0.6" stroke-linejoin="round"/>
<polyline points="164.6,503.08 178.03,503.01 191.45,502.7 204.88,501.49 218.31,500.05 231.74,499.26 245.16,499.77 258.59,500.62 272.02,501.51 285.45,502.57 298.87,502.34 312.3,502.33" fill="none" stroke="#a6ad5c" stroke-width="0.5" stroke-opacity="0.6" stroke-linejoin="round"/>
<polyline points="164.6,500.93 178.03,500 191.45,498.52 204.88,496.74 218.31,495.49 231.74,495.12 245.16,495.96 258.59,496.36 272.02,496.84 285.45,498.05 298.87,498.5 312.3,499.69" fill="none" stroke="#a6ad5c" stroke-width="0.5" stroke-opacity="0.6" stroke-linejoin="round"/>
<polyline points="164.6,498.17 178.03,496.22 191.45,494.12 204.88,492.53 218.31,491.74 231.74,491.31 245.16,491.71 258.59,491.3 272.02,491.73 285.45,493.87 298.87,495.47 312.3,497.57" fill="none" stroke="#a6ad5c" stroke-width="0.5" stroke-opacity="0.6" stroke-linejoin="round"/>
<polyline points="164.6,499.03 178.03,498.06 191.45,497.56 204.88,496.34 218.31,494.87 231.74,493.4 245.16,492.66 258.59,492.03 272.02,494.87 285.45,496.83 298.87,498.06 312.3,498.79" fill="none" stroke="#c86a6a" stroke-width="0.5" stroke-opacity="0.6" stroke-linejoin="round"/>
<polyline points="164.6,496.58 178.03,494.82 191.45,493.35 204.88,491.44 218.31,489.97 231.74,488.5 245.16,488.06 258.59,487.32 272.02,489.97 285.45,492.91 298.87,494.82 312.3,495.85" fill="none" stroke="#c86a6a" stroke-width="0.5" stroke-opacity="0.6" stroke-linejoin="round"/>
<polyline points="164.6,494.13 178.03,491.59 191.45,489.14 204.88,486.54 218.31,485.07 231.74,483.6 245.16,483.45 258.59,482.62 272.02,485.07 285.45,488.99 298.87,491.59 312.3,492.91" fill="none" stroke="#c86a6a" stroke-width="0.5" stroke-opacity="0.6" stroke-linejoin="round"/>
<polyline points="164.6,503.2 178.03,503.2 191.45,503.2 204.88,503.2 218.31,503.2 231.74,503.2 245.16,503.2 258.59,503.2 272.02,503.2 285.45,503.2 298.87,503.2 312.3,503.2" fill="none" stroke="#8f9a35" stroke-width="1.6" stroke-linejoin="round"/>
<polyline points="164.6,496.73 178.03,495.85 191.45,494.97 204.88,493.5 218.31,491.44 231.74,489.97 245.16,489.97 258.59,489.38 272.02,492.03 285.45,493.79 298.87,495.26 312.3,495.85" fill="none" stroke="#b3302f" stroke-width="1.4" stroke-linejoin="round"/>
<polyline points="164.6,489.97 178.03,487.03 191.45,482.03 204.88,482.03 218.31,484.09 231.74,485.56 245.16,484.09 258.59,479.68 272.02,474.39 285.45,479.09 298.87,483.21 312.3,489.97" fill="none" stroke="#3aa03a" stroke-width="0.9" stroke-dasharray="3,1.6" stroke-linejoin="round"/>
<circle cx="164.6" cy="489.97" r="0.95" fill="#2e8b2e"/>
<circle cx="178.03" cy="487.03" r="0.95" fill="#2e8b2e"/>
<circle cx="191.45" cy="482.03" r="0.95" fill="#2e8b2e"/>
<circle cx="204.88" cy="482.03" r="0.95" fill="#2e8b2e"/>
<circle cx="218.31" cy="484.09" r="0.95" fill="#2e8b2e"/>
<circle cx="231.74" cy="485.56" r="0.95" fill="#2e8b2e"/>
<circle cx="245.16" cy="484.09" r="0.95" fill="#2e8b2e"/>
<circle cx="258.59" cy="479.68" r="0.95" fill="#2e8b2e"/>
<circle cx="272.02" cy="474.39" r="0.95" fill="#2e8b2e"/>
<circle cx="285.45" cy="479.09" r="0.95" fill="#2e8b2e"/>
<circle cx="298.87" cy="483.21" r="0.95" fill="#2e8b2e"/>
<circle cx="312.3" cy="489.97" r="0.95" fill="#2e8b2e"/>
<polyline points="164.6,506.14 178.03,506.73 191.45,507.32 204.88,507.61 218.31,506.14 231.74,507.61 245.16,509.08 258.59,507.61 272.02,506.14 285.45,507.61 298.87,506.73 312.3,506.14" fill="none" stroke="#3aa03a" stroke-width="0.9" stroke-dasharray="3,1.6" stroke-linejoin="round"/>
<circle cx="164.6" cy="506.14" r="0.95" fill="#2e8b2e"/>
<circle cx="178.03" cy="506.73" r="0.95" fill="#2e8b2e"/>
<circle cx="191.45" cy="507.32" r="0.95" fill="#2e8b2e"/>
<circle cx="204.88" cy="507.61" r="0.95" fill="#2e8b2e"/>
<circle cx="218.31" cy="506.14" r="0.95" fill="#2e8b2e"/>
<circle cx="231.74" cy="507.61" r="0.95" fill="#2e8b2e"/>
<circle cx="245.16" cy="509.08" r="0.95" fill="#2e8b2e"/>
<circle cx="258.59" cy="507.61" r="0.95" fill="#2e8b2e"/>
<circle cx="272.02" cy="506.14" r="0.95" fill="#2e8b2e"/>
<circle cx="285.45" cy="507.61" r="0.95" fill="#2e8b2e"/>
<circle cx="298.87" cy="506.73" r="0.95" fill="#2e8b2e"/>
<circle cx="312.3" cy="506.14" r="0.95" fill="#2e8b2e"/>
<polyline points="164.6,511.14 178.03,510.55 191.45,509.96 204.88,509.67 218.31,510.55 231.74,510.55 245.16,512.02 258.59,512.02 272.02,512.02 285.45,509.67 298.87,509.08 312.3,507.61" fill="none" stroke="#3aa03a" stroke-width="0.9" stroke-dasharray="3,1.6" stroke-linejoin="round"/>
<circle cx="164.6" cy="511.14" r="0.95" fill="#2e8b2e"/>
<circle cx="178.03" cy="510.55" r="0.95" fill="#2e8b2e"/>
<circle cx="191.45" cy="509.96" r="0.95" fill="#2e8b2e"/>
<circle cx="204.88" cy="509.67" r="0.95" fill="#2e8b2e"/>
<circle cx="218.31" cy="510.55" r="0.95" fill="#2e8b2e"/>
<circle cx="231.74" cy="510.55" r="0.95" fill="#2e8b2e"/>
<circle cx="245.16" cy="512.02" r="0.95" fill="#2e8b2e"/>
<circle cx="258.59" cy="512.02" r="0.95" fill="#2e8b2e"/>
<circle cx="272.02" cy="512.02" r="0.95" fill="#2e8b2e"/>
<circle cx="285.45" cy="509.67" r="0.95" fill="#2e8b2e"/>
<circle cx="298.87" cy="509.08" r="0.95" fill="#2e8b2e"/>
<circle cx="312.3" cy="507.61" r="0.95" fill="#2e8b2e"/>
<polyline points="164.6,511.14 178.03,512.02 191.45,514.08 204.88,514.37 218.31,512.61 231.74,513.49 245.16,514.96 258.59,514.96 272.02,516.43 285.45,512.02 298.87,510.55 312.3,509.08" fill="none" stroke="#3aa03a" stroke-width="0.9" stroke-dasharray="3,1.6" stroke-linejoin="round"/>
<circle cx="164.6" cy="511.14" r="0.95" fill="#2e8b2e"/>
<circle cx="178.03" cy="512.02" r="0.95" fill="#2e8b2e"/>
<circle cx="191.45" cy="514.08" r="0.95" fill="#2e8b2e"/>
<circle cx="204.88" cy="514.37" r="0.95" fill="#2e8b2e"/>
<circle cx="218.31" cy="512.61" r="0.95" fill="#2e8b2e"/>
<circle cx="231.74" cy="513.49" r="0.95" fill="#2e8b2e"/>
<circle cx="245.16" cy="514.96" r="0.95" fill="#2e8b2e"/>
<circle cx="258.59" cy="514.96" r="0.95" fill="#2e8b2e"/>
<circle cx="272.02" cy="516.43" r="0.95" fill="#2e8b2e"/>
<circle cx="285.45" cy="512.02" r="0.95" fill="#2e8b2e"/>
<circle cx="298.87" cy="510.55" r="0.95" fill="#2e8b2e"/>
<circle cx="312.3" cy="509.08" r="0.95" fill="#2e8b2e"/>
<polyline points="164.6,503.79 178.03,503.79 191.45,503.79 204.88,503.79 218.31,503.79 231.74,503.79 245.16,503.79 258.59,503.79 272.02,503.79 285.45,503.79 298.87,503.79 312.3,503.79" fill="none" stroke="#2ea02e" stroke-width="1.5" stroke-linejoin="round"/>
<polyline points="164.6,496.44 178.03,492.91 191.45,488.5 204.88,486.15 218.31,488.5 231.74,487.91 245.16,487.03 258.59,482.62 272.02,481.15 285.45,489.97 298.87,494.38 312.3,495.85" fill="none" stroke="#111" stroke-width="0.9" stroke-dasharray="3,1.6" stroke-linejoin="round"/>
<circle cx="164.6" cy="496.44" r="0.95" fill="#111"/>
<circle cx="178.03" cy="492.91" r="0.95" fill="#111"/>
<circle cx="191.45" cy="488.5" r="0.95" fill="#111"/>
<circle cx="204.88" cy="486.15" r="0.95" fill="#111"/>
<circle cx="218.31" cy="488.5" r="0.95" fill="#111"/>
<circle cx="231.74" cy="487.91" r="0.95" fill="#111"/>
<circle cx="245.16" cy="487.03" r="0.95" fill="#111"/>
<circle cx="258.59" cy="482.62" r="0.95" fill="#111"/>
<circle cx="272.02" cy="481.15" r="0.95" fill="#111"/>
<circle cx="285.45" cy="489.97" r="0.95" fill="#111"/>
<circle cx="298.87" cy="494.38" r="0.95" fill="#111"/>
<circle cx="312.3" cy="495.85" r="0.95" fill="#111"/>
<polyline points="164.6,499.67 178.03,494.38 191.45,490.26 204.88,488.5 218.31,489.09 231.74,487.91 245.16,487.03 258.59,482.03 272.02,485.56 285.45,492.91 298.87,495.85 312.3,499.67" fill="none" stroke="#111" stroke-width="0.9" stroke-dasharray="3,1.6" stroke-linejoin="round"/>
<circle cx="164.6" cy="499.67" r="0.95" fill="#111"/>
<circle cx="178.03" cy="494.38" r="0.95" fill="#111"/>
<circle cx="191.45" cy="490.26" r="0.95" fill="#111"/>
<circle cx="204.88" cy="488.5" r="0.95" fill="#111"/>
<circle cx="218.31" cy="489.09" r="0.95" fill="#111"/>
<circle cx="231.74" cy="487.91" r="0.95" fill="#111"/>
<circle cx="245.16" cy="487.03" r="0.95" fill="#111"/>
<circle cx="258.59" cy="482.03" r="0.95" fill="#111"/>
<circle cx="272.02" cy="485.56" r="0.95" fill="#111"/>
<circle cx="285.45" cy="492.91" r="0.95" fill="#111"/>
<circle cx="298.87" cy="495.85" r="0.95" fill="#111"/>
<circle cx="312.3" cy="499.67" r="0.95" fill="#111"/>
<polyline points="164.6,501.73 178.03,502.61 191.45,500.55 204.88,501.73 218.31,503.79 231.74,500.85 245.16,500.26 258.59,498.79 272.02,498.79 285.45,501.73 298.87,503.2 312.3,502.32" fill="none" stroke="#111" stroke-width="0.9" stroke-dasharray="3,1.6" stroke-linejoin="round"/>
<circle cx="164.6" cy="501.73" r="0.95" fill="#111"/>
<circle cx="178.03" cy="502.61" r="0.95" fill="#111"/>
<circle cx="191.45" cy="500.55" r="0.95" fill="#111"/>
<circle cx="204.88" cy="501.73" r="0.95" fill="#111"/>
<circle cx="218.31" cy="503.79" r="0.95" fill="#111"/>
<circle cx="231.74" cy="500.85" r="0.95" fill="#111"/>
<circle cx="245.16" cy="500.26" r="0.95" fill="#111"/>
<circle cx="258.59" cy="498.79" r="0.95" fill="#111"/>
<circle cx="272.02" cy="498.79" r="0.95" fill="#111"/>
<circle cx="285.45" cy="501.73" r="0.95" fill="#111"/>
<circle cx="298.87" cy="503.2" r="0.95" fill="#111"/>
<circle cx="312.3" cy="502.32" r="0.95" fill="#111"/>
<polyline points="164.6,462.63 178.03,454.69 191.45,445.28 204.88,445.28 218.31,451.16 231.74,449.1 245.16,447.93 258.59,443.81 272.02,445.28 285.45,456.16 298.87,457.63 312.3,462.04" fill="none" stroke="#111" stroke-width="0.9" stroke-dasharray="3,1.6" stroke-linejoin="round"/>
<circle cx="164.6" cy="462.63" r="1.05" fill="#111"/>
<circle cx="178.03" cy="454.69" r="1.05" fill="#111"/>
<circle cx="191.45" cy="445.28" r="1.05" fill="#111"/>
<circle cx="204.88" cy="445.28" r="1.05" fill="#111"/>
<circle cx="218.31" cy="451.16" r="1.05" fill="#111"/>
<circle cx="231.74" cy="449.1" r="1.05" fill="#111"/>
<circle cx="245.16" cy="447.93" r="1.05" fill="#111"/>
<circle cx="258.59" cy="443.81" r="1.05" fill="#111"/>
<circle cx="272.02" cy="445.28" r="1.05" fill="#111"/>
<circle cx="285.45" cy="456.16" r="1.05" fill="#111"/>
<circle cx="298.87" cy="457.63" r="1.05" fill="#111"/>
<circle cx="312.3" cy="462.04" r="1.05" fill="#111"/>
<polyline points="164.6,490.85 178.03,486.15 191.45,481.15 204.88,479.68 218.31,482.03 231.74,479.68 245.16,479.09 258.59,476.74 272.02,477.62 285.45,485.56 298.87,488.5 312.3,491.44" fill="none" stroke="#111" stroke-width="1.6" stroke-linejoin="round"/>
<rect x="184.5" y="419.8" width="128.3" height="16.3" rx="1.5" fill="#fff" fill-opacity="0.85" stroke="#e2e2e2" stroke-width="0.6"/>
<line x1="186.5" y1="424.3" x2="198.8" y2="424.3" stroke="#b3302f" stroke-width="1.5"/>
<line x1="186.5" y1="432.0" x2="198.8" y2="432.0" stroke="#8f9a35" stroke-width="1.5"/>
<line x1="245.8" y1="424.3" x2="258.1" y2="424.3" stroke="#111" stroke-width="1.5"/>
<line x1="245.8" y1="432.0" x2="258.1" y2="432.0" stroke="#2ea02e" stroke-width="1.5"/>
<text x="201.9" y="426.5" font-size="6" fill="#222">Urban mean</text>
<text x="201.9" y="434.2" font-size="6" fill="#222">Vicinity mean</text>
<text x="261.3" y="426.5" font-size="6" fill="#222">Urban obs. mean</text>
<text x="261.3" y="434.2" font-size="6" fill="#222">Vicinity obs. mean</text>
</g>
<rect x="157.2" y="415.5" width="162.5" height="117.3" fill="none" stroke="#8c8c8c" stroke-width="0.9"/>
<line x1="164.6" y1="532.8" x2="164.6" y2="534.4" stroke="#666" stroke-width="0.6"/>
<text x="164.6" y="540.8" font-size="5.9" text-anchor="middle" fill="#222">Jan</text>
<line x1="178.03" y1="532.8" x2="178.03" y2="534.4" stroke="#666" stroke-width="0.6"/>
<text x="178.03" y="540.8" font-size="5.9" text-anchor="middle" fill="#222">Feb</text>
<line x1="191.45" y1="532.8" x2="191.45" y2="534.4" stroke="#666" stroke-width="0.6"/>
<text x="191.45" y="540.8" font-size="5.9" text-anchor="middle" fill="#222">Mar</text>
<line x1="204.88" y1="532.8" x2="204.88" y2="534.4" stroke="#666" stroke-width="0.6"/>
<text x="204.88" y="540.8" font-size="5.9" text-anchor="middle" fill="#222">Apr</text>
<line x1="218.31" y1="532.8" x2="218.31" y2="534.4" stroke="#666" stroke-width="0.6"/>
<text x="218.31" y="540.8" font-size="5.9" text-anchor="middle" fill="#222">May</text>
<line x1="231.74" y1="532.8" x2="231.74" y2="534.4" stroke="#666" stroke-width="0.6"/>
<text x="231.74" y="540.8" font-size="5.9" text-anchor="middle" fill="#222">Jun</text>
<line x1="245.16" y1="532.8" x2="245.16" y2="534.4" stroke="#666" stroke-width="0.6"/>
<text x="245.16" y="540.8" font-size="5.9" text-anchor="middle" fill="#222">Jul</text>
<line x1="258.59" y1="532.8" x2="258.59" y2="534.4" stroke="#666" stroke-width="0.6"/>
<text x="258.59" y="540.8" font-size="5.9" text-anchor="middle" fill="#222">Aug</text>
<line x1="272.02" y1="532.8" x2="272.02" y2="534.4" stroke="#666" stroke-width="0.6"/>
<text x="272.02" y="540.8" font-size="5.9" text-anchor="middle" fill="#222">Sep</text>
<line x1="285.45" y1="532.8" x2="285.45" y2="534.4" stroke="#666" stroke-width="0.6"/>
<text x="285.45" y="540.8" font-size="5.9" text-anchor="middle" fill="#222">Oct</text>
<line x1="298.87" y1="532.8" x2="298.87" y2="534.4" stroke="#666" stroke-width="0.6"/>
<text x="298.87" y="540.8" font-size="5.9" text-anchor="middle" fill="#222">Nov</text>
<line x1="312.3" y1="532.8" x2="312.3" y2="534.4" stroke="#666" stroke-width="0.6"/>
<text x="312.3" y="540.8" font-size="5.9" text-anchor="middle" fill="#222">Dec</text>
<line x1="319.7" y1="532.6" x2="321.3" y2="532.6" stroke="#666" stroke-width="0.6"/>
<line x1="319.7" y1="517.9" x2="321.3" y2="517.9" stroke="#666" stroke-width="0.6"/>
<line x1="319.7" y1="503.2" x2="321.3" y2="503.2" stroke="#666" stroke-width="0.6"/>
<line x1="319.7" y1="488.5" x2="321.3" y2="488.5" stroke="#666" stroke-width="0.6"/>
<line x1="319.7" y1="473.8" x2="321.3" y2="473.8" stroke="#666" stroke-width="0.6"/>
<line x1="319.7" y1="459.1" x2="321.3" y2="459.1" stroke="#666" stroke-width="0.6"/>
<line x1="319.7" y1="444.4" x2="321.3" y2="444.4" stroke="#666" stroke-width="0.6"/>
<line x1="319.7" y1="429.7" x2="321.3" y2="429.7" stroke="#666" stroke-width="0.6"/>
<line x1="319.7" y1="415" x2="321.3" y2="415" stroke="#666" stroke-width="0.6"/>
<text x="322.7" y="534.8" font-size="6.1" text-anchor="start" fill="#222">−1.0</text>
<text x="322.7" y="520.1" font-size="6.1" text-anchor="start" fill="#222">−0.5</text>
<text x="322.7" y="505.4" font-size="6.1" text-anchor="start" fill="#222">0.0</text>
<text x="322.7" y="490.7" font-size="6.1" text-anchor="start" fill="#222">0.5</text>
<text x="322.7" y="476" font-size="6.1" text-anchor="start" fill="#222">1.0</text>
<text x="322.7" y="461.3" font-size="6.1" text-anchor="start" fill="#222">1.5</text>
<text x="322.7" y="446.6" font-size="6.1" text-anchor="start" fill="#222">2.0</text>
<text x="322.7" y="431.9" font-size="6.1" text-anchor="start" fill="#222">2.5</text>
<text x="322.7" y="417.2" font-size="6.1" text-anchor="start" fill="#222">3.0</text>
<text x="160" y="425.5" font-size="10.2" font-weight="bold" fill="#111">n)</text>
<text transform="translate(343,473.2) rotate(-90)" font-size="6.45" text-anchor="middle" fill="#222">Minimum temperature anomaly (°C)</text>
<linearGradient id="g18" x1="0" y1="0" x2="0" y2="1">
<stop offset="0" stop-color="#f2484b"/>
<stop offset="0.05" stop-color="#f35a5d"/>
<stop offset="0.1" stop-color="#f46c6f"/>
<stop offset="0.15" stop-color="#f57e81"/>
<stop offset="0.2" stop-color="#f79193"/>
<stop offset="0.25" stop-color="#f8a3a5"/>
<stop offset="0.3" stop-color="#f9b5b7"/>
<stop offset="0.35" stop-color="#fbc8c9"/>
<stop offset="0.4" stop-color="#fcdadb"/>
<stop offset="0.45" stop-color="#fdeced"/>
<stop offset="0.5" stop-color="#ffffff"/>
<stop offset="0.55" stop-color="#ededfe"/>
<stop offset="0.6" stop-color="#dbdbfd"/>
<stop offset="0.65" stop-color="#c9c9fc"/>
<stop offset="0.7" stop-color="#b7b7fb"/>
<stop offset="0.75" stop-color="#a5a5fb"/>
<stop offset="0.8" stop-color="#9393fa"/>
<stop offset="0.85" stop-color="#8181f9"/>
<stop offset="0.9" stop-color="#6f6ff8"/>
<stop offset="0.95" stop-color="#5d5df7"/>
<stop offset="1" stop-color="#4b4bf7"/>
</linearGradient>
<rect x="663.6" y="415" width="6.3" height="118.4" fill="url(#g18)" stroke="#8c8c8c" stroke-width="0.6"/>
<line x1="669.9" y1="518.6" x2="671.4" y2="518.6" stroke="#666" stroke-width="0.5"/>
<text x="672.1" y="520.8" font-size="6.2" fill="#222">−1.5</text>
<line x1="669.9" y1="503.8" x2="671.4" y2="503.8" stroke="#666" stroke-width="0.5"/>
<text x="672.1" y="506" font-size="6.2" fill="#222">−1.0</text>
<line x1="669.9" y1="489" x2="671.4" y2="489" stroke="#666" stroke-width="0.5"/>
<text x="672.1" y="491.2" font-size="6.2" fill="#222">−0.5</text>
<line x1="669.9" y1="474.2" x2="671.4" y2="474.2" stroke="#666" stroke-width="0.5"/>
<text x="672.1" y="476.4" font-size="6.2" fill="#222">0.0</text>
<line x1="669.9" y1="459.4" x2="671.4" y2="459.4" stroke="#666" stroke-width="0.5"/>
<text x="672.1" y="461.6" font-size="6.2" fill="#222">0.5</text>
<line x1="669.9" y1="444.6" x2="671.4" y2="444.6" stroke="#666" stroke-width="0.5"/>
<text x="672.1" y="446.8" font-size="6.2" fill="#222">1.0</text>
<line x1="669.9" y1="429.8" x2="671.4" y2="429.8" stroke="#666" stroke-width="0.5"/>
<text x="672.1" y="432" font-size="6.2" fill="#222">1.5</text>
<line x1="669.9" y1="415" x2="671.4" y2="415" stroke="#666" stroke-width="0.5"/>
<text x="672.1" y="417.2" font-size="6.2" fill="#222">2.0</text>
<clipPath id="c19"><rect x="11.2" y="547.5" width="138.7" height="118.4"/></clipPath>
<g clip-path="url(#c19)">
<rect x="11.2" y="547.5" width="138.7" height="118.4" fill="#fff"/>
<g transform="matrix(7.5,-0.97,1.65,4.95,7.1,564.35)">
<rect x="-3" y="-1" width="1.12" height="1.17" fill="#d2d2fd"/>
<rect x="-2" y="-1" width="1.12" height="1.17" fill="#ccccfc"/>
<rect x="-1" y="-1" width="1.12" height="1.17" fill="#d6d6fd"/>
<rect x="0" y="-1" width="1.12" height="1.17" fill="#c7c7fc"/>
<rect x="1" y="-1" width="1.12" height="1.17" fill="#c9c9fc"/>
<rect x="2" y="-1" width="1.12" height="1.17" fill="#d5d5fd"/>
<rect x="3" y="-1" width="1.12" height="1.17" fill="#c5c5fc"/>
<rect x="4" y="-1" width="1.12" height="1.17" fill="#d2d2fd"/>
<rect x="5" y="-1" width="1.12" height="1.17" fill="#bcbcfc"/>
<rect x="6" y="-1" width="1.12" height="1.17" fill="#c7c7fc"/>
<rect x="7" y="-1" width="1.12" height="1.17" fill="#c6c6fc"/>
<rect x="8" y="-1" width="1.12" height="1.17" fill="#d5d5fd"/>
<rect x="9" y="-1" width="1.12" height="1.17" fill="#d5d5fd"/>
<rect x="10" y="-1" width="1.12" height="1.17" fill="#cecefc"/>
<rect x="11" y="-1" width="1.12" height="1.17" fill="#d4d4fd"/>
<rect x="12" y="-1" width="1.12" height="1.17" fill="#c6c6fc"/>
<rect x="13" y="-1" width="1.12" height="1.17" fill="#d0d0fc"/>
<rect x="14" y="-1" width="1.12" height="1.17" fill="#c0c0fc"/>
<rect x="15" y="-1" width="1.12" height="1.17" fill="#c0c0fc"/>
<rect x="16" y="-1" width="1.12" height="1.17" fill="#ccccfc"/>
<rect x="17" y="-1" width="1.12" height="1.17" fill="#c3c3fc"/>
<rect x="18" y="-1" width="1.12" height="1.17" fill="#c5c5fc"/>
<rect x="19" y="-1" width="1.12" height="1.17" fill="#bebefc"/>
<rect x="-3" y="0" width="1.12" height="1.17" fill="#d3d3fd"/>
<rect x="-2" y="0" width="1.12" height="1.17" fill="#c9c9fc"/>
<rect x="-1" y="0" width="1.12" height="1.17" fill="#dbdbfd"/>
<rect x="0" y="0" width="1.12" height="1.17" fill="#cdcdfc"/>
<rect x="1" y="0" width="1.12" height="1.17" fill="#d2d2fd"/>
<rect x="2" y="0" width="1.12" height="1.17" fill="#d8d8fd"/>
<rect x="3" y="0" width="1.12" height="1.17" fill="#c9c9fc"/>
<rect x="4" y="0" width="1.12" height="1.17" fill="#dbdbfd"/>
<rect x="5" y="0" width="1.12" height="1.17" fill="#bbbbfb"/>
<rect x="6" y="0" width="1.12" height="1.17" fill="#d2d2fd"/>
<rect x="7" y="0" width="1.12" height="1.17" fill="#d4d4fd"/>
<rect x="8" y="0" width="1.12" height="1.17" fill="#c9c9fc"/>
<rect x="9" y="0" width="1.12" height="1.17" fill="#d5d5fd"/>
<rect x="10" y="0" width="1.12" height="1.17" fill="#d9d9fd"/>
<rect x="11" y="0" width="1.12" height="1.17" fill="#d6d6fd"/>
<rect x="12" y="0" width="1.12" height="1.17" fill="#dbdbfd"/>
<rect x="13" y="0" width="1.12" height="1.17" fill="#d1d1fc"/>
<rect x="14" y="0" width="1.12" height="1.17" fill="#bbbbfb"/>
<rect x="15" y="0" width="1.12" height="1.17" fill="#bebefc"/>
<rect x="16" y="0" width="1.12" height="1.17" fill="#d2d2fd"/>
<rect x="17" y="0" width="1.12" height="1.17" fill="#c4c4fc"/>
<rect x="18" y="0" width="1.12" height="1.17" fill="#c0c0fc"/>
<rect x="19" y="0" width="1.12" height="1.17" fill="#d1d1fc"/>
<rect x="-3" y="1" width="1.12" height="1.17" fill="#ccccfc"/>
<rect x="-2" y="1" width="1.12" height="1.17" fill="#d2d2fd"/>
<rect x="-1" y="1" width="1.12" height="1.17" fill="#dcdcfd"/>
<rect x="0" y="1" width="1.12" height="1.17" fill="#ddddfd"/>
<rect x="1" y="1" width="1.12" height="1.17" fill="#d9d9fd"/>
<rect x="2" y="1" width="1.12" height="1.17" fill="#d9d9fd"/>
<rect x="3" y="1" width="1.12" height="1.17" fill="#dcdcfd"/>
<rect x="4" y="1" width="1.12" height="1.17" fill="#d0d0fc"/>
<rect x="5" y="1" width="1.12" height="1.17" fill="#c7c7fc"/>
<rect x="6" y="1" width="1.12" height="1.17" fill="#c5c5fc"/>
<rect x="7" y="1" width="1.12" height="1.17" fill="#cdcdfc"/>
<rect x="8" y="1" width="1.12" height="1.17" fill="#cbcbfc"/>
<rect x="9" y="1" width="1.12" height="1.17" fill="#d5d5fd"/>
<rect x="10" y="1" width="1.12" height="1.17" fill="#d2d2fd"/>
<rect x="11" y="1" width="1.12" height="1.17" fill="#bcbcfc"/>
<rect x="12" y="1" width="1.12" height="1.17" fill="#d3d3fd"/>
<rect x="13" y="1" width="1.12" height="1.17" fill="#d1d1fc"/>
<rect x="14" y="1" width="1.12" height="1.17" fill="#cbcbfc"/>
<rect x="15" y="1" width="1.12" height="1.17" fill="#ccccfc"/>
<rect x="16" y="1" width="1.12" height="1.17" fill="#d0d0fc"/>
<rect x="17" y="1" width="1.12" height="1.17" fill="#c0c0fc"/>
<rect x="18" y="1" width="1.12" height="1.17" fill="#d5d5fd"/>
<rect x="19" y="1" width="1.12" height="1.17" fill="#cecefc"/>
<rect x="-3" y="2" width="1.12" height="1.17" fill="#dcdcfd"/>
<rect x="-2" y="2" width="1.12" height="1.17" fill="#ddddfd"/>
<rect x="-1" y="2" width="1.12" height="1.17" fill="#dadafd"/>
<rect x="0" y="2" width="1.12" height="1.17" fill="#dcdcfd"/>
<rect x="1" y="2" width="1.12" height="1.17" fill="#dedefd"/>
<rect x="2" y="2" width="1.12" height="1.17" fill="#d6d6fd"/>
<rect x="3" y="2" width="1.12" height="1.17" fill="#d4d4fd"/>
<rect x="4" y="2" width="1.12" height="1.17" fill="#d2d2fd"/>
<rect x="5" y="2" width="1.12" height="1.17" fill="#d7d7fd"/>
<rect x="6" y="2" width="1.12" height="1.17" fill="#cdcdfc"/>
<rect x="7" y="2" width="1.12" height="1.17" fill="#b9b9fb"/>
<rect x="8" y="2" width="1.12" height="1.17" fill="#d3d3fd"/>
<rect x="9" y="2" width="1.12" height="1.17" fill="#c0c0fc"/>
<rect x="10" y="2" width="1.12" height="1.17" fill="#e2e2fd"/>
<rect x="11" y="2" width="1.12" height="1.17" fill="#dadafd"/>
<rect x="12" y="2" width="1.12" height="1.17" fill="#e2e2fd"/>
<rect x="13" y="2" width="1.12" height="1.17" fill="#ddddfd"/>
<rect x="14" y="2" width="1.12" height="1.17" fill="#d1d1fc"/>
<rect x="15" y="2" width="1.12" height="1.17" fill="#d6d6fd"/>
<rect x="16" y="2" width="1.12" height="1.17" fill="#c9c9fc"/>
<rect x="17" y="2" width="1.12" height="1.17" fill="#dbdbfd"/>
<rect x="18" y="2" width="1.12" height="1.17" fill="#d6d6fd"/>
<rect x="19" y="2" width="1.12" height="1.17" fill="#dadafd"/>
<rect x="-3" y="3" width="1.12" height="1.17" fill="#fdf3f6"/>
<rect x="-2" y="3" width="1.12" height="1.17" fill="#fdf8fb"/>
<rect x="-1" y="3" width="1.12" height="1.17" fill="#fdf6f9"/>
<rect x="0" y="3" width="1.12" height="1.17" fill="#fdf4f7"/>
<rect x="1" y="3" width="1.12" height="1.17" fill="#fdf7fa"/>
<rect x="2" y="3" width="1.12" height="1.17" fill="#d3d3fd"/>
<rect x="3" y="3" width="1.12" height="1.17" fill="#dadafd"/>
<rect x="4" y="3" width="1.12" height="1.17" fill="#d8d8fd"/>
<rect x="5" y="3" width="1.12" height="1.17" fill="#d4d4fd"/>
<rect x="6" y="3" width="1.12" height="1.17" fill="#cdcdfc"/>
<rect x="7" y="3" width="1.12" height="1.17" fill="#cfcffc"/>
<rect x="8" y="3" width="1.12" height="1.17" fill="#d8d8fd"/>
<rect x="9" y="3" width="1.12" height="1.17" fill="#d0d0fc"/>
<rect x="10" y="3" width="1.12" height="1.17" fill="#e1e1fd"/>
<rect x="11" y="3" width="1.12" height="1.17" fill="#dbdbfd"/>
<rect x="12" y="3" width="1.12" height="1.17" fill="#d9d9fd"/>
<rect x="13" y="3" width="1.12" height="1.17" fill="#e5e5fd"/>
<rect x="14" y="3" width="1.12" height="1.17" fill="#d7d7fd"/>
<rect x="15" y="3" width="1.12" height="1.17" fill="#dcdcfd"/>
<rect x="16" y="3" width="1.12" height="1.17" fill="#d3d3fd"/>
<rect x="17" y="3" width="1.12" height="1.17" fill="#d1d1fc"/>
<rect x="18" y="3" width="1.12" height="1.17" fill="#c2c2fc"/>
<rect x="19" y="3" width="1.12" height="1.17" fill="#cbcbfc"/>
<rect x="-3" y="4" width="1.12" height="1.17" fill="#fdf4f7"/>
<rect x="-2" y="4" width="1.12" height="1.17" fill="#fcf0f3"/>
<rect x="-1" y="4" width="1.12" height="1.17" fill="#fdf6f9"/>
<rect x="0" y="4" width="1.12" height="1.17" fill="#fdf9fc"/>
<rect x="1" y="4" width="1.12" height="1.17" fill="#fdf4f7"/>
<rect x="2" y="4" width="1.12" height="1.17" fill="#e1e1fd"/>
<rect x="3" y="4" width="1.12" height="1.17" fill="#dbdbfd"/>
<rect x="4" y="4" width="1.12" height="1.17" fill="#e9e9fe"/>
<rect x="5" y="4" width="1.12" height="1.17" fill="#dbdbfd"/>
<rect x="6" y="4" width="1.12" height="1.17" fill="#e9e9fe"/>
<rect x="7" y="4" width="1.12" height="1.17" fill="#e9e9fe"/>
<rect x="8" y="4" width="1.12" height="1.17" fill="#d7d7fd"/>
<rect x="9" y="4" width="1.12" height="1.17" fill="#d9d9fd"/>
<rect x="10" y="4" width="1.12" height="1.17" fill="#e9e9fe"/>
<rect x="11" y="4" width="1.12" height="1.17" fill="#dfdffd"/>
<rect x="12" y="4" width="1.12" height="1.17" fill="#e8e8fd"/>
<rect x="13" y="4" width="1.12" height="1.17" fill="#dcdcfd"/>
<rect x="14" y="4" width="1.12" height="1.17" fill="#d1d1fc"/>
<rect x="15" y="4" width="1.12" height="1.17" fill="#d0d0fc"/>
<rect x="16" y="4" width="1.12" height="1.17" fill="#dadafd"/>
<rect x="17" y="4" width="1.12" height="1.17" fill="#dadafd"/>
<rect x="18" y="4" width="1.12" height="1.17" fill="#d5d5fd"/>
<rect x="19" y="4" width="1.12" height="1.17" fill="#e2e2fd"/>
<rect x="-3" y="5" width="1.12" height="1.17" fill="#fdf3f6"/>
<rect x="-2" y="5" width="1.12" height="1.17" fill="#fdf8fb"/>
<rect x="-1" y="5" width="1.12" height="1.17" fill="#fdf7fa"/>
<rect x="0" y="5" width="1.12" height="1.17" fill="#fcf0f3"/>
<rect x="1" y="5" width="1.12" height="1.17" fill="#fdf8fb"/>
<rect x="2" y="5" width="1.12" height="1.17" fill="#ebebfe"/>
<rect x="3" y="5" width="1.12" height="1.17" fill="#e7e7fd"/>
<rect x="4" y="5" width="1.12" height="1.17" fill="#e9e9fe"/>
<rect x="5" y="5" width="1.12" height="1.17" fill="#e7e7fd"/>
<rect x="6" y="5" width="1.12" height="1.17" fill="#e3e3fd"/>
<rect x="7" y="5" width="1.12" height="1.17" fill="#e3e3fd"/>
<rect x="8" y="5" width="1.12" height="1.17" fill="#dadafd"/>
<rect x="9" y="5" width="1.12" height="1.17" fill="#dadafd"/>
<rect x="10" y="5" width="1.12" height="1.17" fill="#e0e0fd"/>
<rect x="11" y="5" width="1.12" height="1.17" fill="#e0e0fd"/>
<rect x="12" y="5" width="1.12" height="1.17" fill="#e8e8fd"/>
<rect x="13" y="5" width="1.12" height="1.17" fill="#e9e9fe"/>
<rect x="14" y="5" width="1.12" height="1.17" fill="#cacafc"/>
<rect x="15" y="5" width="1.12" height="1.17" fill="#dfdffd"/>
<rect x="16" y="5" width="1.12" height="1.17" fill="#dadafd"/>
<rect x="17" y="5" width="1.12" height="1.17" fill="#ededfe"/>
<rect x="18" y="5" width="1.12" height="1.17" fill="#e0e0fd"/>
<rect x="19" y="5" width="1.12" height="1.17" fill="#e5e5fd"/>
<rect x="-3" y="6" width="1.12" height="1.17" fill="#fdf4f7"/>
<rect x="-2" y="6" width="1.12" height="1.17" fill="#fdf9fc"/>
<rect x="-1" y="6" width="1.12" height="1.17" fill="#fdf6f9"/>
<rect x="0" y="6" width="1.12" height="1.17" fill="#fdf1f4"/>
<rect x="1" y="6" width="1.12" height="1.17" fill="#fdf2f5"/>
<rect x="2" y="6" width="1.12" height="1.17" fill="#ddddfd"/>
<rect x="3" y="6" width="1.12" height="1.17" fill="#e6e6fd"/>
<rect x="4" y="6" width="1.12" height="1.17" fill="#dedefd"/>
<rect x="5" y="6" width="1.12" height="1.17" fill="#dfdffd"/>
<rect x="6" y="6" width="1.12" height="1.17" fill="#f0f0fe"/>
<rect x="7" y="6" width="1.12" height="1.17" fill="#dfdffd"/>
<rect x="8" y="6" width="1.12" height="1.17" fill="#dedefd"/>
<rect x="9" y="6" width="1.12" height="1.17" fill="#e6e6fd"/>
<rect x="10" y="6" width="1.12" height="1.17" fill="#ededfe"/>
<rect x="11" y="6" width="1.12" height="1.17" fill="#dfdffd"/>
<rect x="12" y="6" width="1.12" height="1.17" fill="#eaeafe"/>
<rect x="13" y="6" width="1.12" height="1.17" fill="#ddddfd"/>
<rect x="14" y="6" width="1.12" height="1.17" fill="#e8e8fd"/>
<rect x="15" y="6" width="1.12" height="1.17" fill="#e4e4fd"/>
<rect x="16" y="6" width="1.12" height="1.17" fill="#ececfe"/>
<rect x="17" y="6" width="1.12" height="1.17" fill="#e0e0fd"/>
<rect x="18" y="6" width="1.12" height="1.17" fill="#dfdffd"/>
<rect x="19" y="6" width="1.12" height="1.17" fill="#e3e3fd"/>
<rect x="-3" y="7" width="1.12" height="1.17" fill="#e9e9fe"/>
<rect x="-2" y="7" width="1.12" height="1.17" fill="#efeffe"/>
<rect x="-1" y="7" width="1.12" height="1.17" fill="#e9e9fe"/>
<rect x="0" y="7" width="1.12" height="1.17" fill="#eaeafe"/>
<rect x="1" y="7" width="1.12" height="1.17" fill="#ebebfe"/>
<rect x="2" y="7" width="1.12" height="1.17" fill="#ededfe"/>
<rect x="3" y="7" width="1.12" height="1.17" fill="#e3e3fd"/>
<rect x="4" y="7" width="1.12" height="1.17" fill="#ebebfe"/>
<rect x="5" y="7" width="1.12" height="1.17" fill="#e4e4fd"/>
<rect x="6" y="7" width="1.12" height="1.17" fill="#ededfe"/>
<rect x="7" y="7" width="1.12" height="1.17" fill="#ededfe"/>
<rect x="8" y="7" width="1.12" height="1.17" fill="#e1e1fd"/>
<rect x="9" y="7" width="1.12" height="1.17" fill="#f0f0fe"/>
<rect x="10" y="7" width="1.12" height="1.17" fill="#e9e9fe"/>
<rect x="11" y="7" width="1.12" height="1.17" fill="#f2f2fe"/>
<rect x="12" y="7" width="1.12" height="1.17" fill="#ececfe"/>
<rect x="13" y="7" width="1.12" height="1.17" fill="#f1f1fe"/>
<rect x="14" y="7" width="1.12" height="1.17" fill="#eeeefe"/>
<rect x="15" y="7" width="1.12" height="1.17" fill="#e2e2fd"/>
<rect x="16" y="7" width="1.12" height="1.17" fill="#e2e2fd"/>
<rect x="17" y="7" width="1.12" height="1.17" fill="#ececfe"/>
<rect x="18" y="7" width="1.12" height="1.17" fill="#dcdcfd"/>
<rect x="19" y="7" width="1.12" height="1.17" fill="#e8e8fd"/>
<rect x="-3" y="8" width="1.12" height="1.17" fill="#ebebfe"/>
<rect x="-2" y="8" width="1.12" height="1.17" fill="#e4e4fd"/>
<rect x="-1" y="8" width="1.12" height="1.17" fill="#e8e8fd"/>
<rect x="0" y="8" width="1.12" height="1.17" fill="#e3e3fd"/>
<rect x="1" y="8" width="1.12" height="1.17" fill="#f4f4fe"/>
<rect x="2" y="8" width="1.12" height="1.17" fill="#ededfe"/>
<rect x="3" y="8" width="1.12" height="1.17" fill="#e7e7fd"/>
<rect x="4" y="8" width="1.12" height="1.17" fill="#f5f5fe"/>
<rect x="5" y="8" width="1.12" height="1.17" fill="#e9e9fe"/>
<rect x="6" y="8" width="1.12" height="1.17" fill="#fce7ea"/>
<rect x="7" y="8" width="1.12" height="1.17" fill="#fbdde0"/>
<rect x="8" y="8" width="1.12" height="1.17" fill="#f2f2fe"/>
<rect x="9" y="8" width="1.12" height="1.17" fill="#f4f4fe"/>
<rect x="10" y="8" width="1.12" height="1.17" fill="#e5e5fd"/>
<rect x="11" y="8" width="1.12" height="1.17" fill="#e3e3fd"/>
<rect x="12" y="8" width="1.12" height="1.17" fill="#f3f3fe"/>
<rect x="13" y="8" width="1.12" height="1.17" fill="#e7e7fd"/>
<rect x="14" y="8" width="1.12" height="1.17" fill="#e7e7fd"/>
<rect x="15" y="8" width="1.12" height="1.17" fill="#e7e7fd"/>
<rect x="16" y="8" width="1.12" height="1.17" fill="#e8e8fd"/>
<rect x="17" y="8" width="1.12" height="1.17" fill="#f5f5fe"/>
<rect x="18" y="8" width="1.12" height="1.17" fill="#ececfe"/>
<rect x="19" y="8" width="1.12" height="1.17" fill="#e9e9fe"/>
<rect x="-3" y="9" width="1.12" height="1.17" fill="#e9e9fe"/>
<rect x="-2" y="9" width="1.12" height="1.17" fill="#d8d8fd"/>
<rect x="-1" y="9" width="1.12" height="1.17" fill="#e7e7fd"/>
<rect x="0" y="9" width="1.12" height="1.17" fill="#dcdcfd"/>
<rect x="1" y="9" width="1.12" height="1.17" fill="#fbfbfe"/>
<rect x="2" y="9" width="1.12" height="1.17" fill="#f6f6fe"/>
<rect x="3" y="9" width="1.12" height="1.17" fill="#fefcfc"/>
<rect x="4" y="9" width="1.12" height="1.17" fill="#fcfcfe"/>
<rect x="5" y="9" width="1.12" height="1.17" fill="#f2f2fe"/>
<rect x="6" y="9" width="1.12" height="1.17" fill="#fbdde0"/>
<rect x="7" y="9" width="1.12" height="1.17" fill="#fbe2e5"/>
<rect x="8" y="9" width="1.12" height="1.17" fill="#fce7ea"/>
<rect x="9" y="9" width="1.12" height="1.17" fill="#fefefe"/>
<rect x="10" y="9" width="1.12" height="1.17" fill="#fcfcfe"/>
<rect x="11" y="9" width="1.12" height="1.17" fill="#ffffff"/>
<rect x="12" y="9" width="1.12" height="1.17" fill="#f7f7fe"/>
<rect x="13" y="9" width="1.12" height="1.17" fill="#fefefe"/>
<rect x="14" y="9" width="1.12" height="1.17" fill="#f0f0fe"/>
<rect x="15" y="9" width="1.12" height="1.17" fill="#f1f1fe"/>
<rect x="16" y="9" width="1.12" height="1.17" fill="#f3f3fe"/>
<rect x="17" y="9" width="1.12" height="1.17" fill="#f8f8fe"/>
<rect x="18" y="9" width="1.12" height="1.17" fill="#f2f2fe"/>
<rect x="19" y="9" width="1.12" height="1.17" fill="#fefcfc"/>
<rect x="-3" y="10" width="1.12" height="1.17" fill="#dcdcfd"/>
<rect x="-2" y="10" width="1.12" height="1.17" fill="#e9e9fe"/>
<rect x="-1" y="10" width="1.12" height="1.17" fill="#dcdcfd"/>
<rect x="0" y="10" width="1.12" height="1.17" fill="#e5e5fd"/>
<rect x="1" y="10" width="1.12" height="1.17" fill="#f2f2fe"/>
<rect x="2" y="10" width="1.12" height="1.17" fill="#fefcfc"/>
<rect x="3" y="10" width="1.12" height="1.17" fill="#ffffff"/>
<rect x="4" y="10" width="1.12" height="1.17" fill="#e2e2fd"/>
<rect x="5" y="10" width="1.12" height="1.17" fill="#f4f4fe"/>
<rect x="6" y="10" width="1.12" height="1.17" fill="#f9f9fe"/>
<rect x="7" y="10" width="1.12" height="1.17" fill="#fce7ea"/>
<rect x="8" y="10" width="1.12" height="1.17" fill="#f1f1fe"/>
<rect x="9" y="10" width="1.12" height="1.17" fill="#f6f6fe"/>
<rect x="10" y="10" width="1.12" height="1.17" fill="#fcfcfe"/>
<rect x="11" y="10" width="1.12" height="1.17" fill="#f4f4fe"/>
<rect x="12" y="10" width="1.12" height="1.17" fill="#fefcfc"/>
<rect x="13" y="10" width="1.12" height="1.17" fill="#ffffff"/>
<rect x="14" y="10" width="1.12" height="1.17" fill="#f4f4fe"/>
<rect x="15" y="10" width="1.12" height="1.17" fill="#fbfbfe"/>
<rect x="16" y="10" width="1.12" height="1.17" fill="#fbfbfe"/>
<rect x="17" y="10" width="1.12" height="1.17" fill="#f1f1fe"/>
<rect x="18" y="10" width="1.12" height="1.17" fill="#eeeefe"/>
<rect x="19" y="10" width="1.12" height="1.17" fill="#fdfdfe"/>
<rect x="-3" y="11" width="1.12" height="1.17" fill="#e2e2fd"/>
<rect x="-2" y="11" width="1.12" height="1.17" fill="#e9e9fe"/>
<rect x="-1" y="11" width="1.12" height="1.17" fill="#e8e8fd"/>
<rect x="0" y="11" width="1.12" height="1.17" fill="#e7e7fd"/>
<rect x="1" y="11" width="1.12" height="1.17" fill="#f5f5fe"/>
<rect x="2" y="11" width="1.12" height="1.17" fill="#f6f6fe"/>
<rect x="3" y="11" width="1.12" height="1.17" fill="#fafafe"/>
<rect x="4" y="11" width="1.12" height="1.17" fill="#efeffe"/>
<rect x="5" y="11" width="1.12" height="1.17" fill="#f1f1fe"/>
<rect x="6" y="11" width="1.12" height="1.17" fill="#ffffff"/>
<rect x="7" y="11" width="1.12" height="1.17" fill="#fdfdfe"/>
<rect x="8" y="11" width="1.12" height="1.17" fill="#f0f0fe"/>
<rect x="9" y="11" width="1.12" height="1.17" fill="#fbfbfe"/>
<rect x="10" y="11" width="1.12" height="1.17" fill="#f6f6fe"/>
<rect x="11" y="11" width="1.12" height="1.17" fill="#fefcfc"/>
<rect x="12" y="11" width="1.12" height="1.17" fill="#f5f5fe"/>
<rect x="13" y="11" width="1.12" height="1.17" fill="#fefefe"/>
<rect x="14" y="11" width="1.12" height="1.17" fill="#f9f9fe"/>
<rect x="15" y="11" width="1.12" height="1.17" fill="#f0f0fe"/>
<rect x="16" y="11" width="1.12" height="1.17" fill="#f7f7fe"/>
<rect x="17" y="11" width="1.12" height="1.17" fill="#fafafe"/>
<rect x="18" y="11" width="1.12" height="1.17" fill="#ffffff"/>
<rect x="19" y="11" width="1.12" height="1.17" fill="#ffffff"/>
<rect x="-3" y="12" width="1.12" height="1.17" fill="#e1e1fd"/>
<rect x="-2" y="12" width="1.12" height="1.17" fill="#dadafd"/>
<rect x="-1" y="12" width="1.12" height="1.17" fill="#dbdbfd"/>
<rect x="0" y="12" width="1.12" height="1.17" fill="#e7e7fd"/>
<rect x="1" y="12" width="1.12" height="1.17" fill="#ffffff"/>
<rect x="2" y="12" width="1.12" height="1.17" fill="#fefcfc"/>
<rect x="3" y="12" width="1.12" height="1.17" fill="#fceff2"/>
<rect x="4" y="12" width="1.12" height="1.17" fill="#fdf3f6"/>
<rect x="5" y="12" width="1.12" height="1.17" fill="#fdf6f9"/>
<rect x="6" y="12" width="1.12" height="1.17" fill="#ffffff"/>
<rect x="7" y="12" width="1.12" height="1.17" fill="#fcf0f3"/>
<rect x="8" y="12" width="1.12" height="1.17" fill="#fdf9fc"/>
<rect x="9" y="12" width="1.12" height="1.17" fill="#fcf0f3"/>
<rect x="10" y="12" width="1.12" height="1.17" fill="#f6f6fe"/>
<rect x="11" y="12" width="1.12" height="1.17" fill="#fefefe"/>
<rect x="12" y="12" width="1.12" height="1.17" fill="#fdf7fa"/>
<rect x="13" y="12" width="1.12" height="1.17" fill="#ffffff"/>
<rect x="14" y="12" width="1.12" height="1.17" fill="#ffffff"/>
<rect x="15" y="12" width="1.12" height="1.17" fill="#fceff2"/>
<rect x="16" y="12" width="1.12" height="1.17" fill="#fefcfc"/>
<rect x="17" y="12" width="1.12" height="1.17" fill="#fdf9fc"/>
<rect x="18" y="12" width="1.12" height="1.17" fill="#ffffff"/>
<rect x="19" y="12" width="1.12" height="1.17" fill="#fcf0f3"/>
<rect x="-3" y="13" width="1.12" height="1.17" fill="#e1e1fd"/>
<rect x="-2" y="13" width="1.12" height="1.17" fill="#e4e4fd"/>
<rect x="-1" y="13" width="1.12" height="1.17" fill="#e2e2fd"/>
<rect x="0" y="13" width="1.12" height="1.17" fill="#d9d9fd"/>
<rect x="1" y="13" width="1.12" height="1.17" fill="#fdf9fc"/>
<rect x="2" y="13" width="1.12" height="1.17" fill="#fdf9fc"/>
<rect x="3" y="13" width="1.12" height="1.17" fill="#fcf0f3"/>
<rect x="4" y="13" width="1.12" height="1.17" fill="#fefcfc"/>
<rect x="5" y="13" width="1.12" height="1.17" fill="#fefcfc"/>
<rect x="6" y="13" width="1.12" height="1.17" fill="#fdf1f4"/>
<rect x="7" y="13" width="1.12" height="1.17" fill="#fdf5f8"/>
<rect x="8" y="13" width="1.12" height="1.17" fill="#f6f6fe"/>
<rect x="9" y="13" width="1.12" height="1.17" fill="#fdf7fa"/>
<rect x="10" y="13" width="1.12" height="1.17" fill="#fdf6f9"/>
<rect x="11" y="13" width="1.12" height="1.17" fill="#fcfcfe"/>
<rect x="12" y="13" width="1.12" height="1.17" fill="#fcecef"/>
<rect x="13" y="13" width="1.12" height="1.17" fill="#fdf1f4"/>
<rect x="14" y="13" width="1.12" height="1.17" fill="#fdf9fc"/>
<rect x="15" y="13" width="1.12" height="1.17" fill="#e9e9fe"/>
<rect x="16" y="13" width="1.12" height="1.17" fill="#e9e9fe"/>
<rect x="17" y="13" width="1.12" height="1.17" fill="#e9e9fe"/>
<rect x="18" y="13" width="1.12" height="1.17" fill="#e9e9fe"/>
<rect x="19" y="13" width="1.12" height="1.17" fill="#e9e9fe"/>
<rect x="-3" y="14" width="1.12" height="1.17" fill="#fce9ec"/>
<rect x="-2" y="14" width="1.12" height="1.17" fill="#fdf6f9"/>
<rect x="-1" y="14" width="1.12" height="1.17" fill="#fce9ec"/>
<rect x="0" y="14" width="1.12" height="1.17" fill="#fcedf0"/>
<rect x="1" y="14" width="1.12" height="1.17" fill="#fdf7fa"/>
<rect x="2" y="14" width="1.12" height="1.17" fill="#fdf6f9"/>
<rect x="3" y="14" width="1.12" height="1.17" fill="#fdf7fa"/>
<rect x="4" y="14" width="1.12" height="1.17" fill="#fdf9fc"/>
<rect x="5" y="14" width="1.12" height="1.17" fill="#fdf5f8"/>
<rect x="6" y="14" width="1.12" height="1.17" fill="#fdf9fc"/>
<rect x="7" y="14" width="1.12" height="1.17" fill="#fcecef"/>
<rect x="8" y="14" width="1.12" height="1.17" fill="#fceff2"/>
<rect x="9" y="14" width="1.12" height="1.17" fill="#fceaed"/>
<rect x="10" y="14" width="1.12" height="1.17" fill="#fcecef"/>
<rect x="11" y="14" width="1.12" height="1.17" fill="#fdf3f6"/>
<rect x="12" y="14" width="1.12" height="1.17" fill="#fdf1f4"/>
<rect x="13" y="14" width="1.12" height="1.17" fill="#fdf8fb"/>
<rect x="14" y="14" width="1.12" height="1.17" fill="#fceaed"/>
<rect x="15" y="14" width="1.12" height="1.17" fill="#e9e9fe"/>
<rect x="16" y="14" width="1.12" height="1.17" fill="#e9e9fe"/>
<rect x="17" y="14" width="1.12" height="1.17" fill="#e9e9fe"/>
<rect x="18" y="14" width="1.12" height="1.17" fill="#e9e9fe"/>
<rect x="19" y="14" width="1.12" height="1.17" fill="#e9e9fe"/>
<rect x="-3" y="15" width="1.12" height="1.17" fill="#fceaed"/>
<rect x="-2" y="15" width="1.12" height="1.17" fill="#fdf2f5"/>
<rect x="-1" y="15" width="1.12" height="1.17" fill="#fdf4f7"/>
<rect x="0" y="15" width="1.12" height="1.17" fill="#fceaed"/>
<rect x="1" y="15" width="1.12" height="1.17" fill="#fceaed"/>
<rect x="2" y="15" width="1.12" height="1.17" fill="#fdf3f6"/>
<rect x="3" y="15" width="1.12" height="1.17" fill="#fdf4f7"/>
<rect x="4" y="15" width="1.12" height="1.17" fill="#fceaed"/>
<rect x="5" y="15" width="1.12" height="1.17" fill="#fdf4f7"/>
<rect x="6" y="15" width="1.12" height="1.17" fill="#fce8eb"/>
<rect x="7" y="15" width="1.12" height="1.17" fill="#fceff2"/>
<rect x="8" y="15" width="1.12" height="1.17" fill="#fce9ec"/>
<rect x="9" y="15" width="1.12" height="1.17" fill="#fdf2f5"/>
<rect x="10" y="15" width="1.12" height="1.17" fill="#fce6e9"/>
<rect x="11" y="15" width="1.12" height="1.17" fill="#fce8eb"/>
<rect x="12" y="15" width="1.12" height="1.17" fill="#fcebee"/>
<rect x="13" y="15" width="1.12" height="1.17" fill="#fdf3f6"/>
<rect x="14" y="15" width="1.12" height="1.17" fill="#fce9ec"/>
<rect x="15" y="15" width="1.12" height="1.17" fill="#fce9ec"/>
<rect x="16" y="15" width="1.12" height="1.17" fill="#fceff2"/>
<rect x="17" y="15" width="1.12" height="1.17" fill="#fdf5f8"/>
<rect x="18" y="15" width="1.12" height="1.17" fill="#fceef1"/>
<rect x="19" y="15" width="1.12" height="1.17" fill="#fdf2f5"/>
<rect x="-3" y="16" width="1.12" height="1.17" fill="#fce6e9"/>
<rect x="-2" y="16" width="1.12" height="1.17" fill="#fceef1"/>
<rect x="-1" y="16" width="1.12" height="1.17" fill="#fceaed"/>
<rect x="0" y="16" width="1.12" height="1.17" fill="#fce5e8"/>
<rect x="1" y="16" width="1.12" height="1.17" fill="#fcebee"/>
<rect x="2" y="16" width="1.12" height="1.17" fill="#fce6e9"/>
<rect x="3" y="16" width="1.12" height="1.17" fill="#fdf9fc"/>
<rect x="4" y="16" width="1.12" height="1.17" fill="#fce4e7"/>
<rect x="5" y="16" width="1.12" height="1.17" fill="#fbe2e5"/>
<rect x="6" y="16" width="1.12" height="1.17" fill="#fceaed"/>
<rect x="7" y="16" width="1.12" height="1.17" fill="#fce6e9"/>
<rect x="8" y="16" width="1.12" height="1.17" fill="#fbe2e5"/>
<rect x="9" y="16" width="1.12" height="1.17" fill="#fce6e9"/>
<rect x="10" y="16" width="1.12" height="1.17" fill="#fce8eb"/>
<rect x="11" y="16" width="1.12" height="1.17" fill="#fdf2f5"/>
<rect x="12" y="16" width="1.12" height="1.17" fill="#fdf1f4"/>
<rect x="13" y="16" width="1.12" height="1.17" fill="#fdf1f4"/>
<rect x="14" y="16" width="1.12" height="1.17" fill="#fcecef"/>
<rect x="15" y="16" width="1.12" height="1.17" fill="#fce5e8"/>
<rect x="16" y="16" width="1.12" height="1.17" fill="#fbe2e5"/>
<rect x="17" y="16" width="1.12" height="1.17" fill="#fcf0f3"/>
<rect x="18" y="16" width="1.12" height="1.17" fill="#fceaed"/>
<rect x="19" y="16" width="1.12" height="1.17" fill="#fceaed"/>
<rect x="-3" y="17" width="1.12" height="1.17" fill="#fbdfe2"/>
<rect x="-2" y="17" width="1.12" height="1.17" fill="#fbe0e3"/>
<rect x="-1" y="17" width="1.12" height="1.17" fill="#fbe0e3"/>
<rect x="0" y="17" width="1.12" height="1.17" fill="#fbdcdf"/>
<rect x="1" y="17" width="1.12" height="1.17" fill="#fce4e7"/>
<rect x="2" y="17" width="1.12" height="1.17" fill="#fbe0e3"/>
<rect x="3" y="17" width="1.12" height="1.17" fill="#fce4e7"/>
<rect x="4" y="17" width="1.12" height="1.17" fill="#fce6e9"/>
<rect x="5" y="17" width="1.12" height="1.17" fill="#fce5e8"/>
<rect x="6" y="17" width="1.12" height="1.17" fill="#fce7ea"/>
<rect x="7" y="17" width="1.12" height="1.17" fill="#fceff2"/>
<rect x="8" y="17" width="1.12" height="1.17" fill="#fceaed"/>
<rect x="9" y="17" width="1.12" height="1.17" fill="#fcedf0"/>
<rect x="10" y="17" width="1.12" height="1.17" fill="#fbe1e4"/>
<rect x="11" y="17" width="1.12" height="1.17" fill="#fcedf0"/>
<rect x="12" y="17" width="1.12" height="1.17" fill="#fceef1"/>
<rect x="13" y="17" width="1.12" height="1.17" fill="#fce3e6"/>
<rect x="14" y="17" width="1.12" height="1.17" fill="#fcebee"/>
<rect x="15" y="17" width="1.12" height="1.17" fill="#fceff2"/>
<rect x="16" y="17" width="1.12" height="1.17" fill="#fcecef"/>
<rect x="17" y="17" width="1.12" height="1.17" fill="#fceef1"/>
<rect x="18" y="17" width="1.12" height="1.17" fill="#fce4e7"/>
<rect x="19" y="17" width="1.12" height="1.17" fill="#fceaed"/>
<rect x="-3" y="18" width="1.12" height="1.17" fill="#fbdadd"/>
<rect x="-2" y="18" width="1.12" height="1.17" fill="#fbdfe2"/>
<rect x="-1" y="18" width="1.12" height="1.17" fill="#fbd5d8"/>
<rect x="0" y="18" width="1.12" height="1.17" fill="#fdf3f6"/>
<rect x="1" y="18" width="1.12" height="1.17" fill="#fce4e7"/>
<rect x="2" y="18" width="1.12" height="1.17" fill="#fce3e6"/>
<rect x="3" y="18" width="1.12" height="1.17" fill="#fbd9dc"/>
<rect x="4" y="18" width="1.12" height="1.17" fill="#fbdcdf"/>
<rect x="5" y="18" width="1.12" height="1.17" fill="#fbd8db"/>
<rect x="6" y="18" width="1.12" height="1.17" fill="#fbe2e5"/>
<rect x="7" y="18" width="1.12" height="1.17" fill="#fce4e7"/>
<rect x="8" y="18" width="1.12" height="1.17" fill="#fbdbde"/>
<rect x="9" y="18" width="1.12" height="1.17" fill="#fce7ea"/>
<rect x="10" y="18" width="1.12" height="1.17" fill="#fcebee"/>
<rect x="11" y="18" width="1.12" height="1.17" fill="#fdf4f7"/>
<rect x="12" y="18" width="1.12" height="1.17" fill="#fce7ea"/>
<rect x="13" y="18" width="1.12" height="1.17" fill="#fceaed"/>
<rect x="14" y="18" width="1.12" height="1.17" fill="#fdf1f4"/>
<rect x="15" y="18" width="1.12" height="1.17" fill="#fbdfe2"/>
<rect x="16" y="18" width="1.12" height="1.17" fill="#fce8eb"/>
<rect x="17" y="18" width="1.12" height="1.17" fill="#fce4e7"/>
<rect x="18" y="18" width="1.12" height="1.17" fill="#fdf8fb"/>
<rect x="19" y="18" width="1.12" height="1.17" fill="#fbdfe2"/>
<rect x="-3" y="19" width="1.12" height="1.17" fill="#fbe1e4"/>
<rect x="-2" y="19" width="1.12" height="1.17" fill="#fbdadd"/>
<rect x="-1" y="19" width="1.12" height="1.17" fill="#fce6e9"/>
<rect x="0" y="19" width="1.12" height="1.17" fill="#fbe0e3"/>
<rect x="1" y="19" width="1.12" height="1.17" fill="#fbd6d9"/>
<rect x="2" y="19" width="1.12" height="1.17" fill="#fbd6d9"/>
<rect x="3" y="19" width="1.12" height="1.17" fill="#fbdee1"/>
<rect x="4" y="19" width="1.12" height="1.17" fill="#fbd5d8"/>
<rect x="5" y="19" width="1.12" height="1.17" fill="#fbe1e4"/>
<rect x="6" y="19" width="1.12" height="1.17" fill="#fbdee1"/>
<rect x="7" y="19" width="1.12" height="1.17" fill="#fbdcdf"/>
<rect x="8" y="19" width="1.12" height="1.17" fill="#fce9ec"/>
<rect x="9" y="19" width="1.12" height="1.17" fill="#fce6e9"/>
<rect x="10" y="19" width="1.12" height="1.17" fill="#fbdadd"/>
<rect x="11" y="19" width="1.12" height="1.17" fill="#fbdcdf"/>
<rect x="12" y="19" width="1.12" height="1.17" fill="#fce4e7"/>
<rect x="13" y="19" width="1.12" height="1.17" fill="#fbdcdf"/>
<rect x="14" y="19" width="1.12" height="1.17" fill="#fce4e7"/>
<rect x="15" y="19" width="1.12" height="1.17" fill="#fbdadd"/>
<rect x="16" y="19" width="1.12" height="1.17" fill="#fceef1"/>
<rect x="17" y="19" width="1.12" height="1.17" fill="#fbdcdf"/>
<rect x="18" y="19" width="1.12" height="1.17" fill="#fce3e6"/>
<rect x="19" y="19" width="1.12" height="1.17" fill="#fbdbde"/>
<rect x="-3" y="20" width="1.12" height="1.17" fill="#fbd7da"/>
<rect x="-2" y="20" width="1.12" height="1.17" fill="#fbd7da"/>
<rect x="-1" y="20" width="1.12" height="1.17" fill="#fbd9dc"/>
<rect x="0" y="20" width="1.12" height="1.17" fill="#fbdcdf"/>
<rect x="1" y="20" width="1.12" height="1.17" fill="#fcecef"/>
<rect x="2" y="20" width="1.12" height="1.17" fill="#fbdcdf"/>
<rect x="3" y="20" width="1.12" height="1.17" fill="#fbdbde"/>
<rect x="4" y="20" width="1.12" height="1.17" fill="#fad1d4"/>
<rect x="5" y="20" width="1.12" height="1.17" fill="#fbdcdf"/>
<rect x="6" y="20" width="1.12" height="1.17" fill="#fad0d3"/>
<rect x="7" y="20" width="1.12" height="1.17" fill="#fce4e7"/>
<rect x="8" y="20" width="1.12" height="1.17" fill="#fce3e6"/>
<rect x="9" y="20" width="1.12" height="1.17" fill="#fbdbde"/>
<rect x="10" y="20" width="1.12" height="1.17" fill="#fbd7da"/>
<rect x="11" y="20" width="1.12" height="1.17" fill="#fce4e7"/>
<rect x="12" y="20" width="1.12" height="1.17" fill="#fbdde0"/>
<rect x="13" y="20" width="1.12" height="1.17" fill="#fbdcdf"/>
<rect x="14" y="20" width="1.12" height="1.17" fill="#fbd9dc"/>
<rect x="15" y="20" width="1.12" height="1.17" fill="#fbd5d8"/>
<rect x="16" y="20" width="1.12" height="1.17" fill="#fce4e7"/>
<rect x="17" y="20" width="1.12" height="1.17" fill="#fce8eb"/>
<rect x="18" y="20" width="1.12" height="1.17" fill="#fbd5d8"/>
<rect x="19" y="20" width="1.12" height="1.17" fill="#fce5e8"/>
</g>
<path d="M9.1,565.9 L147,547.1 L160,544.5 L160,540 L0,540 L0,566.9 Z" fill="#fff"/><path d="M9.3,565.9 L11.5,606 L26.3,667 L0,667 L0,565.7 Z" fill="#fff"/><path d="M24.5,666 L150,648 L160,646.8 L160,670 L20,670 Z" fill="#fff"/><path d="M147,547.1 L149.2,606 L152,606 L152,547 Z" fill="#fff"/><path d="M11.2,559.3 L18,558 L25.3,556.2 L32,553 L38,550 L43.7,547.5" fill="none" stroke="#3a3a3a" stroke-width="0.6" stroke-linejoin="round"/><path d="M62,588.2 L77,586.25 L78.65,591.2 L86.15,590.23 L87.8,595.18 L95.3,594.2 L96.95,599.15 L104.45,598.17 L106.1,603.12 L98.6,604.1 L100.25,609.05 L92.75,610.03 L94.4,614.98 L86.9,615.95 L88.55,620.9 L81.05,621.88 L79.4,616.92 L71.9,617.9 L70.25,612.95 L62.75,613.93 L61.1,608.98 L53.6,609.95 L50.3,600.05 L57.8,599.08 L56.15,594.12 L63.65,593.15 Z" fill="none" stroke="#8a8f2c" stroke-width="1.2" stroke-linejoin="miter"/><path d="M65.3,598.1 L80.3,596.15 L81.95,601.1 L89.45,600.12 L91.1,605.08 L83.6,606.05 L85.25,611 L77.75,611.98 L76.1,607.02 L68.6,608 Z" fill="none" stroke="#a8302e" stroke-width="1.1" stroke-linejoin="miter"/><path d="M65.7,598 L67.22,598.8 L68.1,597.9 L68.9,596.8 L70.15,597.26 L71.28,596.32 L72.56,597.18 L73.7,596.4 L74.81,595.59 L75.77,596.44 L76.67,597.74 L77.8,596.8 L79.06,596.7 L79.54,598.66 L81,598 L82,598.82 L83,598.09 L84,598.33 L85,598 L86,598.54 L87.16,598.44 L88.2,598.8 L89.38,599.48 L89.93,597.05 L91.23,598.34 L92.2,598 L91.66,599.06 L93.74,599.87 L92.5,601 L92.13,602.17 L91.47,603.24 L91.4,604.5 L91.32,605.63 L90.65,606.52 L90.02,607.43 L89.8,608.5 L89.86,609.71 L91.68,609.59 L90.57,611.68 L92.2,611.7 L92.43,612.78 L93.22,613.71 L93,614.9 L91.61,614.93 L91.18,616.04 L91.09,617.56 L89.8,617.7 L88.77,617.54 L87.79,617.76 L86.81,618.12 L85.8,618.1 L85.02,616.79 L83.81,617.64 L83.02,616.41 L81.8,617.3 L80.63,616.8 L79.4,616.5 L77.66,615.92 L77.8,614.1 L76.62,613.73 L75.11,614.04 L74.5,612.5 L73.62,613.87 L72.1,613.3 L70.9,613.4 L70.13,612.42 L68.74,612.99 L68.1,611.7 L67.29,610.82 L66.24,610.54 L64.82,611.21 L64.1,610.1 L65.58,609.98 L65.7,608.5 L66.33,607.09 L67.27,606.31 L68.9,606.9 L69.87,606.05 L70.49,605.03 L70.5,603.7 L70.84,602.19 L69.62,601.82 L69.67,600.52 L68.1,600.4 L66.36,600.54 L66.5,598.8 Z" fill="none" stroke="#f055f0" stroke-width="0.84" stroke-linejoin="round"/><circle cx="68.5" cy="609.3" r="0.9" fill="#ccc" stroke="#888" stroke-width="0.3"/><circle cx="72.9" cy="610.5" r="0.9" fill="#ccc" stroke="#888" stroke-width="0.3"/><circle cx="77.3" cy="609.3" r="0.9" fill="#ccc" stroke="#888" stroke-width="0.3"/><circle cx="83" cy="617.7" r="0.9" fill="#ccc" stroke="#888" stroke-width="0.3"/><circle cx="92.2" cy="598" r="0.9" fill="#ccc" stroke="#888" stroke-width="0.3"/><circle cx="98.6" cy="616.5" r="1.0" fill="#aab" stroke="#889" stroke-width="0.3"/><circle cx="83.4" cy="607.3" r="0.9" fill="#e02020"/>
</g>
<rect x="11.2" y="547.5" width="138.7" height="118.4" fill="none" stroke="#8c8c8c" stroke-width="0.9"/>
<text x="16" y="557.5" font-size="10.2" font-weight="bold" fill="#111">o)</text>
<clipPath id="c20"><rect x="157.2" y="548.2" width="162.1" height="117.7"/></clipPath>
<g clip-path="url(#c20)">
<polygon points="164.6,627.48 177.99,627.48 191.38,626.01 204.77,624.54 218.16,623.07 231.55,621.6 244.95,620.13 258.34,620.13 271.73,621.6 285.12,624.54 298.51,626.01 311.9,627.48 311.9,645.12 298.51,645.12 285.12,646.59 271.73,646.59 258.34,646.59 244.95,646.59 231.55,646.59 218.16,646.59 204.77,646.59 191.38,645.12 177.99,645.12 164.6,645.12" fill="#e6edd0" fill-opacity="0.75"/>
<polygon points="164.6,627.48 177.99,627.48 191.38,624.54 204.77,618.66 218.16,609.84 231.55,603.96 244.95,602.49 258.34,603.37 271.73,606.9 285.12,612.78 298.51,620.13 311.9,626.01 311.9,639.24 298.51,636.3 285.12,631.89 271.73,627.48 258.34,623.07 244.95,623.07 231.55,626.01 218.16,630.42 204.77,634.83 191.38,637.77 177.99,639.83 164.6,640.71" fill="#d9aaa5" fill-opacity="0.4"/>
<polyline points="164.6,643.65 177.99,642.91 191.38,642.73 204.77,644.63 218.16,645.3 231.55,645.35 244.95,644.63 258.34,643.81 271.73,643.63 285.12,644.39 298.51,644.01 311.9,644.53" fill="none" stroke="#a6ad5c" stroke-width="0.5" stroke-opacity="0.6" stroke-linejoin="round"/>
<polyline points="164.6,639.97 177.99,639.91 191.38,640.22 204.77,641.74 218.16,641.56 231.55,640.59 244.95,639.4 258.34,639.1 271.73,639.98 285.12,641.56 298.51,641.22 311.9,641.18" fill="none" stroke="#a6ad5c" stroke-width="0.5" stroke-opacity="0.6" stroke-linejoin="round"/>
<polyline points="164.6,636.97 177.99,637.65 191.38,637.82 204.77,638.25 218.16,637.04 231.55,635.6 244.95,634.69 258.34,635.2 271.73,636.66 285.12,638.28 298.51,637.63 311.9,637.4" fill="none" stroke="#a6ad5c" stroke-width="0.5" stroke-opacity="0.6" stroke-linejoin="round"/>
<polyline points="164.6,634.71 177.99,635.5 191.38,634.82 204.77,633.97 218.16,632.29 231.55,631.14 244.95,630.79 258.34,631.63 271.73,632.89 285.12,634.2 298.51,633.6 311.9,633.96" fill="none" stroke="#a6ad5c" stroke-width="0.5" stroke-opacity="0.6" stroke-linejoin="round"/>
<polyline points="164.6,632.56 177.99,632.74 191.38,631.03 204.77,629.47 218.16,628.08 231.55,627.48 244.95,627.22 258.34,627.63 271.73,628.32 285.12,629.68 298.51,629.91 311.9,631.32" fill="none" stroke="#a6ad5c" stroke-width="0.5" stroke-opacity="0.6" stroke-linejoin="round"/>
<polyline points="164.6,629.8 177.99,629.2 191.38,627.02 204.77,625.5 218.16,624.67 231.55,624.16 244.95,623.22 258.34,622.81 271.73,623.31 285.12,625.5 298.51,627.03 311.9,629.2" fill="none" stroke="#a6ad5c" stroke-width="0.5" stroke-opacity="0.6" stroke-linejoin="round"/>
<polyline points="164.6,639.06 177.99,638.28 191.38,636.12 204.77,632.81 218.16,627.85 231.55,623.25 244.95,620.5 258.34,620.61 271.73,624.91 285.12,629.5 298.51,634.28 311.9,637.59" fill="none" stroke="#c86a6a" stroke-width="0.5" stroke-opacity="0.6" stroke-linejoin="round"/>
<polyline points="164.6,635.75 177.99,635.2 191.38,632.81 204.77,628.77 218.16,622.7 231.55,617.74 244.95,615.35 258.34,615.68 271.73,619.76 285.12,624.72 298.51,630.24 311.9,634.28" fill="none" stroke="#c86a6a" stroke-width="0.5" stroke-opacity="0.6" stroke-linejoin="round"/>
<polyline points="164.6,632.44 177.99,632.11 191.38,629.5 204.77,624.72 218.16,617.56 231.55,612.23 244.95,610.21 258.34,610.76 271.73,614.62 285.12,619.95 298.51,626.19 311.9,630.97" fill="none" stroke="#c86a6a" stroke-width="0.5" stroke-opacity="0.6" stroke-linejoin="round"/>
<polyline points="164.6,629.13 177.99,629.02 191.38,626.19 204.77,620.68 218.16,612.41 231.55,606.72 244.95,605.06 258.34,605.83 271.73,609.47 285.12,615.17 298.51,622.15 311.9,627.66" fill="none" stroke="#c86a6a" stroke-width="0.5" stroke-opacity="0.6" stroke-linejoin="round"/>
<polyline points="164.6,636.3 177.99,636.3 191.38,636.3 204.77,636.3 218.16,636.3 231.55,636.3 244.95,636.3 258.34,636.3 271.73,636.3 285.12,636.3 298.51,636.3 311.9,636.3" fill="none" stroke="#8f9a35" stroke-width="1.6" stroke-linejoin="round"/>
<polyline points="164.6,634.83 177.99,634.83 191.38,633.36 204.77,628.07 218.16,620.13 231.55,613.37 244.95,610.43 258.34,610.43 271.73,615.13 285.12,621.6 298.51,628.07 311.9,633.36" fill="none" stroke="#b3302f" stroke-width="1.4" stroke-linejoin="round"/>
<polyline points="164.6,623.07 177.99,620.13 191.38,615.13 204.77,615.13 218.16,617.19 231.55,618.66 244.95,617.19 258.34,612.78 271.73,607.49 285.12,612.19 298.51,616.31 311.9,623.07" fill="none" stroke="#3aa03a" stroke-width="0.9" stroke-dasharray="3,1.6" stroke-linejoin="round"/>
<circle cx="164.6" cy="623.07" r="0.95" fill="#2e8b2e"/>
<circle cx="177.99" cy="620.13" r="0.95" fill="#2e8b2e"/>
<circle cx="191.38" cy="615.13" r="0.95" fill="#2e8b2e"/>
<circle cx="204.77" cy="615.13" r="0.95" fill="#2e8b2e"/>
<circle cx="218.16" cy="617.19" r="0.95" fill="#2e8b2e"/>
<circle cx="231.55" cy="618.66" r="0.95" fill="#2e8b2e"/>
<circle cx="244.95" cy="617.19" r="0.95" fill="#2e8b2e"/>
<circle cx="258.34" cy="612.78" r="0.95" fill="#2e8b2e"/>
<circle cx="271.73" cy="607.49" r="0.95" fill="#2e8b2e"/>
<circle cx="285.12" cy="612.19" r="0.95" fill="#2e8b2e"/>
<circle cx="298.51" cy="616.31" r="0.95" fill="#2e8b2e"/>
<circle cx="311.9" cy="623.07" r="0.95" fill="#2e8b2e"/>
<polyline points="164.6,639.24 177.99,639.83 191.38,640.42 204.77,640.71 218.16,639.24 231.55,640.71 244.95,642.18 258.34,640.71 271.73,639.24 285.12,640.71 298.51,639.83 311.9,639.24" fill="none" stroke="#3aa03a" stroke-width="0.9" stroke-dasharray="3,1.6" stroke-linejoin="round"/>
<circle cx="164.6" cy="639.24" r="0.95" fill="#2e8b2e"/>
<circle cx="177.99" cy="639.83" r="0.95" fill="#2e8b2e"/>
<circle cx="191.38" cy="640.42" r="0.95" fill="#2e8b2e"/>
<circle cx="204.77" cy="640.71" r="0.95" fill="#2e8b2e"/>
<circle cx="218.16" cy="639.24" r="0.95" fill="#2e8b2e"/>
<circle cx="231.55" cy="640.71" r="0.95" fill="#2e8b2e"/>
<circle cx="244.95" cy="642.18" r="0.95" fill="#2e8b2e"/>
<circle cx="258.34" cy="640.71" r="0.95" fill="#2e8b2e"/>
<circle cx="271.73" cy="639.24" r="0.95" fill="#2e8b2e"/>
<circle cx="285.12" cy="640.71" r="0.95" fill="#2e8b2e"/>
<circle cx="298.51" cy="639.83" r="0.95" fill="#2e8b2e"/>
<circle cx="311.9" cy="639.24" r="0.95" fill="#2e8b2e"/>
<polyline points="164.6,644.24 177.99,643.65 191.38,643.06 204.77,642.77 218.16,643.65 231.55,643.65 244.95,645.12 258.34,645.12 271.73,645.12 285.12,642.77 298.51,642.18 311.9,640.71" fill="none" stroke="#3aa03a" stroke-width="0.9" stroke-dasharray="3,1.6" stroke-linejoin="round"/>
<circle cx="164.6" cy="644.24" r="0.95" fill="#2e8b2e"/>
<circle cx="177.99" cy="643.65" r="0.95" fill="#2e8b2e"/>
<circle cx="191.38" cy="643.06" r="0.95" fill="#2e8b2e"/>
<circle cx="204.77" cy="642.77" r="0.95" fill="#2e8b2e"/>
<circle cx="218.16" cy="643.65" r="0.95" fill="#2e8b2e"/>
<circle cx="231.55" cy="643.65" r="0.95" fill="#2e8b2e"/>
<circle cx="244.95" cy="645.12" r="0.95" fill="#2e8b2e"/>
<circle cx="258.34" cy="645.12" r="0.95" fill="#2e8b2e"/>
<circle cx="271.73" cy="645.12" r="0.95" fill="#2e8b2e"/>
<circle cx="285.12" cy="642.77" r="0.95" fill="#2e8b2e"/>
<circle cx="298.51" cy="642.18" r="0.95" fill="#2e8b2e"/>
<circle cx="311.9" cy="640.71" r="0.95" fill="#2e8b2e"/>
<polyline points="164.6,644.24 177.99,645.12 191.38,647.18 204.77,647.47 218.16,645.71 231.55,646.59 244.95,648.06 258.34,648.06 271.73,649.53 285.12,645.12 298.51,643.65 311.9,642.18" fill="none" stroke="#3aa03a" stroke-width="0.9" stroke-dasharray="3,1.6" stroke-linejoin="round"/>
<circle cx="164.6" cy="644.24" r="0.95" fill="#2e8b2e"/>
<circle cx="177.99" cy="645.12" r="0.95" fill="#2e8b2e"/>
<circle cx="191.38" cy="647.18" r="0.95" fill="#2e8b2e"/>
<circle cx="204.77" cy="647.47" r="0.95" fill="#2e8b2e"/>
<circle cx="218.16" cy="645.71" r="0.95" fill="#2e8b2e"/>
<circle cx="231.55" cy="646.59" r="0.95" fill="#2e8b2e"/>
<circle cx="244.95" cy="648.06" r="0.95" fill="#2e8b2e"/>
<circle cx="258.34" cy="648.06" r="0.95" fill="#2e8b2e"/>
<circle cx="271.73" cy="649.53" r="0.95" fill="#2e8b2e"/>
<circle cx="285.12" cy="645.12" r="0.95" fill="#2e8b2e"/>
<circle cx="298.51" cy="643.65" r="0.95" fill="#2e8b2e"/>
<circle cx="311.9" cy="642.18" r="0.95" fill="#2e8b2e"/>
<polyline points="164.6,636.89 177.99,636.89 191.38,636.89 204.77,636.89 218.16,636.89 231.55,636.89 244.95,636.89 258.34,636.89 271.73,636.89 285.12,636.89 298.51,636.89 311.9,636.89" fill="none" stroke="#2ea02e" stroke-width="1.5" stroke-linejoin="round"/>
<polyline points="164.6,629.54 177.99,626.01 191.38,621.6 204.77,619.25 218.16,621.6 231.55,621.01 244.95,620.13 258.34,615.72 271.73,614.25 285.12,623.07 298.51,627.48 311.9,628.95" fill="none" stroke="#111" stroke-width="0.9" stroke-dasharray="3,1.6" stroke-linejoin="round"/>
<circle cx="164.6" cy="629.54" r="0.95" fill="#111"/>
<circle cx="177.99" cy="626.01" r="0.95" fill="#111"/>
<circle cx="191.38" cy="621.6" r="0.95" fill="#111"/>
<circle cx="204.77" cy="619.25" r="0.95" fill="#111"/>
<circle cx="218.16" cy="621.6" r="0.95" fill="#111"/>
<circle cx="231.55" cy="621.01" r="0.95" fill="#111"/>
<circle cx="244.95" cy="620.13" r="0.95" fill="#111"/>
<circle cx="258.34" cy="615.72" r="0.95" fill="#111"/>
<circle cx="271.73" cy="614.25" r="0.95" fill="#111"/>
<circle cx="285.12" cy="623.07" r="0.95" fill="#111"/>
<circle cx="298.51" cy="627.48" r="0.95" fill="#111"/>
<circle cx="311.9" cy="628.95" r="0.95" fill="#111"/>
<polyline points="164.6,632.77 177.99,627.48 191.38,623.36 204.77,621.6 218.16,622.19 231.55,621.01 244.95,620.13 258.34,615.13 271.73,618.66 285.12,626.01 298.51,628.95 311.9,632.77" fill="none" stroke="#111" stroke-width="0.9" stroke-dasharray="3,1.6" stroke-linejoin="round"/>
<circle cx="164.6" cy="632.77" r="0.95" fill="#111"/>
<circle cx="177.99" cy="627.48" r="0.95" fill="#111"/>
<circle cx="191.38" cy="623.36" r="0.95" fill="#111"/>
<circle cx="204.77" cy="621.6" r="0.95" fill="#111"/>
<circle cx="218.16" cy="622.19" r="0.95" fill="#111"/>
<circle cx="231.55" cy="621.01" r="0.95" fill="#111"/>
<circle cx="244.95" cy="620.13" r="0.95" fill="#111"/>
<circle cx="258.34" cy="615.13" r="0.95" fill="#111"/>
<circle cx="271.73" cy="618.66" r="0.95" fill="#111"/>
<circle cx="285.12" cy="626.01" r="0.95" fill="#111"/>
<circle cx="298.51" cy="628.95" r="0.95" fill="#111"/>
<circle cx="311.9" cy="632.77" r="0.95" fill="#111"/>
<polyline points="164.6,634.83 177.99,635.71 191.38,633.65 204.77,634.83 218.16,636.89 231.55,633.95 244.95,633.36 258.34,631.89 271.73,631.89 285.12,634.83 298.51,636.3 311.9,635.42" fill="none" stroke="#111" stroke-width="0.9" stroke-dasharray="3,1.6" stroke-linejoin="round"/>
<circle cx="164.6" cy="634.83" r="0.95" fill="#111"/>
<circle cx="177.99" cy="635.71" r="0.95" fill="#111"/>
<circle cx="191.38" cy="633.65" r="0.95" fill="#111"/>
<circle cx="204.77" cy="634.83" r="0.95" fill="#111"/>
<circle cx="218.16" cy="636.89" r="0.95" fill="#111"/>
<circle cx="231.55" cy="633.95" r="0.95" fill="#111"/>
<circle cx="244.95" cy="633.36" r="0.95" fill="#111"/>
<circle cx="258.34" cy="631.89" r="0.95" fill="#111"/>
<circle cx="271.73" cy="631.89" r="0.95" fill="#111"/>
<circle cx="285.12" cy="634.83" r="0.95" fill="#111"/>
<circle cx="298.51" cy="636.3" r="0.95" fill="#111"/>
<circle cx="311.9" cy="635.42" r="0.95" fill="#111"/>
<polyline points="164.6,595.73 177.99,587.79 191.38,578.38 204.77,578.38 218.16,584.26 231.55,582.2 244.95,581.03 258.34,576.91 271.73,578.38 285.12,589.26 298.51,590.73 311.9,595.14" fill="none" stroke="#111" stroke-width="0.9" stroke-dasharray="3,1.6" stroke-linejoin="round"/>
<circle cx="164.6" cy="595.73" r="1.05" fill="#111"/>
<circle cx="177.99" cy="587.79" r="1.05" fill="#111"/>
<circle cx="191.38" cy="578.38" r="1.05" fill="#111"/>
<circle cx="204.77" cy="578.38" r="1.05" fill="#111"/>
<circle cx="218.16" cy="584.26" r="1.05" fill="#111"/>
<circle cx="231.55" cy="582.2" r="1.05" fill="#111"/>
<circle cx="244.95" cy="581.03" r="1.05" fill="#111"/>
<circle cx="258.34" cy="576.91" r="1.05" fill="#111"/>
<circle cx="271.73" cy="578.38" r="1.05" fill="#111"/>
<circle cx="285.12" cy="589.26" r="1.05" fill="#111"/>
<circle cx="298.51" cy="590.73" r="1.05" fill="#111"/>
<circle cx="311.9" cy="595.14" r="1.05" fill="#111"/>
<polyline points="164.6,623.95 177.99,619.25 191.38,614.25 204.77,612.78 218.16,615.13 231.55,612.78 244.95,612.19 258.34,609.84 271.73,610.72 285.12,618.66 298.51,621.6 311.9,624.54" fill="none" stroke="#111" stroke-width="1.6" stroke-linejoin="round"/>
</g>
<rect x="157.2" y="548.2" width="162.1" height="117.7" fill="none" stroke="#8c8c8c" stroke-width="0.9"/>
<line x1="164.6" y1="665.9" x2="164.6" y2="667.5" stroke="#666" stroke-width="0.6"/>
<text x="164.6" y="673.9" font-size="5.9" text-anchor="middle" fill="#222">Jan</text>
<line x1="177.99" y1="665.9" x2="177.99" y2="667.5" stroke="#666" stroke-width="0.6"/>
<text x="177.99" y="673.9" font-size="5.9" text-anchor="middle" fill="#222">Feb</text>
<line x1="191.38" y1="665.9" x2="191.38" y2="667.5" stroke="#666" stroke-width="0.6"/>
<text x="191.38" y="673.9" font-size="5.9" text-anchor="middle" fill="#222">Mar</text>
<line x1="204.77" y1="665.9" x2="204.77" y2="667.5" stroke="#666" stroke-width="0.6"/>
<text x="204.77" y="673.9" font-size="5.9" text-anchor="middle" fill="#222">Apr</text>
<line x1="218.16" y1="665.9" x2="218.16" y2="667.5" stroke="#666" stroke-width="0.6"/>
<text x="218.16" y="673.9" font-size="5.9" text-anchor="middle" fill="#222">May</text>
<line x1="231.55" y1="665.9" x2="231.55" y2="667.5" stroke="#666" stroke-width="0.6"/>
<text x="231.55" y="673.9" font-size="5.9" text-anchor="middle" fill="#222">Jun</text>
<line x1="244.95" y1="665.9" x2="244.95" y2="667.5" stroke="#666" stroke-width="0.6"/>
<text x="244.95" y="673.9" font-size="5.9" text-anchor="middle" fill="#222">Jul</text>
<line x1="258.34" y1="665.9" x2="258.34" y2="667.5" stroke="#666" stroke-width="0.6"/>
<text x="258.34" y="673.9" font-size="5.9" text-anchor="middle" fill="#222">Aug</text>
<line x1="271.73" y1="665.9" x2="271.73" y2="667.5" stroke="#666" stroke-width="0.6"/>
<text x="271.73" y="673.9" font-size="5.9" text-anchor="middle" fill="#222">Sep</text>
<line x1="285.12" y1="665.9" x2="285.12" y2="667.5" stroke="#666" stroke-width="0.6"/>
<text x="285.12" y="673.9" font-size="5.9" text-anchor="middle" fill="#222">Oct</text>
<line x1="298.51" y1="665.9" x2="298.51" y2="667.5" stroke="#666" stroke-width="0.6"/>
<text x="298.51" y="673.9" font-size="5.9" text-anchor="middle" fill="#222">Nov</text>
<line x1="311.9" y1="665.9" x2="311.9" y2="667.5" stroke="#666" stroke-width="0.6"/>
<text x="311.9" y="673.9" font-size="5.9" text-anchor="middle" fill="#222">Dec</text>
<line x1="155.6" y1="665.7" x2="157.2" y2="665.7" stroke="#666" stroke-width="0.6"/>
<line x1="155.6" y1="651" x2="157.2" y2="651" stroke="#666" stroke-width="0.6"/>
<line x1="155.6" y1="636.3" x2="157.2" y2="636.3" stroke="#666" stroke-width="0.6"/>
<line x1="155.6" y1="621.6" x2="157.2" y2="621.6" stroke="#666" stroke-width="0.6"/>
<line x1="155.6" y1="606.9" x2="157.2" y2="606.9" stroke="#666" stroke-width="0.6"/>
<line x1="155.6" y1="592.2" x2="157.2" y2="592.2" stroke="#666" stroke-width="0.6"/>
<line x1="155.6" y1="577.5" x2="157.2" y2="577.5" stroke="#666" stroke-width="0.6"/>
<line x1="155.6" y1="562.8" x2="157.2" y2="562.8" stroke="#666" stroke-width="0.6"/>
<line x1="155.6" y1="548.1" x2="157.2" y2="548.1" stroke="#666" stroke-width="0.6"/>
<text x="160" y="558.2" font-size="10.2" font-weight="bold" fill="#111">p)</text>
<clipPath id="c21"><rect x="344.8" y="548.1" width="162" height="117.4"/></clipPath>
<g clip-path="url(#c21)">
<polygon points="352.2,618.66 365.58,617.19 378.96,614.25 392.35,608.37 405.73,603.96 419.11,598.08 432.49,595.73 445.87,598.08 459.25,606.9 472.64,615.72 486.02,620.13 499.4,624.54 499.4,646.59 486.02,652.47 472.64,659.82 459.25,664.23 445.87,668.64 432.49,668.64 419.11,667.17 405.73,664.23 392.35,659.82 378.96,653.94 365.58,648.06 352.2,645.12" fill="#e6edd0" fill-opacity="0.75"/>
<polygon points="352.2,601.02 365.58,590.73 378.96,574.56 392.35,556.92 405.73,553.98 419.11,552.51 432.49,551.63 445.87,551.04 459.25,552.51 472.64,568.68 486.02,589.26 499.4,605.43 499.4,618.66 486.02,608.37 472.64,596.61 459.25,586.32 445.87,589.26 432.49,587.79 419.11,586.91 405.73,585.73 392.35,589.26 378.96,601.02 365.58,615.72 352.2,623.07" fill="#e2b5b5" fill-opacity="0.4"/>
<polyline points="352.2,636.76 365.58,636.69 378.96,639.39 392.35,642.68 405.73,646.09 419.11,647.34 432.49,647.18 445.87,646.3 459.25,644.48 472.64,643.89 486.02,641.4 499.4,640.56" fill="none" stroke="#a6ad5c" stroke-width="0.5" stroke-opacity="0.55" stroke-linejoin="round"/>
<polyline points="352.2,633.87 365.58,636.25 378.96,640.84 392.35,643.86 405.73,644.96 419.11,643.28 432.49,641.75 445.87,642.03 459.25,643.24 472.64,645.22 486.02,643.18 499.4,640.61" fill="none" stroke="#a6ad5c" stroke-width="0.5" stroke-opacity="0.55" stroke-linejoin="round"/>
<polyline points="352.2,635.58 365.58,638.2 378.96,640.66 392.35,640.63 405.73,639.95 419.11,638.84 432.49,639.7 445.87,642.36 459.25,644.32 472.64,644.85 486.02,640.51 499.4,636.83" fill="none" stroke="#a6ad5c" stroke-width="0.5" stroke-opacity="0.55" stroke-linejoin="round"/>
<polyline points="352.2,636.11 365.58,635.9 378.96,636.38 392.35,636.54 405.73,638 419.11,639.03 432.49,640.37 445.87,641.43 459.25,641.12 472.64,640.41 486.02,637.07 499.4,636.16" fill="none" stroke="#a6ad5c" stroke-width="0.5" stroke-opacity="0.55" stroke-linejoin="round"/>
<polyline points="352.2,632.34 365.58,632.3 378.96,634.78 392.35,637.1 405.73,639.14 419.11,638.41 432.49,636.96 445.87,636.22 459.25,636.7 472.64,638.72 486.02,638.28 499.4,638.51" fill="none" stroke="#a6ad5c" stroke-width="0.5" stroke-opacity="0.55" stroke-linejoin="round"/>
<polyline points="352.2,630.86 365.58,633.29 378.96,636.6 392.35,637.3 405.73,636.42 419.11,633.36 432.49,631.88 445.87,633.38 459.25,636.88 472.64,640.4 486.02,639.06 499.4,636.97" fill="none" stroke="#a6ad5c" stroke-width="0.5" stroke-opacity="0.55" stroke-linejoin="round"/>
<polyline points="352.2,633.09 365.58,634.4 378.96,634.84 392.35,632.96 405.73,631.61 419.11,630.27 432.49,631.31 445.87,634.19 459.25,637.1 472.64,638.45 486.02,635.3 499.4,633.41" fill="none" stroke="#a6ad5c" stroke-width="0.5" stroke-opacity="0.55" stroke-linejoin="round"/>
<polyline points="352.2,632.08 365.58,630.88 378.96,630.6 392.35,630.14 405.73,631.19 419.11,631.1 432.49,631.25 445.87,631.71 459.25,632.7 472.64,634.08 486.02,633.15 499.4,634.27" fill="none" stroke="#a6ad5c" stroke-width="0.5" stroke-opacity="0.55" stroke-linejoin="round"/>
<polyline points="352.2,628.18 365.58,628.44 378.96,630.57 392.35,631.48 405.73,631.73 419.11,628.97 432.49,626.54 445.87,626.41 459.25,629.46 472.64,633.95 486.02,635.11 499.4,636" fill="none" stroke="#a6ad5c" stroke-width="0.5" stroke-opacity="0.55" stroke-linejoin="round"/>
<polyline points="352.2,628.29 365.58,630.34 378.96,631.94 392.35,630.22 405.73,627.64 419.11,623.67 432.49,622.52 445.87,625.14 459.25,630.53 472.64,635.15 486.02,634.42 499.4,633.1" fill="none" stroke="#a6ad5c" stroke-width="0.5" stroke-opacity="0.55" stroke-linejoin="round"/>
<polyline points="352.2,630.23 365.58,630.05 378.96,628.74 392.35,625.47 405.73,623.78 419.11,622.15 432.49,622.98 445.87,625.65 459.25,629.34 472.64,631.77 486.02,630.28 499.4,630.51" fill="none" stroke="#a6ad5c" stroke-width="0.5" stroke-opacity="0.55" stroke-linejoin="round"/>
<polyline points="352.2,627.71 365.58,625.98 378.96,625.31 392.35,624.22 405.73,624.5 419.11,622.83 432.49,621.58 445.87,621.66 459.25,624.41 472.64,628.24 486.02,629.7 499.4,632.48" fill="none" stroke="#a6ad5c" stroke-width="0.5" stroke-opacity="0.55" stroke-linejoin="round"/>
<polyline points="352.2,624.49 365.58,625.08 378.96,626.51 392.35,625.56 405.73,623.8 419.11,619.16 432.49,616.2 445.87,617.06 459.25,622.71 472.64,629.33 486.02,631.63 499.4,632.96" fill="none" stroke="#a6ad5c" stroke-width="0.5" stroke-opacity="0.55" stroke-linejoin="round"/>
<polyline points="352.2,625.92 365.58,627.15 378.96,626.75 392.35,622.73 405.73,618.89 419.11,614.42 432.49,613.69 445.87,617.11 459.25,623.91 472.64,629.38 486.02,629.37 499.4,629.27" fill="none" stroke="#a6ad5c" stroke-width="0.5" stroke-opacity="0.55" stroke-linejoin="round"/>
<polyline points="352.2,643 365.58,645.59 378.96,650.76 392.35,655.7 405.73,659.41 419.11,661.64 432.49,662.81 445.87,663 459.25,659.64 472.64,656.29 486.02,649.88 499.4,644.83" fill="none" stroke="#a6ad5c" stroke-width="0.5" stroke-opacity="0.55" stroke-linejoin="round"/>
<polyline points="352.2,640.36 365.58,642.5 378.96,646.8 392.35,650.56 405.73,653.38 419.11,654.73 432.49,655.52 445.87,655.94 459.25,653.91 472.64,651.88 486.02,646.65 499.4,642.62" fill="none" stroke="#a6ad5c" stroke-width="0.5" stroke-opacity="0.55" stroke-linejoin="round"/>
<polyline points="352.2,621.31 365.58,620.28 378.96,618.22 392.35,613.51 405.73,609.99 419.11,604.99 432.49,603.02 445.87,605.14 459.25,612.63 472.64,620.13 486.02,623.36 499.4,626.75" fill="none" stroke="#a6ad5c" stroke-width="0.5" stroke-opacity="0.55" stroke-linejoin="round"/>
<polyline points="352.2,619.14 365.58,611.96 378.96,598.2 392.35,586.38 405.73,582.53 419.11,582.27 432.49,582.14 445.87,583.6 459.25,582.26 472.64,594.19 486.02,606.97 499.4,617" fill="none" stroke="#c86a6a" stroke-width="0.5" stroke-opacity="0.6" stroke-linejoin="round"/>
<polyline points="352.2,614.17 365.58,606.84 378.96,592.26 392.35,577.9 405.73,573.49 419.11,572.88 432.49,573.34 445.87,575.1 459.25,574.71 472.64,587.12 486.02,601.2 499.4,612.71" fill="none" stroke="#c86a6a" stroke-width="0.5" stroke-opacity="0.6" stroke-linejoin="round"/>
<polyline points="352.2,609.78 365.58,601.27 378.96,585.25 392.35,568.71 405.73,564.76 419.11,564.52 432.49,565.36 445.87,566.44 459.25,566.18 472.64,579.15 486.02,595.43 499.4,609.32" fill="none" stroke="#c86a6a" stroke-width="0.5" stroke-opacity="0.6" stroke-linejoin="round"/>
<polyline points="352.2,604.94 365.58,594.62 378.96,577.53 392.35,559.83 405.73,557.06 419.11,556.98 432.49,557.22 445.87,556.8 459.25,556.73 472.64,571.18 486.02,590.58 499.4,606.92" fill="none" stroke="#c86a6a" stroke-width="0.5" stroke-opacity="0.6" stroke-linejoin="round"/>
<polyline points="352.2,601.02 365.58,590.73 378.96,574.56 392.35,556.92 405.73,553.98 419.11,552.51 432.49,551.63 445.87,551.04 459.25,552.51 472.64,568.68 486.02,589.26 499.4,605.43" fill="none" stroke="#c86a6a" stroke-width="0.5" stroke-opacity="0.6" stroke-linejoin="round"/>
<polyline points="352.2,623.07 365.58,615.72 378.96,601.02 392.35,589.26 405.73,585.73 419.11,586.91 432.49,587.79 445.87,589.26 459.25,586.32 472.64,596.61 486.02,608.37 499.4,618.66" fill="none" stroke="#c86a6a" stroke-width="0.5" stroke-opacity="0.6" stroke-linejoin="round"/>
<polyline points="352.2,636.3 365.58,636.3 378.96,636.3 392.35,636.3 405.73,636.3 419.11,636.3 432.49,636.3 445.87,636.3 459.25,636.3 472.64,636.3 486.02,636.3 499.4,636.3" fill="none" stroke="#8f9a35" stroke-width="1.6" stroke-linejoin="round"/>
<polyline points="352.2,612.78 365.58,604.55 378.96,590.73 392.35,575.15 405.73,568.68 419.11,566.33 432.49,565.15 445.87,565.15 459.25,568.68 472.64,583.97 486.02,601.02 499.4,614.25" fill="none" stroke="#b3302f" stroke-width="1.6" stroke-linejoin="round"/>
<polyline points="352.2,623.07 365.58,620.13 378.96,615.13 392.35,615.13 405.73,617.19 419.11,618.66 432.49,617.19 445.87,612.78 459.25,607.49 472.64,612.19 486.02,616.31 499.4,623.07" fill="none" stroke="#3aa03a" stroke-width="0.9" stroke-dasharray="3,1.6" stroke-linejoin="round"/>
<circle cx="352.2" cy="623.07" r="0.95" fill="#2e8b2e"/>
<circle cx="365.58" cy="620.13" r="0.95" fill="#2e8b2e"/>
<circle cx="378.96" cy="615.13" r="0.95" fill="#2e8b2e"/>
<circle cx="392.35" cy="615.13" r="0.95" fill="#2e8b2e"/>
<circle cx="405.73" cy="617.19" r="0.95" fill="#2e8b2e"/>
<circle cx="419.11" cy="618.66" r="0.95" fill="#2e8b2e"/>
<circle cx="432.49" cy="617.19" r="0.95" fill="#2e8b2e"/>
<circle cx="445.87" cy="612.78" r="0.95" fill="#2e8b2e"/>
<circle cx="459.25" cy="607.49" r="0.95" fill="#2e8b2e"/>
<circle cx="472.64" cy="612.19" r="0.95" fill="#2e8b2e"/>
<circle cx="486.02" cy="616.31" r="0.95" fill="#2e8b2e"/>
<circle cx="499.4" cy="623.07" r="0.95" fill="#2e8b2e"/>
<polyline points="352.2,639.24 365.58,639.83 378.96,640.42 392.35,640.71 405.73,639.24 419.11,640.71 432.49,642.18 445.87,640.71 459.25,639.24 472.64,640.71 486.02,639.83 499.4,639.24" fill="none" stroke="#3aa03a" stroke-width="0.9" stroke-dasharray="3,1.6" stroke-linejoin="round"/>
<circle cx="352.2" cy="639.24" r="0.95" fill="#2e8b2e"/>
<circle cx="365.58" cy="639.83" r="0.95" fill="#2e8b2e"/>
<circle cx="378.96" cy="640.42" r="0.95" fill="#2e8b2e"/>
<circle cx="392.35" cy="640.71" r="0.95" fill="#2e8b2e"/>
<circle cx="405.73" cy="639.24" r="0.95" fill="#2e8b2e"/>
<circle cx="419.11" cy="640.71" r="0.95" fill="#2e8b2e"/>
<circle cx="432.49" cy="642.18" r="0.95" fill="#2e8b2e"/>
<circle cx="445.87" cy="640.71" r="0.95" fill="#2e8b2e"/>
<circle cx="459.25" cy="639.24" r="0.95" fill="#2e8b2e"/>
<circle cx="472.64" cy="640.71" r="0.95" fill="#2e8b2e"/>
<circle cx="486.02" cy="639.83" r="0.95" fill="#2e8b2e"/>
<circle cx="499.4" cy="639.24" r="0.95" fill="#2e8b2e"/>
<polyline points="352.2,644.24 365.58,643.65 378.96,643.06 392.35,642.77 405.73,643.65 419.11,643.65 432.49,645.12 445.87,645.12 459.25,645.12 472.64,642.77 486.02,642.18 499.4,640.71" fill="none" stroke="#3aa03a" stroke-width="0.9" stroke-dasharray="3,1.6" stroke-linejoin="round"/>
<circle cx="352.2" cy="644.24" r="0.95" fill="#2e8b2e"/>
<circle cx="365.58" cy="643.65" r="0.95" fill="#2e8b2e"/>
<circle cx="378.96" cy="643.06" r="0.95" fill="#2e8b2e"/>
<circle cx="392.35" cy="642.77" r="0.95" fill="#2e8b2e"/>
<circle cx="405.73" cy="643.65" r="0.95" fill="#2e8b2e"/>
<circle cx="419.11" cy="643.65" r="0.95" fill="#2e8b2e"/>
<circle cx="432.49" cy="645.12" r="0.95" fill="#2e8b2e"/>
<circle cx="445.87" cy="645.12" r="0.95" fill="#2e8b2e"/>
<circle cx="459.25" cy="645.12" r="0.95" fill="#2e8b2e"/>
<circle cx="472.64" cy="642.77" r="0.95" fill="#2e8b2e"/>
<circle cx="486.02" cy="642.18" r="0.95" fill="#2e8b2e"/>
<circle cx="499.4" cy="640.71" r="0.95" fill="#2e8b2e"/>
<polyline points="352.2,644.24 365.58,645.12 378.96,647.18 392.35,647.47 405.73,645.71 419.11,646.59 432.49,648.06 445.87,648.06 459.25,649.53 472.64,645.12 486.02,643.65 499.4,642.18" fill="none" stroke="#3aa03a" stroke-width="0.9" stroke-dasharray="3,1.6" stroke-linejoin="round"/>
<circle cx="352.2" cy="644.24" r="0.95" fill="#2e8b2e"/>
<circle cx="365.58" cy="645.12" r="0.95" fill="#2e8b2e"/>
<circle cx="378.96" cy="647.18" r="0.95" fill="#2e8b2e"/>
<circle cx="392.35" cy="647.47" r="0.95" fill="#2e8b2e"/>
<circle cx="405.73" cy="645.71" r="0.95" fill="#2e8b2e"/>
<circle cx="419.11" cy="646.59" r="0.95" fill="#2e8b2e"/>
<circle cx="432.49" cy="648.06" r="0.95" fill="#2e8b2e"/>
<circle cx="445.87" cy="648.06" r="0.95" fill="#2e8b2e"/>
<circle cx="459.25" cy="649.53" r="0.95" fill="#2e8b2e"/>
<circle cx="472.64" cy="645.12" r="0.95" fill="#2e8b2e"/>
<circle cx="486.02" cy="643.65" r="0.95" fill="#2e8b2e"/>
<circle cx="499.4" cy="642.18" r="0.95" fill="#2e8b2e"/>
<polyline points="352.2,636.89 365.58,636.89 378.96,636.89 392.35,636.89 405.73,636.89 419.11,636.89 432.49,636.89 445.87,636.89 459.25,636.89 472.64,636.89 486.02,636.89 499.4,636.89" fill="none" stroke="#2ea02e" stroke-width="1.5" stroke-linejoin="round"/>
<polyline points="352.2,629.54 365.58,626.01 378.96,621.6 392.35,619.25 405.73,621.6 419.11,621.01 432.49,620.13 445.87,615.72 459.25,614.25 472.64,623.07 486.02,627.48 499.4,628.95" fill="none" stroke="#111" stroke-width="0.9" stroke-dasharray="3,1.6" stroke-linejoin="round"/>
<circle cx="352.2" cy="629.54" r="0.95" fill="#111"/>
<circle cx="365.58" cy="626.01" r="0.95" fill="#111"/>
<circle cx="378.96" cy="621.6" r="0.95" fill="#111"/>
<circle cx="392.35" cy="619.25" r="0.95" fill="#111"/>
<circle cx="405.73" cy="621.6" r="0.95" fill="#111"/>
<circle cx="419.11" cy="621.01" r="0.95" fill="#111"/>
<circle cx="432.49" cy="620.13" r="0.95" fill="#111"/>
<circle cx="445.87" cy="615.72" r="0.95" fill="#111"/>
<circle cx="459.25" cy="614.25" r="0.95" fill="#111"/>
<circle cx="472.64" cy="623.07" r="0.95" fill="#111"/>
<circle cx="486.02" cy="627.48" r="0.95" fill="#111"/>
<circle cx="499.4" cy="628.95" r="0.95" fill="#111"/>
<polyline points="352.2,632.77 365.58,627.48 378.96,623.36 392.35,621.6 405.73,622.19 419.11,621.01 432.49,620.13 445.87,615.13 459.25,618.66 472.64,626.01 486.02,628.95 499.4,632.77" fill="none" stroke="#111" stroke-width="0.9" stroke-dasharray="3,1.6" stroke-linejoin="round"/>
<circle cx="352.2" cy="632.77" r="0.95" fill="#111"/>
<circle cx="365.58" cy="627.48" r="0.95" fill="#111"/>
<circle cx="378.96" cy="623.36" r="0.95" fill="#111"/>
<circle cx="392.35" cy="621.6" r="0.95" fill="#111"/>
<circle cx="405.73" cy="622.19" r="0.95" fill="#111"/>
<circle cx="419.11" cy="621.01" r="0.95" fill="#111"/>
<circle cx="432.49" cy="620.13" r="0.95" fill="#111"/>
<circle cx="445.87" cy="615.13" r="0.95" fill="#111"/>
<circle cx="459.25" cy="618.66" r="0.95" fill="#111"/>
<circle cx="472.64" cy="626.01" r="0.95" fill="#111"/>
<circle cx="486.02" cy="628.95" r="0.95" fill="#111"/>
<circle cx="499.4" cy="632.77" r="0.95" fill="#111"/>
<polyline points="352.2,634.83 365.58,635.71 378.96,633.65 392.35,634.83 405.73,636.89 419.11,633.95 432.49,633.36 445.87,631.89 459.25,631.89 472.64,634.83 486.02,636.3 499.4,635.42" fill="none" stroke="#111" stroke-width="0.9" stroke-dasharray="3,1.6" stroke-linejoin="round"/>
<circle cx="352.2" cy="634.83" r="0.95" fill="#111"/>
<circle cx="365.58" cy="635.71" r="0.95" fill="#111"/>
<circle cx="378.96" cy="633.65" r="0.95" fill="#111"/>
<circle cx="392.35" cy="634.83" r="0.95" fill="#111"/>
<circle cx="405.73" cy="636.89" r="0.95" fill="#111"/>
<circle cx="419.11" cy="633.95" r="0.95" fill="#111"/>
<circle cx="432.49" cy="633.36" r="0.95" fill="#111"/>
<circle cx="445.87" cy="631.89" r="0.95" fill="#111"/>
<circle cx="459.25" cy="631.89" r="0.95" fill="#111"/>
<circle cx="472.64" cy="634.83" r="0.95" fill="#111"/>
<circle cx="486.02" cy="636.3" r="0.95" fill="#111"/>
<circle cx="499.4" cy="635.42" r="0.95" fill="#111"/>
<polyline points="352.2,595.73 365.58,587.79 378.96,578.38 392.35,578.38 405.73,584.26 419.11,582.2 432.49,581.03 445.87,576.91 459.25,578.38 472.64,589.26 486.02,590.73 499.4,595.14" fill="none" stroke="#111" stroke-width="0.9" stroke-dasharray="3,1.6" stroke-linejoin="round"/>
<circle cx="352.2" cy="595.73" r="1.05" fill="#111"/>
<circle cx="365.58" cy="587.79" r="1.05" fill="#111"/>
<circle cx="378.96" cy="578.38" r="1.05" fill="#111"/>
<circle cx="392.35" cy="578.38" r="1.05" fill="#111"/>
<circle cx="405.73" cy="584.26" r="1.05" fill="#111"/>
<circle cx="419.11" cy="582.2" r="1.05" fill="#111"/>
<circle cx="432.49" cy="581.03" r="1.05" fill="#111"/>
<circle cx="445.87" cy="576.91" r="1.05" fill="#111"/>
<circle cx="459.25" cy="578.38" r="1.05" fill="#111"/>
<circle cx="472.64" cy="589.26" r="1.05" fill="#111"/>
<circle cx="486.02" cy="590.73" r="1.05" fill="#111"/>
<circle cx="499.4" cy="595.14" r="1.05" fill="#111"/>
<polyline points="352.2,623.95 365.58,619.25 378.96,614.25 392.35,612.78 405.73,615.13 419.11,612.78 432.49,612.19 445.87,609.84 459.25,610.72 472.64,618.66 486.02,621.6 499.4,624.54" fill="none" stroke="#111" stroke-width="1.6" stroke-linejoin="round"/>
</g>
<rect x="344.8" y="548.1" width="162" height="117.4" fill="none" stroke="#8c8c8c" stroke-width="0.9"/>
<line x1="352.2" y1="665.5" x2="352.2" y2="667.1" stroke="#666" stroke-width="0.6"/>
<text x="352.2" y="673.5" font-size="5.9" text-anchor="middle" fill="#222">Jan</text>
<line x1="365.58" y1="665.5" x2="365.58" y2="667.1" stroke="#666" stroke-width="0.6"/>
<text x="365.58" y="673.5" font-size="5.9" text-anchor="middle" fill="#222">Feb</text>
<line x1="378.96" y1="665.5" x2="378.96" y2="667.1" stroke="#666" stroke-width="0.6"/>
<text x="378.96" y="673.5" font-size="5.9" text-anchor="middle" fill="#222">Mar</text>
<line x1="392.35" y1="665.5" x2="392.35" y2="667.1" stroke="#666" stroke-width="0.6"/>
<text x="392.35" y="673.5" font-size="5.9" text-anchor="middle" fill="#222">Apr</text>
<line x1="405.73" y1="665.5" x2="405.73" y2="667.1" stroke="#666" stroke-width="0.6"/>
<text x="405.73" y="673.5" font-size="5.9" text-anchor="middle" fill="#222">May</text>
<line x1="419.11" y1="665.5" x2="419.11" y2="667.1" stroke="#666" stroke-width="0.6"/>
<text x="419.11" y="673.5" font-size="5.9" text-anchor="middle" fill="#222">Jun</text>
<line x1="432.49" y1="665.5" x2="432.49" y2="667.1" stroke="#666" stroke-width="0.6"/>
<text x="432.49" y="673.5" font-size="5.9" text-anchor="middle" fill="#222">Jul</text>
<line x1="445.87" y1="665.5" x2="445.87" y2="667.1" stroke="#666" stroke-width="0.6"/>
<text x="445.87" y="673.5" font-size="5.9" text-anchor="middle" fill="#222">Aug</text>
<line x1="459.25" y1="665.5" x2="459.25" y2="667.1" stroke="#666" stroke-width="0.6"/>
<text x="459.25" y="673.5" font-size="5.9" text-anchor="middle" fill="#222">Sep</text>
<line x1="472.64" y1="665.5" x2="472.64" y2="667.1" stroke="#666" stroke-width="0.6"/>
<text x="472.64" y="673.5" font-size="5.9" text-anchor="middle" fill="#222">Oct</text>
<line x1="486.02" y1="665.5" x2="486.02" y2="667.1" stroke="#666" stroke-width="0.6"/>
<text x="486.02" y="673.5" font-size="5.9" text-anchor="middle" fill="#222">Nov</text>
<line x1="499.4" y1="665.5" x2="499.4" y2="667.1" stroke="#666" stroke-width="0.6"/>
<text x="499.4" y="673.5" font-size="5.9" text-anchor="middle" fill="#222">Dec</text>
<line x1="343.2" y1="665.7" x2="344.8" y2="665.7" stroke="#666" stroke-width="0.6"/>
<line x1="343.2" y1="651" x2="344.8" y2="651" stroke="#666" stroke-width="0.6"/>
<line x1="343.2" y1="636.3" x2="344.8" y2="636.3" stroke="#666" stroke-width="0.6"/>
<line x1="343.2" y1="621.6" x2="344.8" y2="621.6" stroke="#666" stroke-width="0.6"/>
<line x1="343.2" y1="606.9" x2="344.8" y2="606.9" stroke="#666" stroke-width="0.6"/>
<line x1="343.2" y1="592.2" x2="344.8" y2="592.2" stroke="#666" stroke-width="0.6"/>
<line x1="343.2" y1="577.5" x2="344.8" y2="577.5" stroke="#666" stroke-width="0.6"/>
<line x1="343.2" y1="562.8" x2="344.8" y2="562.8" stroke="#666" stroke-width="0.6"/>
<line x1="343.2" y1="548.1" x2="344.8" y2="548.1" stroke="#666" stroke-width="0.6"/>
<text x="342.6" y="667.9" font-size="6.1" text-anchor="end" fill="#222">−1.0</text>
<text x="342.6" y="653.2" font-size="6.1" text-anchor="end" fill="#222">−0.5</text>
<text x="342.6" y="638.5" font-size="6.1" text-anchor="end" fill="#222">0.0</text>
<text x="342.6" y="623.8" font-size="6.1" text-anchor="end" fill="#222">0.5</text>
<text x="342.6" y="609.1" font-size="6.1" text-anchor="end" fill="#222">1.0</text>
<text x="342.6" y="594.4" font-size="6.1" text-anchor="end" fill="#222">1.5</text>
<text x="342.6" y="579.7" font-size="6.1" text-anchor="end" fill="#222">2.0</text>
<text x="342.6" y="565" font-size="6.1" text-anchor="end" fill="#222">2.5</text>
<text x="342.6" y="550.3" font-size="6.1" text-anchor="end" fill="#222">3.0</text>
<text x="347.2" y="558.1" font-size="10.2" font-weight="bold" fill="#111">q)</text>
<text transform="translate(329.8,605.9) rotate(-90)" font-size="6.45" text-anchor="middle" fill="#222">Minimum temperature anomaly (°C)</text>
<clipPath id="c22"><rect x="514.7" y="547.3" width="144.8" height="117.8"/></clipPath>
<g clip-path="url(#c22)">
<rect x="514.7" y="547.3" width="144.8" height="117.8" fill="#fff"/>
<g transform="matrix(8.09,-0.32,0.73,5.38,505.84,554.47)">
<rect x="0" y="0" width="1.11" height="1.17" fill="#c8c8fc"/>
<rect x="1" y="0" width="1.11" height="1.17" fill="#bebefc"/>
<rect x="2" y="0" width="1.11" height="1.17" fill="#b9b9fb"/>
<rect x="3" y="0" width="1.11" height="1.17" fill="#aaaafb"/>
<rect x="4" y="0" width="1.11" height="1.17" fill="#b4b4fb"/>
<rect x="5" y="0" width="1.11" height="1.17" fill="#b9b9fb"/>
<rect x="6" y="0" width="1.11" height="1.17" fill="#c3c3fc"/>
<rect x="7" y="0" width="1.11" height="1.17" fill="#d7d7fd"/>
<rect x="8" y="0" width="1.11" height="1.17" fill="#e1e1fd"/>
<rect x="9" y="0" width="1.11" height="1.17" fill="#fefcfc"/>
<rect x="10" y="0" width="1.11" height="1.17" fill="#ebebfe"/>
<rect x="11" y="0" width="1.11" height="1.17" fill="#e6e6fd"/>
<rect x="12" y="0" width="1.11" height="1.17" fill="#f0f0fe"/>
<rect x="13" y="0" width="1.11" height="1.17" fill="#ebebfe"/>
<rect x="14" y="0" width="1.11" height="1.17" fill="#e1e1fd"/>
<rect x="15" y="0" width="1.11" height="1.17" fill="#d7d7fd"/>
<rect x="16" y="0" width="1.11" height="1.17" fill="#cdcdfc"/>
<rect x="17" y="0" width="1.11" height="1.17" fill="#bebefc"/>
<rect x="18" y="0" width="1.11" height="1.17" fill="#c8c8fc"/>
<rect x="0" y="1" width="1.11" height="1.17" fill="#afaffb"/>
<rect x="1" y="1" width="1.11" height="1.17" fill="#a5a5fb"/>
<rect x="2" y="1" width="1.11" height="1.17" fill="#9696fa"/>
<rect x="3" y="1" width="1.11" height="1.17" fill="#9191fa"/>
<rect x="4" y="1" width="1.11" height="1.17" fill="#a0a0fa"/>
<rect x="5" y="1" width="1.11" height="1.17" fill="#aaaafb"/>
<rect x="6" y="1" width="1.11" height="1.17" fill="#b4b4fb"/>
<rect x="7" y="1" width="1.11" height="1.17" fill="#cdcdfc"/>
<rect x="8" y="1" width="1.11" height="1.17" fill="#dcdcfd"/>
<rect x="9" y="1" width="1.11" height="1.17" fill="#ebebfe"/>
<rect x="10" y="1" width="1.11" height="1.17" fill="#f5f5fe"/>
<rect x="11" y="1" width="1.11" height="1.17" fill="#f0f0fe"/>
<rect x="12" y="1" width="1.11" height="1.17" fill="#ebebfe"/>
<rect x="13" y="1" width="1.11" height="1.17" fill="#f0f0fe"/>
<rect x="14" y="1" width="1.11" height="1.17" fill="#fefcfc"/>
<rect x="15" y="1" width="1.11" height="1.17" fill="#e1e1fd"/>
<rect x="16" y="1" width="1.11" height="1.17" fill="#d7d7fd"/>
<rect x="17" y="1" width="1.11" height="1.17" fill="#cdcdfc"/>
<rect x="18" y="1" width="1.11" height="1.17" fill="#d2d2fd"/>
<rect x="0" y="2" width="1.11" height="1.17" fill="#afaffb"/>
<rect x="1" y="2" width="1.11" height="1.17" fill="#a0a0fa"/>
<rect x="2" y="2" width="1.11" height="1.17" fill="#9191fa"/>
<rect x="3" y="2" width="1.11" height="1.17" fill="#8c8cf9"/>
<rect x="4" y="2" width="1.11" height="1.17" fill="#9696fa"/>
<rect x="5" y="2" width="1.11" height="1.17" fill="#a5a5fb"/>
<rect x="6" y="2" width="1.11" height="1.17" fill="#b9b9fb"/>
<rect x="7" y="2" width="1.11" height="1.17" fill="#d2d2fd"/>
<rect x="8" y="2" width="1.11" height="1.17" fill="#e1e1fd"/>
<rect x="9" y="2" width="1.11" height="1.17" fill="#ebebfe"/>
<rect x="10" y="2" width="1.11" height="1.17" fill="#f0f0fe"/>
<rect x="11" y="2" width="1.11" height="1.17" fill="#f5f5fe"/>
<rect x="12" y="2" width="1.11" height="1.17" fill="#f0f0fe"/>
<rect x="13" y="2" width="1.11" height="1.17" fill="#ebebfe"/>
<rect x="14" y="2" width="1.11" height="1.17" fill="#e6e6fd"/>
<rect x="15" y="2" width="1.11" height="1.17" fill="#c8c8fc"/>
<rect x="16" y="2" width="1.11" height="1.17" fill="#d7d7fd"/>
<rect x="17" y="2" width="1.11" height="1.17" fill="#e1e1fd"/>
<rect x="18" y="2" width="1.11" height="1.17" fill="#dcdcfd"/>
<rect x="0" y="3" width="1.11" height="1.17" fill="#bebefc"/>
<rect x="1" y="3" width="1.11" height="1.17" fill="#aaaafb"/>
<rect x="2" y="3" width="1.11" height="1.17" fill="#a5a5fb"/>
<rect x="3" y="3" width="1.11" height="1.17" fill="#a5a5fb"/>
<rect x="4" y="3" width="1.11" height="1.17" fill="#afaffb"/>
<rect x="5" y="3" width="1.11" height="1.17" fill="#c3c3fc"/>
<rect x="6" y="3" width="1.11" height="1.17" fill="#d2d2fd"/>
<rect x="7" y="3" width="1.11" height="1.17" fill="#e1e1fd"/>
<rect x="8" y="3" width="1.11" height="1.17" fill="#e6e6fd"/>
<rect x="9" y="3" width="1.11" height="1.17" fill="#f0f0fe"/>
<rect x="10" y="3" width="1.11" height="1.17" fill="#ebebfe"/>
<rect x="11" y="3" width="1.11" height="1.17" fill="#d7d7fd"/>
<rect x="12" y="3" width="1.11" height="1.17" fill="#c8c8fc"/>
<rect x="13" y="3" width="1.11" height="1.17" fill="#e6e6fd"/>
<rect x="14" y="3" width="1.11" height="1.17" fill="#fdf2f5"/>
<rect x="15" y="3" width="1.11" height="1.17" fill="#c3c3fc"/>
<rect x="16" y="3" width="1.11" height="1.17" fill="#e1e1fd"/>
<rect x="17" y="3" width="1.11" height="1.17" fill="#ebebfe"/>
<rect x="18" y="3" width="1.11" height="1.17" fill="#e1e1fd"/>
<rect x="0" y="4" width="1.11" height="1.17" fill="#d2d2fd"/>
<rect x="1" y="4" width="1.11" height="1.17" fill="#c8c8fc"/>
<rect x="2" y="4" width="1.11" height="1.17" fill="#bebefc"/>
<rect x="3" y="4" width="1.11" height="1.17" fill="#b9b9fb"/>
<rect x="4" y="4" width="1.11" height="1.17" fill="#c8c8fc"/>
<rect x="5" y="4" width="1.11" height="1.17" fill="#d7d7fd"/>
<rect x="6" y="4" width="1.11" height="1.17" fill="#ebebfe"/>
<rect x="7" y="4" width="1.11" height="1.17" fill="#f5f5fe"/>
<rect x="8" y="4" width="1.11" height="1.17" fill="#fefcfc"/>
<rect x="9" y="4" width="1.11" height="1.17" fill="#f0f0fe"/>
<rect x="10" y="4" width="1.11" height="1.17" fill="#e6e6fd"/>
<rect x="11" y="4" width="1.11" height="1.17" fill="#d7d7fd"/>
<rect x="12" y="4" width="1.11" height="1.17" fill="#afaffb"/>
<rect x="13" y="4" width="1.11" height="1.17" fill="#d7d7fd"/>
<rect x="14" y="4" width="1.11" height="1.17" fill="#fcebee"/>
<rect x="15" y="4" width="1.11" height="1.17" fill="#f0f0fe"/>
<rect x="16" y="4" width="1.11" height="1.17" fill="#e6e6fd"/>
<rect x="17" y="4" width="1.11" height="1.17" fill="#ebebfe"/>
<rect x="18" y="4" width="1.11" height="1.17" fill="#e6e6fd"/>
<rect x="0" y="5" width="1.11" height="1.17" fill="#c8c8fc"/>
<rect x="1" y="5" width="1.11" height="1.17" fill="#d2d2fd"/>
<rect x="2" y="5" width="1.11" height="1.17" fill="#cdcdfc"/>
<rect x="3" y="5" width="1.11" height="1.17" fill="#c8c8fc"/>
<rect x="4" y="5" width="1.11" height="1.17" fill="#d2d2fd"/>
<rect x="5" y="5" width="1.11" height="1.17" fill="#e1e1fd"/>
<rect x="6" y="5" width="1.11" height="1.17" fill="#ebebfe"/>
<rect x="7" y="5" width="1.11" height="1.17" fill="#f5f5fe"/>
<rect x="8" y="5" width="1.11" height="1.17" fill="#f0f0fe"/>
<rect x="9" y="5" width="1.11" height="1.17" fill="#f5f5fe"/>
<rect x="10" y="5" width="1.11" height="1.17" fill="#ebebfe"/>
<rect x="11" y="5" width="1.11" height="1.17" fill="#d2d2fd"/>
<rect x="12" y="5" width="1.11" height="1.17" fill="#bebefc"/>
<rect x="13" y="5" width="1.11" height="1.17" fill="#e1e1fd"/>
<rect x="14" y="5" width="1.11" height="1.17" fill="#f0f0fe"/>
<rect x="15" y="5" width="1.11" height="1.17" fill="#ebebfe"/>
<rect x="16" y="5" width="1.11" height="1.17" fill="#f0f0fe"/>
<rect x="17" y="5" width="1.11" height="1.17" fill="#f5f5fe"/>
<rect x="18" y="5" width="1.11" height="1.17" fill="#f0f0fe"/>
<rect x="0" y="6" width="1.11" height="1.17" fill="#d7d7fd"/>
<rect x="1" y="6" width="1.11" height="1.17" fill="#dcdcfd"/>
<rect x="2" y="6" width="1.11" height="1.17" fill="#d7d7fd"/>
<rect x="3" y="6" width="1.11" height="1.17" fill="#dcdcfd"/>
<rect x="4" y="6" width="1.11" height="1.17" fill="#e1e1fd"/>
<rect x="5" y="6" width="1.11" height="1.17" fill="#e6e6fd"/>
<rect x="6" y="6" width="1.11" height="1.17" fill="#f0f0fe"/>
<rect x="7" y="6" width="1.11" height="1.17" fill="#fdf6f9"/>
<rect x="8" y="6" width="1.11" height="1.17" fill="#f0f0fe"/>
<rect x="9" y="6" width="1.11" height="1.17" fill="#fcf0f3"/>
<rect x="10" y="6" width="1.11" height="1.17" fill="#e6e6fd"/>
<rect x="11" y="6" width="1.11" height="1.17" fill="#d2d2fd"/>
<rect x="12" y="6" width="1.11" height="1.17" fill="#c8c8fc"/>
<rect x="13" y="6" width="1.11" height="1.17" fill="#d7d7fd"/>
<rect x="14" y="6" width="1.11" height="1.17" fill="#ebebfe"/>
<rect x="15" y="6" width="1.11" height="1.17" fill="#f0f0fe"/>
<rect x="16" y="6" width="1.11" height="1.17" fill="#ebebfe"/>
<rect x="17" y="6" width="1.11" height="1.17" fill="#e6e6fd"/>
<rect x="18" y="6" width="1.11" height="1.17" fill="#e1e1fd"/>
<rect x="0" y="7" width="1.11" height="1.17" fill="#cdcdfc"/>
<rect x="1" y="7" width="1.11" height="1.17" fill="#d7d7fd"/>
<rect x="2" y="7" width="1.11" height="1.17" fill="#dcdcfd"/>
<rect x="3" y="7" width="1.11" height="1.17" fill="#e1e1fd"/>
<rect x="4" y="7" width="1.11" height="1.17" fill="#e6e6fd"/>
<rect x="5" y="7" width="1.11" height="1.17" fill="#ebebfe"/>
<rect x="6" y="7" width="1.11" height="1.17" fill="#fefcfc"/>
<rect x="7" y="7" width="1.11" height="1.17" fill="#fefcfc"/>
<rect x="8" y="7" width="1.11" height="1.17" fill="#fceef1"/>
<rect x="9" y="7" width="1.11" height="1.17" fill="#d2d2fd"/>
<rect x="10" y="7" width="1.11" height="1.17" fill="#c8c8fc"/>
<rect x="11" y="7" width="1.11" height="1.17" fill="#ebebfe"/>
<rect x="12" y="7" width="1.11" height="1.17" fill="#f5f5fe"/>
<rect x="13" y="7" width="1.11" height="1.17" fill="#f0f0fe"/>
<rect x="14" y="7" width="1.11" height="1.17" fill="#f5f5fe"/>
<rect x="15" y="7" width="1.11" height="1.17" fill="#f0f0fe"/>
<rect x="16" y="7" width="1.11" height="1.17" fill="#dcdcfd"/>
<rect x="17" y="7" width="1.11" height="1.17" fill="#d7d7fd"/>
<rect x="18" y="7" width="1.11" height="1.17" fill="#cdcdfc"/>
<rect x="0" y="8" width="1.11" height="1.17" fill="#c3c3fc"/>
<rect x="1" y="8" width="1.11" height="1.17" fill="#dcdcfd"/>
<rect x="2" y="8" width="1.11" height="1.17" fill="#e1e1fd"/>
<rect x="3" y="8" width="1.11" height="1.17" fill="#e6e6fd"/>
<rect x="4" y="8" width="1.11" height="1.17" fill="#f0f0fe"/>
<rect x="5" y="8" width="1.11" height="1.17" fill="#fdf6f9"/>
<rect x="6" y="8" width="1.11" height="1.17" fill="#f5f5fe"/>
<rect x="7" y="8" width="1.11" height="1.17" fill="#fceaed"/>
<rect x="8" y="8" width="1.11" height="1.17" fill="#f36e71"/>
<rect x="9" y="8" width="1.11" height="1.17" fill="#fce5e8"/>
<rect x="10" y="8" width="1.11" height="1.17" fill="#fce8eb"/>
<rect x="11" y="8" width="1.11" height="1.17" fill="#fdf2f5"/>
<rect x="12" y="8" width="1.11" height="1.17" fill="#f5f5fe"/>
<rect x="13" y="8" width="1.11" height="1.17" fill="#f0f0fe"/>
<rect x="14" y="8" width="1.11" height="1.17" fill="#ebebfe"/>
<rect x="15" y="8" width="1.11" height="1.17" fill="#e6e6fd"/>
<rect x="16" y="8" width="1.11" height="1.17" fill="#e1e1fd"/>
<rect x="17" y="8" width="1.11" height="1.17" fill="#d7d7fd"/>
<rect x="18" y="8" width="1.11" height="1.17" fill="#cdcdfc"/>
<rect x="0" y="9" width="1.11" height="1.17" fill="#d2d2fd"/>
<rect x="1" y="9" width="1.11" height="1.17" fill="#dcdcfd"/>
<rect x="2" y="9" width="1.11" height="1.17" fill="#e6e6fd"/>
<rect x="3" y="9" width="1.11" height="1.17" fill="#f0f0fe"/>
<rect x="4" y="9" width="1.11" height="1.17" fill="#fefcfc"/>
<rect x="5" y="9" width="1.11" height="1.17" fill="#fceef1"/>
<rect x="6" y="9" width="1.11" height="1.17" fill="#fceaed"/>
<rect x="7" y="9" width="1.11" height="1.17" fill="#f7a1a4"/>
<rect x="8" y="9" width="1.11" height="1.17" fill="#f15053"/>
<rect x="9" y="9" width="1.11" height="1.17" fill="#f14b4e"/>
<rect x="10" y="9" width="1.11" height="1.17" fill="#fbe1e4"/>
<rect x="11" y="9" width="1.11" height="1.17" fill="#fce5e8"/>
<rect x="12" y="9" width="1.11" height="1.17" fill="#ebebfe"/>
<rect x="13" y="9" width="1.11" height="1.17" fill="#e6e6fd"/>
<rect x="14" y="9" width="1.11" height="1.17" fill="#fdf6f9"/>
<rect x="15" y="9" width="1.11" height="1.17" fill="#f0f0fe"/>
<rect x="16" y="9" width="1.11" height="1.17" fill="#e6e6fd"/>
<rect x="17" y="9" width="1.11" height="1.17" fill="#f0f0fe"/>
<rect x="18" y="9" width="1.11" height="1.17" fill="#ebebfe"/>
<rect x="0" y="10" width="1.11" height="1.17" fill="#c8c8fc"/>
<rect x="1" y="10" width="1.11" height="1.17" fill="#d7d7fd"/>
<rect x="2" y="10" width="1.11" height="1.17" fill="#e1e1fd"/>
<rect x="3" y="10" width="1.11" height="1.17" fill="#c3c3fc"/>
<rect x="4" y="10" width="1.11" height="1.17" fill="#ebebfe"/>
<rect x="5" y="10" width="1.11" height="1.17" fill="#f5f5fe"/>
<rect x="6" y="10" width="1.11" height="1.17" fill="#fefcfc"/>
<rect x="7" y="10" width="1.11" height="1.17" fill="#f5888b"/>
<rect x="8" y="10" width="1.11" height="1.17" fill="#f14b4e"/>
<rect x="9" y="10" width="1.11" height="1.17" fill="#f25558"/>
<rect x="10" y="10" width="1.11" height="1.17" fill="#fbdde0"/>
<rect x="11" y="10" width="1.11" height="1.17" fill="#fce8eb"/>
<rect x="12" y="10" width="1.11" height="1.17" fill="#fdf6f9"/>
<rect x="13" y="10" width="1.11" height="1.17" fill="#f0f0fe"/>
<rect x="14" y="10" width="1.11" height="1.17" fill="#fefcfc"/>
<rect x="15" y="10" width="1.11" height="1.17" fill="#fdf2f5"/>
<rect x="16" y="10" width="1.11" height="1.17" fill="#fceef1"/>
<rect x="17" y="10" width="1.11" height="1.17" fill="#fdf2f5"/>
<rect x="18" y="10" width="1.11" height="1.17" fill="#fdf4f7"/>
<rect x="0" y="11" width="1.11" height="1.17" fill="#d2d2fd"/>
<rect x="1" y="11" width="1.11" height="1.17" fill="#e1e1fd"/>
<rect x="2" y="11" width="1.11" height="1.17" fill="#ebebfe"/>
<rect x="3" y="11" width="1.11" height="1.17" fill="#f0f0fe"/>
<rect x="4" y="11" width="1.11" height="1.17" fill="#c3c3fc"/>
<rect x="5" y="11" width="1.11" height="1.17" fill="#e6e6fd"/>
<rect x="6" y="11" width="1.11" height="1.17" fill="#fceef1"/>
<rect x="7" y="11" width="1.11" height="1.17" fill="#fce5e8"/>
<rect x="8" y="11" width="1.11" height="1.17" fill="#f47b7e"/>
<rect x="9" y="11" width="1.11" height="1.17" fill="#fbdde0"/>
<rect x="10" y="11" width="1.11" height="1.17" fill="#fce5e8"/>
<rect x="11" y="11" width="1.11" height="1.17" fill="#fcebee"/>
<rect x="12" y="11" width="1.11" height="1.17" fill="#fcf0f3"/>
<rect x="13" y="11" width="1.11" height="1.17" fill="#fceef1"/>
<rect x="14" y="11" width="1.11" height="1.17" fill="#fcebee"/>
<rect x="15" y="11" width="1.11" height="1.17" fill="#fceaed"/>
<rect x="16" y="11" width="1.11" height="1.17" fill="#fce8eb"/>
<rect x="17" y="11" width="1.11" height="1.17" fill="#fcebee"/>
<rect x="18" y="11" width="1.11" height="1.17" fill="#fceef1"/>
<rect x="0" y="12" width="1.11" height="1.17" fill="#d7d7fd"/>
<rect x="1" y="12" width="1.11" height="1.17" fill="#e6e6fd"/>
<rect x="2" y="12" width="1.11" height="1.17" fill="#f0f0fe"/>
<rect x="3" y="12" width="1.11" height="1.17" fill="#fdf6f9"/>
<rect x="4" y="12" width="1.11" height="1.17" fill="#fdf2f5"/>
<rect x="5" y="12" width="1.11" height="1.17" fill="#fdf2f5"/>
<rect x="6" y="12" width="1.11" height="1.17" fill="#fcf0f3"/>
<rect x="7" y="12" width="1.11" height="1.17" fill="#fceef1"/>
<rect x="8" y="12" width="1.11" height="1.17" fill="#fbe1e4"/>
<rect x="9" y="12" width="1.11" height="1.17" fill="#fce5e8"/>
<rect x="10" y="12" width="1.11" height="1.17" fill="#fceef1"/>
<rect x="11" y="12" width="1.11" height="1.17" fill="#fdf2f5"/>
<rect x="12" y="12" width="1.11" height="1.17" fill="#f0f0fe"/>
<rect x="13" y="12" width="1.11" height="1.17" fill="#fcebee"/>
<rect x="14" y="12" width="1.11" height="1.17" fill="#fce8eb"/>
<rect x="15" y="12" width="1.11" height="1.17" fill="#fce5e8"/>
<rect x="16" y="12" width="1.11" height="1.17" fill="#fce5e8"/>
<rect x="17" y="12" width="1.11" height="1.17" fill="#fce5e8"/>
<rect x="18" y="12" width="1.11" height="1.17" fill="#fceaed"/>
<rect x="0" y="13" width="1.11" height="1.17" fill="#dcdcfd"/>
<rect x="1" y="13" width="1.11" height="1.17" fill="#ebebfe"/>
<rect x="2" y="13" width="1.11" height="1.17" fill="#fdf6f9"/>
<rect x="3" y="13" width="1.11" height="1.17" fill="#fcf0f3"/>
<rect x="4" y="13" width="1.11" height="1.17" fill="#fcebee"/>
<rect x="5" y="13" width="1.11" height="1.17" fill="#fce8eb"/>
<rect x="6" y="13" width="1.11" height="1.17" fill="#fcebee"/>
<rect x="7" y="13" width="1.11" height="1.17" fill="#fdf2f5"/>
<rect x="8" y="13" width="1.11" height="1.17" fill="#fdf2f5"/>
<rect x="9" y="13" width="1.11" height="1.17" fill="#e6e6fd"/>
<rect x="10" y="13" width="1.11" height="1.17" fill="#cdcdfc"/>
<rect x="11" y="13" width="1.11" height="1.17" fill="#fdf2f5"/>
<rect x="12" y="13" width="1.11" height="1.17" fill="#fce5e8"/>
<rect x="13" y="13" width="1.11" height="1.17" fill="#fbdfe2"/>
<rect x="14" y="13" width="1.11" height="1.17" fill="#fbe1e4"/>
<rect x="15" y="13" width="1.11" height="1.17" fill="#fce5e8"/>
<rect x="16" y="13" width="1.11" height="1.17" fill="#fce3e6"/>
<rect x="17" y="13" width="1.11" height="1.17" fill="#fce8eb"/>
<rect x="18" y="13" width="1.11" height="1.17" fill="#fcebee"/>
<rect x="0" y="14" width="1.11" height="1.17" fill="#e6e6fd"/>
<rect x="1" y="14" width="1.11" height="1.17" fill="#fdf6f9"/>
<rect x="2" y="14" width="1.11" height="1.17" fill="#fceef1"/>
<rect x="3" y="14" width="1.11" height="1.17" fill="#fce8eb"/>
<rect x="4" y="14" width="1.11" height="1.17" fill="#fce3e6"/>
<rect x="5" y="14" width="1.11" height="1.17" fill="#fbe1e4"/>
<rect x="6" y="14" width="1.11" height="1.17" fill="#fce5e8"/>
<rect x="7" y="14" width="1.11" height="1.17" fill="#fcebee"/>
<rect x="8" y="14" width="1.11" height="1.17" fill="#fcf0f3"/>
<rect x="9" y="14" width="1.11" height="1.17" fill="#e1e1fd"/>
<rect x="10" y="14" width="1.11" height="1.17" fill="#c8c8fc"/>
<rect x="11" y="14" width="1.11" height="1.17" fill="#fce8eb"/>
<rect x="12" y="14" width="1.11" height="1.17" fill="#fbdfe2"/>
<rect x="13" y="14" width="1.11" height="1.17" fill="#fbdde0"/>
<rect x="14" y="14" width="1.11" height="1.17" fill="#fbdfe2"/>
<rect x="15" y="14" width="1.11" height="1.17" fill="#fce5e8"/>
<rect x="16" y="14" width="1.11" height="1.17" fill="#fceef1"/>
<rect x="17" y="14" width="1.11" height="1.17" fill="#fdf2f5"/>
<rect x="18" y="14" width="1.11" height="1.17" fill="#fdf6f9"/>
<rect x="0" y="15" width="1.11" height="1.17" fill="#f0f0fe"/>
<rect x="1" y="15" width="1.11" height="1.17" fill="#fcf0f3"/>
<rect x="2" y="15" width="1.11" height="1.17" fill="#fce8eb"/>
<rect x="3" y="15" width="1.11" height="1.17" fill="#fce3e6"/>
<rect x="4" y="15" width="1.11" height="1.17" fill="#fbdde0"/>
<rect x="5" y="15" width="1.11" height="1.17" fill="#fbdfe2"/>
<rect x="6" y="15" width="1.11" height="1.17" fill="#fce3e6"/>
<rect x="7" y="15" width="1.11" height="1.17" fill="#fce5e8"/>
<rect x="8" y="15" width="1.11" height="1.17" fill="#fce8eb"/>
<rect x="9" y="15" width="1.11" height="1.17" fill="#fcebee"/>
<rect x="10" y="15" width="1.11" height="1.17" fill="#fce5e8"/>
<rect x="11" y="15" width="1.11" height="1.17" fill="#fbe1e4"/>
<rect x="12" y="15" width="1.11" height="1.17" fill="#fbdde0"/>
<rect x="13" y="15" width="1.11" height="1.17" fill="#fbe1e4"/>
<rect x="14" y="15" width="1.11" height="1.17" fill="#fce8eb"/>
<rect x="15" y="15" width="1.11" height="1.17" fill="#fceef1"/>
<rect x="16" y="15" width="1.11" height="1.17" fill="#f0f0fe"/>
<rect x="17" y="15" width="1.11" height="1.17" fill="#ebebfe"/>
<rect x="18" y="15" width="1.11" height="1.17" fill="#f0f0fe"/>
<rect x="0" y="16" width="1.11" height="1.17" fill="#fdf6f9"/>
<rect x="1" y="16" width="1.11" height="1.17" fill="#fcebee"/>
<rect x="2" y="16" width="1.11" height="1.17" fill="#fce3e6"/>
<rect x="3" y="16" width="1.11" height="1.17" fill="#fbdfe2"/>
<rect x="4" y="16" width="1.11" height="1.17" fill="#fbdde0"/>
<rect x="5" y="16" width="1.11" height="1.17" fill="#fce3e6"/>
<rect x="6" y="16" width="1.11" height="1.17" fill="#fcebee"/>
<rect x="7" y="16" width="1.11" height="1.17" fill="#fdf2f5"/>
<rect x="8" y="16" width="1.11" height="1.17" fill="#fcebee"/>
<rect x="9" y="16" width="1.11" height="1.17" fill="#fce5e8"/>
<rect x="10" y="16" width="1.11" height="1.17" fill="#fce3e6"/>
<rect x="11" y="16" width="1.11" height="1.17" fill="#fce5e8"/>
<rect x="12" y="16" width="1.11" height="1.17" fill="#fcebee"/>
<rect x="13" y="16" width="1.11" height="1.17" fill="#fdf2f5"/>
<rect x="14" y="16" width="1.11" height="1.17" fill="#ebebfe"/>
<rect x="15" y="16" width="1.11" height="1.17" fill="#e1e1fd"/>
<rect x="16" y="16" width="1.11" height="1.17" fill="#ebebfe"/>
<rect x="17" y="16" width="1.11" height="1.17" fill="#fdf6f9"/>
<rect x="18" y="16" width="1.11" height="1.17" fill="#fdf9fc"/>
<rect x="0" y="17" width="1.11" height="1.17" fill="#fdf2f5"/>
<rect x="1" y="17" width="1.11" height="1.17" fill="#fce8eb"/>
<rect x="2" y="17" width="1.11" height="1.17" fill="#fbe1e4"/>
<rect x="3" y="17" width="1.11" height="1.17" fill="#fce5e8"/>
<rect x="4" y="17" width="1.11" height="1.17" fill="#fceef1"/>
<rect x="5" y="17" width="1.11" height="1.17" fill="#fdf6f9"/>
<rect x="6" y="17" width="1.11" height="1.17" fill="#fefcfc"/>
<rect x="7" y="17" width="1.11" height="1.17" fill="#e1e1fd"/>
<rect x="8" y="17" width="1.11" height="1.17" fill="#fceef1"/>
<rect x="9" y="17" width="1.11" height="1.17" fill="#fceaed"/>
<rect x="10" y="17" width="1.11" height="1.17" fill="#fcebee"/>
<rect x="11" y="17" width="1.11" height="1.17" fill="#fcf0f3"/>
<rect x="12" y="17" width="1.11" height="1.17" fill="#fdf6f9"/>
<rect x="13" y="17" width="1.11" height="1.17" fill="#f0f0fe"/>
<rect x="14" y="17" width="1.11" height="1.17" fill="#e6e6fd"/>
<rect x="15" y="17" width="1.11" height="1.17" fill="#fdf6f9"/>
<rect x="16" y="17" width="1.11" height="1.17" fill="#fdf2f5"/>
<rect x="17" y="17" width="1.11" height="1.17" fill="#fdf4f7"/>
<rect x="18" y="17" width="1.11" height="1.17" fill="#fdf6f9"/>
<rect x="0" y="18" width="1.11" height="1.17" fill="#fcebee"/>
<rect x="1" y="18" width="1.11" height="1.17" fill="#fce5e8"/>
<rect x="2" y="18" width="1.11" height="1.17" fill="#fce8eb"/>
<rect x="3" y="18" width="1.11" height="1.17" fill="#fceef1"/>
<rect x="4" y="18" width="1.11" height="1.17" fill="#ebebfe"/>
<rect x="5" y="18" width="1.11" height="1.17" fill="#f5f5fe"/>
<rect x="6" y="18" width="1.11" height="1.17" fill="#fdf2f5"/>
<rect x="7" y="18" width="1.11" height="1.17" fill="#fdf6f9"/>
<rect x="8" y="18" width="1.11" height="1.17" fill="#fefcfc"/>
<rect x="9" y="18" width="1.11" height="1.17" fill="#ebebfe"/>
<rect x="10" y="18" width="1.11" height="1.17" fill="#ebebfe"/>
<rect x="11" y="18" width="1.11" height="1.17" fill="#fdf6f9"/>
<rect x="12" y="18" width="1.11" height="1.17" fill="#fdf2f5"/>
<rect x="13" y="18" width="1.11" height="1.17" fill="#fdf4f7"/>
<rect x="14" y="18" width="1.11" height="1.17" fill="#fdf9fc"/>
<rect x="15" y="18" width="1.11" height="1.17" fill="#fefcfc"/>
<rect x="16" y="18" width="1.11" height="1.17" fill="#fdf6f9"/>
<rect x="17" y="18" width="1.11" height="1.17" fill="#fdf9fc"/>
<rect x="18" y="18" width="1.11" height="1.17" fill="#fefcfc"/>
<rect x="0" y="19" width="1.11" height="1.17" fill="#fce8eb"/>
<rect x="1" y="19" width="1.11" height="1.17" fill="#fceaed"/>
<rect x="2" y="19" width="1.11" height="1.17" fill="#fceef1"/>
<rect x="3" y="19" width="1.11" height="1.17" fill="#c8c8fc"/>
<rect x="4" y="19" width="1.11" height="1.17" fill="#7878f9"/>
<rect x="5" y="19" width="1.11" height="1.17" fill="#a0a0fa"/>
<rect x="6" y="19" width="1.11" height="1.17" fill="#aaaafb"/>
<rect x="7" y="19" width="1.11" height="1.17" fill="#fdf2f5"/>
<rect x="8" y="19" width="1.11" height="1.17" fill="#dcdcfd"/>
<rect x="9" y="19" width="1.11" height="1.17" fill="#d7d7fd"/>
<rect x="10" y="19" width="1.11" height="1.17" fill="#fdf6f9"/>
<rect x="11" y="19" width="1.11" height="1.17" fill="#fdf2f5"/>
<rect x="12" y="19" width="1.11" height="1.17" fill="#fefcfc"/>
<rect x="13" y="19" width="1.11" height="1.17" fill="#fefcfc"/>
<rect x="14" y="19" width="1.11" height="1.17" fill="#fefcfc"/>
<rect x="15" y="19" width="1.11" height="1.17" fill="#fefcfc"/>
<rect x="16" y="19" width="1.11" height="1.17" fill="#fefcfc"/>
<rect x="17" y="19" width="1.11" height="1.17" fill="#fefcfc"/>
<rect x="18" y="19" width="1.11" height="1.17" fill="#fefcfc"/>
<rect x="0" y="20" width="1.11" height="1.17" fill="#fce5e8"/>
<rect x="1" y="20" width="1.11" height="1.17" fill="#fceaed"/>
<rect x="2" y="20" width="1.11" height="1.17" fill="#fceef1"/>
<rect x="3" y="20" width="1.11" height="1.17" fill="#fdf2f5"/>
<rect x="4" y="20" width="1.11" height="1.17" fill="#fdf6f9"/>
<rect x="5" y="20" width="1.11" height="1.17" fill="#fdf6f9"/>
<rect x="6" y="20" width="1.11" height="1.17" fill="#fdf6f9"/>
<rect x="7" y="20" width="1.11" height="1.17" fill="#fdf9fc"/>
<rect x="8" y="20" width="1.11" height="1.17" fill="#fefcfc"/>
<rect x="9" y="20" width="1.11" height="1.17" fill="#fefcfc"/>
<rect x="10" y="20" width="1.11" height="1.17" fill="#fefcfc"/>
<rect x="11" y="20" width="1.11" height="1.17" fill="#fefcfc"/>
<rect x="12" y="20" width="1.11" height="1.17" fill="#fefcfc"/>
<rect x="13" y="20" width="1.11" height="1.17" fill="#fefcfc"/>
<rect x="14" y="20" width="1.11" height="1.17" fill="#fefcfc"/>
<rect x="15" y="20" width="1.11" height="1.17" fill="#fefcfc"/>
<rect x="16" y="20" width="1.11" height="1.17" fill="#fefcfc"/>
<rect x="17" y="20" width="1.11" height="1.17" fill="#fefcfc"/>
<rect x="18" y="20" width="1.11" height="1.17" fill="#fefcfc"/>
</g>
<path d="M514.6,554.3 L655,547.3 L660,540 L510,540 Z" fill="#fff"/><path d="M655.3,547 L660,547 L660,668 L655.8,668 Z" fill="#fff"/><path d="M514.6,665.2 L656.5,654.3 L660,654.3 L660,668 L514.6,668 Z" fill="#fff"/><path d="M514.7,554.2 L520,552 L526,550 L533,547.3" fill="none" stroke="#3a3a3a" stroke-width="0.6" stroke-linejoin="round"/><path d="M566.85,584.48 L567.58,589.86 L559.49,590.18 L560.95,600.94 L544.77,601.58 L545.5,606.96 L553.59,606.64 L555.05,617.4 L563.14,617.07 L563.87,622.45 L571.96,622.13 L572.69,627.51 L580.78,627.19 L581.51,632.56 L589.6,632.24 L588.87,626.86 L596.96,626.54 L596.23,621.16 L604.32,620.84 L603.59,615.46 L611.68,615.14 L610.95,609.76 L619.04,609.44 L617.58,598.69 L609.49,599.01 L608.76,593.63 L600.67,593.95 L599.94,588.57 L583.76,589.22 L582.3,578.46 L574.21,578.78 L574.94,584.16 Z" fill="none" stroke="#8a8f2c" stroke-width="1.2" stroke-linejoin="miter"/><path d="M560.22,595.56 L592.58,594.27 L593.31,599.65 L601.4,599.33 L602.86,610.09 L594.77,610.41 L595.5,615.79 L579.32,616.43 L578.59,611.05 L562.41,611.7 L561.68,606.32 L553.59,606.64 L552.86,601.26 L560.95,600.94 Z" fill="none" stroke="#8a8f2c" stroke-width="1" stroke-linejoin="miter"/><path d="M576.4,594.92 L584.49,594.6 L585.22,599.97 L593.31,599.65 L594.77,610.41 L586.68,610.73 L587.41,616.11 L579.32,616.43 L578.59,611.05 L570.5,611.37 L569.04,600.62 L577.13,600.3 Z" fill="none" stroke="#a8302e" stroke-width="1" stroke-linejoin="miter"/><path d="M566,598 L566.66,596.78 L568.22,597.69 L569.24,597.33 L569.74,595.7 L571.33,596.71 L572,595.5 L573.24,595 L573.67,597.2 L575.14,595.94 L576.17,596.15 L577,597 L577.57,595.39 L579.26,597.12 L580.06,596.17 L581,595.67 L581.65,594.29 L583,595 L583.75,596.07 L584.81,596.23 L586.26,595.22 L586.84,596.82 L587.97,596.76 L589,597 L589.98,597.44 L590.68,598.6 L591.58,599.25 L593.08,598.39 L594,599 L594.57,599.91 L595.9,599.8 L595.95,601.4 L597.48,601.03 L598,602 L599.66,602.42 L599.41,603.79 L598.72,605.39 L600,606 L599.36,606.81 L598.59,607.45 L598.29,608.72 L596.87,608.5 L596,609 L596.33,609.98 L595.78,611.18 L597.17,611.89 L597,613 L595.57,612.76 L594.75,613.33 L594.88,615.18 L594.62,616.49 L593,616 L591.97,615.94 L590.77,616.73 L589.91,615.84 L588.8,616.18 L588,615 L586.87,615.4 L586.06,616.05 L586.85,617.88 L585.81,618.35 L585,619 L583.76,619.98 L582.87,619.27 L581.94,618.68 L581.17,617.33 L580,618 L578.3,618.2 L577.73,617.27 L578.53,614.97 L577,615 L575.87,615.47 L575.13,613.97 L573.73,615.75 L573.27,612.84 L572,614 L570.25,614.15 L569.95,612.85 L569.38,611.82 L568.91,610.69 L568,610 L566.31,610.09 L565.9,608.9 L566.51,606.69 L564.32,607.28 L564,606 L563.96,604.72 L565.39,604.54 L566.38,604.04 L565.99,602.49 L567,602 L568.05,600.68 L565.25,600.31 L565.65,599.15 Z" fill="none" stroke="#f055f0" stroke-width="0.84" stroke-linejoin="round"/><circle cx="592" cy="603" r="0.9" fill="#ccc" stroke="#888" stroke-width="0.3"/><circle cx="598" cy="616" r="0.9" fill="#ccc" stroke="#888" stroke-width="0.3"/><circle cx="585" cy="614" r="0.9" fill="#ccc" stroke="#888" stroke-width="0.3"/><circle cx="580" cy="618" r="0.9" fill="#ccc" stroke="#888" stroke-width="0.3"/><circle cx="570" cy="609" r="0.9" fill="#ccc" stroke="#888" stroke-width="0.3"/><circle cx="574" cy="607" r="0.9" fill="#ccc" stroke="#888" stroke-width="0.3"/><circle cx="565.5" cy="609" r="0.9" fill="#ccc" stroke="#888" stroke-width="0.3"/>
</g>
<rect x="514.7" y="547.3" width="144.8" height="117.8" fill="none" stroke="#8c8c8c" stroke-width="0.9"/>
<text x="519.4" y="557.3" font-size="10.2" font-weight="bold" fill="#111">r)</text>
<linearGradient id="g23" x1="0" y1="0" x2="0" y2="1">
<stop offset="0" stop-color="#f2484b"/>
<stop offset="0.05" stop-color="#f35a5d"/>
<stop offset="0.1" stop-color="#f46c6f"/>
<stop offset="0.15" stop-color="#f57e81"/>
<stop offset="0.2" stop-color="#f79193"/>
<stop offset="0.25" stop-color="#f8a3a5"/>
<stop offset="0.3" stop-color="#f9b5b7"/>
<stop offset="0.35" stop-color="#fbc8c9"/>
<stop offset="0.4" stop-color="#fcdadb"/>
<stop offset="0.45" stop-color="#fdeced"/>
<stop offset="0.5" stop-color="#ffffff"/>
<stop offset="0.55" stop-color="#ededfe"/>
<stop offset="0.6" stop-color="#dbdbfd"/>
<stop offset="0.65" stop-color="#c9c9fc"/>
<stop offset="0.7" stop-color="#b7b7fb"/>
<stop offset="0.75" stop-color="#a5a5fb"/>
<stop offset="0.8" stop-color="#9393fa"/>
<stop offset="0.85" stop-color="#8181f9"/>
<stop offset="0.9" stop-color="#6f6ff8"/>
<stop offset="0.95" stop-color="#5d5df7"/>
<stop offset="1" stop-color="#4b4bf7"/>
</linearGradient>
<rect x="663.7" y="547.3" width="6.1" height="117.8" fill="url(#g23)" stroke="#8c8c8c" stroke-width="0.6"/>
<line x1="669.8" y1="665.1" x2="671.3" y2="665.1" stroke="#666" stroke-width="0.5"/>
<text x="672" y="667.3" font-size="6.2" fill="#222">−2.0</text>
<line x1="669.8" y1="650.38" x2="671.3" y2="650.38" stroke="#666" stroke-width="0.5"/>
<text x="672" y="652.58" font-size="6.2" fill="#222">−1.5</text>
<line x1="669.8" y1="635.65" x2="671.3" y2="635.65" stroke="#666" stroke-width="0.5"/>
<text x="672" y="637.85" font-size="6.2" fill="#222">−1.0</text>
<line x1="669.8" y1="620.92" x2="671.3" y2="620.92" stroke="#666" stroke-width="0.5"/>
<text x="672" y="623.12" font-size="6.2" fill="#222">−0.5</text>
<line x1="669.8" y1="606.2" x2="671.3" y2="606.2" stroke="#666" stroke-width="0.5"/>
<text x="672" y="608.4" font-size="6.2" fill="#222">0.0</text>
<line x1="669.8" y1="591.48" x2="671.3" y2="591.48" stroke="#666" stroke-width="0.5"/>
<text x="672" y="593.68" font-size="6.2" fill="#222">0.5</text>
<line x1="669.8" y1="576.75" x2="671.3" y2="576.75" stroke="#666" stroke-width="0.5"/>
<text x="672" y="578.95" font-size="6.2" fill="#222">1.0</text>
<line x1="669.8" y1="562.02" x2="671.3" y2="562.02" stroke="#666" stroke-width="0.5"/>
<text x="672" y="564.23" font-size="6.2" fill="#222">1.5</text>
<line x1="669.8" y1="547.3" x2="671.3" y2="547.3" stroke="#666" stroke-width="0.5"/>
<text x="672" y="549.5" font-size="6.2" fill="#222">2.0</text>
</svg></body></html>
